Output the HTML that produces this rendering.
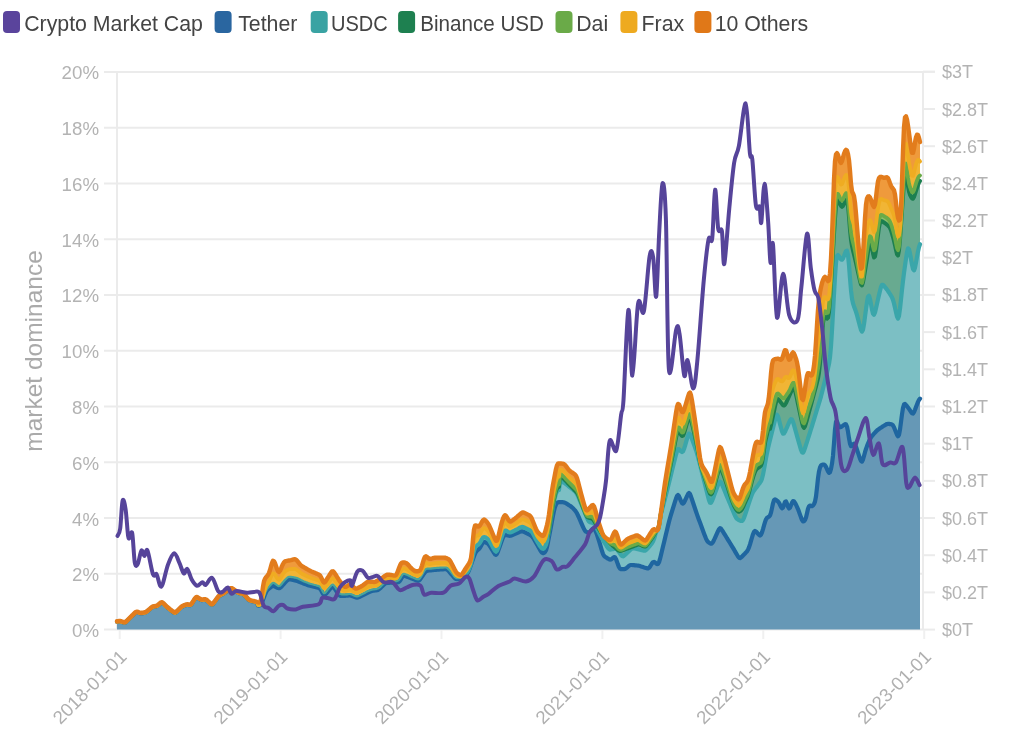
<!DOCTYPE html>
<html><head><meta charset="utf-8"><style>
html,body{margin:0;padding:0;background:#fff;width:1024px;height:740px;overflow:hidden}
svg{display:block;filter:blur(0.4px)}
.lb{font-family:"Liberation Sans",sans-serif;font-size:18px;fill:#b3b3b3}
.lg{font-family:"Liberation Sans",sans-serif;font-size:21.3px;fill:#444}
.tt{font-family:"Liberation Sans",sans-serif;font-size:24.5px;fill:#aaa}
.lbx{font-family:"Liberation Sans",sans-serif;font-size:18.6px;fill:#b0b0b0}
.lbl{font-family:"Liberation Sans",sans-serif;font-size:18.7px;fill:#b3b3b3}
</style></head><body>
<svg width="1024" height="740" viewBox="0 0 1024 740">
<rect width="1024" height="740" fill="#fff"/>
<line x1="104" y1="629.6" x2="923" y2="629.6" stroke="#ebebeb" stroke-width="2"/>
<text x="99" y="637.0" text-anchor="end" class="lbl">0%</text>
<line x1="104" y1="573.8" x2="923" y2="573.8" stroke="#ebebeb" stroke-width="2"/>
<text x="99" y="581.2" text-anchor="end" class="lbl">2%</text>
<line x1="104" y1="518.1" x2="923" y2="518.1" stroke="#ebebeb" stroke-width="2"/>
<text x="99" y="525.5" text-anchor="end" class="lbl">4%</text>
<line x1="104" y1="462.3" x2="923" y2="462.3" stroke="#ebebeb" stroke-width="2"/>
<text x="99" y="469.7" text-anchor="end" class="lbl">6%</text>
<line x1="104" y1="406.5" x2="923" y2="406.5" stroke="#ebebeb" stroke-width="2"/>
<text x="99" y="413.9" text-anchor="end" class="lbl">8%</text>
<line x1="104" y1="350.8" x2="923" y2="350.8" stroke="#ebebeb" stroke-width="2"/>
<text x="99" y="358.1" text-anchor="end" class="lbl">10%</text>
<line x1="104" y1="295.0" x2="923" y2="295.0" stroke="#ebebeb" stroke-width="2"/>
<text x="99" y="302.4" text-anchor="end" class="lbl">12%</text>
<line x1="104" y1="239.2" x2="923" y2="239.2" stroke="#ebebeb" stroke-width="2"/>
<text x="99" y="246.6" text-anchor="end" class="lbl">14%</text>
<line x1="104" y1="183.4" x2="923" y2="183.4" stroke="#ebebeb" stroke-width="2"/>
<text x="99" y="190.8" text-anchor="end" class="lbl">16%</text>
<line x1="104" y1="127.7" x2="923" y2="127.7" stroke="#ebebeb" stroke-width="2"/>
<text x="99" y="135.1" text-anchor="end" class="lbl">18%</text>
<line x1="104" y1="71.9" x2="923" y2="71.9" stroke="#ebebeb" stroke-width="2"/>
<text x="99" y="79.3" text-anchor="end" class="lbl">20%</text>
<line x1="935" y1="71.8" x2="923" y2="71.8" stroke="#ebebeb" stroke-width="2"/>
<line x1="923" y1="629.6" x2="935" y2="629.6" stroke="#ebebeb" stroke-width="2"/>
<text x="942" y="636.1" class="lb">$0T</text>
<line x1="923" y1="592.4" x2="935" y2="592.4" stroke="#ebebeb" stroke-width="2"/>
<text x="942" y="598.9" class="lb">$0.2T</text>
<line x1="923" y1="555.2" x2="935" y2="555.2" stroke="#ebebeb" stroke-width="2"/>
<text x="942" y="561.7" class="lb">$0.4T</text>
<line x1="923" y1="518.0" x2="935" y2="518.0" stroke="#ebebeb" stroke-width="2"/>
<text x="942" y="524.5" class="lb">$0.6T</text>
<line x1="923" y1="480.9" x2="935" y2="480.9" stroke="#ebebeb" stroke-width="2"/>
<text x="942" y="487.4" class="lb">$0.8T</text>
<line x1="923" y1="443.7" x2="935" y2="443.7" stroke="#ebebeb" stroke-width="2"/>
<text x="942" y="450.2" class="lb">$1T</text>
<line x1="923" y1="406.5" x2="935" y2="406.5" stroke="#ebebeb" stroke-width="2"/>
<text x="942" y="413.0" class="lb">$1.2T</text>
<line x1="923" y1="369.3" x2="935" y2="369.3" stroke="#ebebeb" stroke-width="2"/>
<text x="942" y="375.8" class="lb">$1.4T</text>
<line x1="923" y1="332.1" x2="935" y2="332.1" stroke="#ebebeb" stroke-width="2"/>
<text x="942" y="338.6" class="lb">$1.6T</text>
<line x1="923" y1="294.9" x2="935" y2="294.9" stroke="#ebebeb" stroke-width="2"/>
<text x="942" y="301.4" class="lb">$1.8T</text>
<line x1="923" y1="257.7" x2="935" y2="257.7" stroke="#ebebeb" stroke-width="2"/>
<text x="942" y="264.2" class="lb">$2T</text>
<line x1="923" y1="220.5" x2="935" y2="220.5" stroke="#ebebeb" stroke-width="2"/>
<text x="942" y="227.0" class="lb">$2.2T</text>
<line x1="923" y1="183.4" x2="935" y2="183.4" stroke="#ebebeb" stroke-width="2"/>
<text x="942" y="189.9" class="lb">$2.4T</text>
<line x1="923" y1="146.2" x2="935" y2="146.2" stroke="#ebebeb" stroke-width="2"/>
<text x="942" y="152.7" class="lb">$2.6T</text>
<line x1="923" y1="109.0" x2="935" y2="109.0" stroke="#ebebeb" stroke-width="2"/>
<text x="942" y="115.5" class="lb">$2.8T</text>
<line x1="923" y1="71.8" x2="935" y2="71.8" stroke="#ebebeb" stroke-width="2"/>
<text x="942" y="78.3" class="lb">$3T</text>
<line x1="117" y1="71" x2="117" y2="630" stroke="#ebebeb" stroke-width="2"/>
<line x1="923" y1="71" x2="923" y2="630" stroke="#ebebeb" stroke-width="2"/>
<line x1="119.7" y1="630" x2="119.7" y2="639" stroke="#f0f0f0" stroke-width="2"/>
<text transform="translate(127.7 658) rotate(-45)" text-anchor="end" class="lbx">2018-01-01</text>
<line x1="280.6" y1="630" x2="280.6" y2="639" stroke="#f0f0f0" stroke-width="2"/>
<text transform="translate(288.6 658) rotate(-45)" text-anchor="end" class="lbx">2019-01-01</text>
<line x1="441.5" y1="630" x2="441.5" y2="639" stroke="#f0f0f0" stroke-width="2"/>
<text transform="translate(449.5 658) rotate(-45)" text-anchor="end" class="lbx">2020-01-01</text>
<line x1="602.4" y1="630" x2="602.4" y2="639" stroke="#f0f0f0" stroke-width="2"/>
<text transform="translate(610.4 658) rotate(-45)" text-anchor="end" class="lbx">2021-01-01</text>
<line x1="763.3" y1="630" x2="763.3" y2="639" stroke="#f0f0f0" stroke-width="2"/>
<text transform="translate(771.3 658) rotate(-45)" text-anchor="end" class="lbx">2022-01-01</text>
<line x1="924.2" y1="630" x2="924.2" y2="639" stroke="#f0f0f0" stroke-width="2"/>
<text transform="translate(932.2 658) rotate(-45)" text-anchor="end" class="lbx">2023-01-01</text>
<path d="M117 621.8 L118 621.7 L119 621.6 L120 621.6 L121 621.8 L122 622.1 L123 622.4 L124 622.7 L125 622.7 L126 622.1 L127 621.1 L128 620.1 L129 619.1 L130 618.1 L131 617.1 L132 616.1 L133 615.2 L134 614.2 L135 613.2 L136 612.5 L137 612.3 L138 612.5 L139 612.9 L140 613.2 L141 613.4 L142 613.3 L143 613.2 L144 613 L145 612.8 L146 612.4 L147 611.7 L148 610.9 L149 610 L150 609.2 L151 608.3 L152 607.5 L153 606.9 L154 606.7 L155 606.6 L156 606.4 L157 606.1 L158 605.4 L159 604.6 L160 603.7 L161 603 L162 602.8 L163 603.4 L164 604.3 L165 605.3 L166 606.3 L167 607.3 L168 608.2 L169 608.9 L170 609.7 L171 610.5 L172 611.3 L173 612 L174 612.7 L175 613 L176 612.5 L177 611.6 L178 610.6 L179 609.6 L180 608.6 L181 607.6 L182 606.8 L183 606.3 L184 605.8 L185 605.5 L186 605.1 L187 604.9 L188 604.9 L189 605.1 L190 605.2 L191 604.8 L192 603.6 L193 602 L194 600.4 L195 598.8 L196 597.8 L197 597.6 L198 598.1 L199 598.8 L200 599.4 L201 599.9 L202 600.1 L203 600 L204 599.9 L205 599.8 L206 600.1 L207 600.7 L208 601.7 L209 602.6 L210 603.6 L211 604.5 L212 604.7 L213 604.1 L214 602.8 L215 601.5 L216 600.1 L217 598.7 L218 597.4 L219 596.3 L220 595.5 L221 595 L222 594.5 L223 594 L224 593.4 L225 592.7 L226 592 L227 591.3 L228 590.6 L229 589.8 L230 589.1 L231 588.7 L232 588.8 L233 589.4 L234 590.1 L235 590.8 L236 591.6 L237 592.3 L238 592.9 L239 593.3 L240 593.6 L241 593.8 L242 594 L243 594.3 L244 594.9 L245 595.9 L246 597 L247 598.2 L248 599.3 L249 600.1 L250 600.6 L251 600.9 L252 601.2 L253 601.4 L254 601.6 L255 601.9 L256 602.2 L257 602.6 L258 605.5 L259 605.6 L260 605.3 L261 604.1 L262 602.1 L263 599.8 L264 597.2 L265 594.6 L266 592.2 L267 590.4 L268 589.3 L269 588.5 L270 587.8 L271 587 L272 586.3 L273 586 L274 586.1 L275 586.5 L276 587 L277 587.5 L278 588 L279 588.2 L280 587.9 L281 587.1 L282 586 L283 584.9 L284 583.8 L285 582.7 L286 581.6 L287 580.6 L288 579.8 L289 579.4 L290 579.4 L291 579.5 L292 579.8 L293 580 L294 580.2 L295 580.4 L296 580.6 L297 580.9 L298 581.3 L299 581.7 L300 582.1 L301 582.5 L302 582.9 L303 583.3 L304 583.7 L305 584 L306 584.4 L307 584.8 L308 585.2 L309 585.5 L310 585.8 L311 586 L312 586.3 L313 586.5 L314 586.8 L315 587 L316 587.2 L317 587.5 L318 587.7 L319 588 L320 588.7 L321 590 L322 591.9 L323 593.8 L324 595 L325 594.8 L326 593.8 L327 592.6 L328 591.4 L329 590.2 L330 589 L331 587.8 L332 587 L333 586.9 L334 587.7 L335 589.1 L336 590.6 L337 592.1 L338 593.5 L339 594.8 L340 595.7 L341 596 L342 596 L343 596 L344 595.9 L345 595.8 L346 595.7 L347 595.7 L348 595.6 L349 595.5 L350 595.5 L351 595.7 L352 596 L353 596.4 L354 596.8 L355 597.1 L356 597.5 L357 597.7 L358 597.5 L359 597.1 L360 596.7 L361 596.2 L362 595.7 L363 595.2 L364 594.7 L365 594.2 L366 593.7 L367 593.2 L368 592.7 L369 592.2 L370 591.7 L371 591.3 L372 591 L373 590.8 L374 590.6 L375 590.5 L376 590.3 L377 590.2 L378 589.9 L379 589.3 L380 588.4 L381 587.4 L382 586.5 L383 585.5 L384 584.5 L385 583.7 L386 583.2 L387 582.9 L388 582.9 L389 582.8 L390 582.7 L391 582.7 L392 582.6 L393 582.6 L394 582.5 L395 582.5 L396 582.4 L397 582.3 L398 582.2 L399 581.8 L400 580.8 L401 579.1 L402 577.3 L403 576.1 L404 575.7 L405 576 L406 576.3 L407 576.7 L408 577.1 L409 577.4 L410 577.8 L411 578.2 L412 578.6 L413 579 L414 579.4 L415 579.8 L416 580.2 L417 580.5 L418 580.8 L419 580.5 L420 579.5 L421 578.1 L422 576.6 L423 575.2 L424 573.7 L425 572.3 L426 571.3 L427 570.8 L428 570.6 L429 570.5 L430 570.4 L431 570.3 L432 570.2 L433 570.1 L434 570 L435 569.9 L436 569.8 L437 569.7 L438 569.7 L439 569.6 L440 569.5 L441 569.4 L442 569.4 L443 569.3 L444 569.2 L445 569.2 L446 569.2 L447 569.5 L448 570.3 L449 571.4 L450 572.6 L451 573.8 L452 575 L453 576.2 L454 577.3 L455 578.4 L456 579 L457 579.1 L458 579 L459 578.7 L460 578.4 L461 577.9 L462 577.3 L463 576.6 L464 575.9 L465 575.3 L466 574.6 L467 573.8 L468 572.5 L469 570.3 L470 567.6 L471 564.8 L472 561.9 L473 559.1 L474 556.3 L475 553.7 L476 551.8 L477 550.6 L478 549.8 L479 548.9 L480 547.6 L481 545.9 L482 544.1 L483 542.6 L484 541.9 L485 542.1 L486 542.5 L487 543 L488 543.7 L489 544.8 L490 546.3 L491 547.9 L492 549.6 L493 551.2 L494 552.9 L495 554.4 L496 554.9 L497 553.8 L498 551.4 L499 548.6 L500 545.8 L501 542.9 L502 540.1 L503 537.5 L504 535.7 L505 535.1 L506 535.1 L507 535.3 L508 535.5 L509 535.7 L510 535.8 L511 535.6 L512 535.2 L513 534.8 L514 534.4 L515 533.9 L516 533.5 L517 533.1 L518 532.6 L519 532.2 L520 531.7 L521 531.4 L522 531.3 L523 531.5 L524 531.9 L525 532.4 L526 532.9 L527 533.4 L528 533.9 L529 534.4 L530 534.9 L531 535.5 L532 536.3 L533 537.6 L534 539.2 L535 540.9 L536 542.7 L537 544.5 L538 546.2 L539 548 L540 549.8 L541 551.4 L542 552.7 L543 553.2 L544 552.8 L545 552 L546 550.3 L547 546.9 L548 542.2 L549 536.9 L550 531.6 L551 526.3 L552 520.9 L553 515.7 L554 510.8 L555 507 L556 504.5 L557 502.9 L558 502.3 L559 502.2 L560 502.2 L561 502.2 L562 502.2 L563 502.2 L564 502.4 L565 502.7 L566 503.3 L567 503.9 L568 504.5 L569 505.2 L570 505.8 L571 506.5 L572 507.3 L573 508.2 L574 509.3 L575 510.4 L576 511.7 L577 513.4 L578 515.5 L579 517.7 L580 520 L581 522.3 L582 524.6 L583 526.8 L584 529 L585 530.7 L586 531.7 L587 532.2 L588 532.5 L589 532.4 L590 531.7 L591 530.7 L592 529.6 L593 528.6 L594 528.4 L595 529.7 L596 532.1 L597 534.8 L598 537.7 L599 540.8 L600 544.1 L601 547.6 L602 551 L603 553.9 L604 555.7 L605 556.7 L606 557.4 L607 558 L608 558.7 L609 559.2 L610 559.6 L611 559.5 L612 558.8 L613 557.9 L614 557.1 L615 557.3 L616 559 L617 561.8 L618 564.6 L619 567.1 L620 568.6 L621 569.1 L622 569.2 L623 569.2 L624 569.2 L625 569 L626 568.4 L627 567.6 L628 566.7 L629 565.8 L630 565.2 L631 565 L632 565 L633 565.1 L634 565.2 L635 565.3 L636 565.4 L637 565.5 L638 565.6 L639 565.8 L640 566.1 L641 566.4 L642 566.7 L643 567 L644 567.4 L645 567.7 L646 568 L647 568.3 L648 568.4 L649 567.8 L650 566.6 L651 565 L652 563.4 L653 562.2 L654 561.9 L655 562.4 L656 563.3 L657 564.1 L658 564 L659 562.3 L660 558.9 L661 554.9 L662 550.7 L663 546.6 L664 542.4 L665 538.2 L666 534.1 L667 529.9 L668 525.8 L669 521.8 L670 518 L671 514.6 L672 511.3 L673 508.1 L674 504.9 L675 501.7 L676 498.6 L677 496 L678 495 L679 496.2 L680 498.6 L681 501.1 L682 503.1 L683 503.7 L684 502.6 L685 500.5 L686 498.3 L687 496.1 L688 494.1 L689 493.1 L690 494.1 L691 496.6 L692 499.5 L693 502.5 L694 505.5 L695 508.5 L696 511.5 L697 514.4 L698 517.2 L699 519.9 L700 522.6 L701 525.3 L702 528 L703 530.7 L704 533.4 L705 536 L706 538.6 L707 540.7 L708 541.9 L709 542.7 L710 543.3 L711 543.7 L712 543.4 L713 542 L714 540 L715 537.8 L716 535.6 L717 533.4 L718 531.2 L719 529.2 L720 528.2 L721 528.7 L722 530.1 L723 531.7 L724 533.3 L725 534.9 L726 536.5 L727 538.2 L728 539.8 L729 541.4 L730 543 L731 544.7 L732 546.3 L733 547.9 L734 549.6 L735 551.4 L736 553.1 L737 554.8 L738 556.5 L739 557.7 L740 558.1 L741 557.5 L742 556.6 L743 555.5 L744 554.5 L745 553.5 L746 552.4 L747 551.3 L748 549.7 L749 547.4 L750 544.3 L751 540.9 L752 537.5 L753 534.2 L754 531.8 L755 531 L756 531.6 L757 532.6 L758 533.8 L759 534.8 L760 535.5 L761 534.8 L762 532.4 L763 529.1 L764 525.5 L765 522.1 L766 519.3 L767 517.8 L768 517.2 L769 516.7 L770 515.5 L771 512.6 L772 508.1 L773 503.3 L774 500.2 L775 499.4 L776 499.9 L777 500.7 L778 501.5 L779 502.8 L780 504.8 L781 507 L782 508.3 L783 507.5 L784 504.7 L785 502 L786 501.5 L787 503.6 L788 506.8 L789 508.5 L790 507.6 L791 505.2 L792 502.7 L793 501.2 L794 501.3 L795 502.8 L796 504.7 L797 506.8 L798 509.1 L799 511.8 L800 514.6 L801 517.4 L802 519.9 L803 521.5 L804 521.3 L805 520 L806 517.4 L807 513.2 L808 508.7 L809 506.2 L810 505.6 L811 505.9 L812 506.1 L813 505.5 L814 504.1 L815 501.6 L816 496.5 L817 487.7 L818 478.2 L819 471.4 L820 467.5 L821 465.5 L822 464.8 L823 464.6 L824 464.6 L825 465.2 L826 466.9 L827 469.2 L828 471.4 L829 472.9 L830 472.2 L831 468.9 L832 463.7 L833 455.7 L834 443.2 L835 429.5 L836 421.8 L837 421.4 L838 424 L839 426.4 L840 427.3 L841 427 L842 426.3 L843 425.6 L844 424.8 L845 424.2 L846 424.3 L847 426.5 L848 431.7 L849 438.2 L850 443.7 L851 446.2 L852 445.9 L853 444.4 L854 443.6 L855 444.5 L856 446.8 L857 449.7 L858 452.7 L859 455.6 L860 458.6 L861 461 L862 461.6 L863 459.5 L864 456 L865 452.2 L866 448.9 L867 446.1 L868 443.6 L869 441.2 L870 439.1 L871 437.4 L872 436 L873 434.8 L874 433.7 L875 432.6 L876 431.5 L877 430.5 L878 429.7 L879 429 L880 428.3 L881 427.6 L882 427 L883 426.3 L884 425.7 L885 425.1 L886 424.5 L887 424 L888 423.9 L889 423.9 L890 424.1 L891 424.2 L892 424.5 L893 425.4 L894 427.2 L895 429.7 L896 432.3 L897 434.8 L898 436.3 L899 434.8 L900 429.5 L901 422 L902 414.3 L903 407.9 L904 404.5 L905 404 L906 405 L907 406.2 L908 407.5 L909 408.9 L910 410.4 L911 412 L912 413.3 L913 413.6 L914 412.1 L915 409.7 L916 407 L917 404.4 L918 401.9 L919 399.8 L920 398.6 L920 629.5 L919 629.5 L918 629.5 L917 629.5 L916 629.5 L915 629.5 L914 629.5 L913 629.5 L912 629.5 L911 629.5 L910 629.5 L909 629.5 L908 629.5 L907 629.5 L906 629.5 L905 629.5 L904 629.5 L903 629.5 L902 629.5 L901 629.5 L900 629.5 L899 629.5 L898 629.5 L897 629.5 L896 629.5 L895 629.5 L894 629.5 L893 629.5 L892 629.5 L891 629.5 L890 629.5 L889 629.5 L888 629.5 L887 629.5 L886 629.5 L885 629.5 L884 629.5 L883 629.5 L882 629.5 L881 629.5 L880 629.5 L879 629.5 L878 629.5 L877 629.5 L876 629.5 L875 629.5 L874 629.5 L873 629.5 L872 629.5 L871 629.5 L870 629.5 L869 629.5 L868 629.5 L867 629.5 L866 629.5 L865 629.5 L864 629.5 L863 629.5 L862 629.5 L861 629.5 L860 629.5 L859 629.5 L858 629.5 L857 629.5 L856 629.5 L855 629.5 L854 629.5 L853 629.5 L852 629.5 L851 629.5 L850 629.5 L849 629.5 L848 629.5 L847 629.5 L846 629.5 L845 629.5 L844 629.5 L843 629.5 L842 629.5 L841 629.5 L840 629.5 L839 629.5 L838 629.5 L837 629.5 L836 629.5 L835 629.5 L834 629.5 L833 629.5 L832 629.5 L831 629.5 L830 629.5 L829 629.5 L828 629.5 L827 629.5 L826 629.5 L825 629.5 L824 629.5 L823 629.5 L822 629.5 L821 629.5 L820 629.5 L819 629.5 L818 629.5 L817 629.5 L816 629.5 L815 629.5 L814 629.5 L813 629.5 L812 629.5 L811 629.5 L810 629.5 L809 629.5 L808 629.5 L807 629.5 L806 629.5 L805 629.5 L804 629.5 L803 629.5 L802 629.5 L801 629.5 L800 629.5 L799 629.5 L798 629.5 L797 629.5 L796 629.5 L795 629.5 L794 629.5 L793 629.5 L792 629.5 L791 629.5 L790 629.5 L789 629.5 L788 629.5 L787 629.5 L786 629.5 L785 629.5 L784 629.5 L783 629.5 L782 629.5 L781 629.5 L780 629.5 L779 629.5 L778 629.5 L777 629.5 L776 629.5 L775 629.5 L774 629.5 L773 629.5 L772 629.5 L771 629.5 L770 629.5 L769 629.5 L768 629.5 L767 629.5 L766 629.5 L765 629.5 L764 629.5 L763 629.5 L762 629.5 L761 629.5 L760 629.5 L759 629.5 L758 629.5 L757 629.5 L756 629.5 L755 629.5 L754 629.5 L753 629.5 L752 629.5 L751 629.5 L750 629.5 L749 629.5 L748 629.5 L747 629.5 L746 629.5 L745 629.5 L744 629.5 L743 629.5 L742 629.5 L741 629.5 L740 629.5 L739 629.5 L738 629.5 L737 629.5 L736 629.5 L735 629.5 L734 629.5 L733 629.5 L732 629.5 L731 629.5 L730 629.5 L729 629.5 L728 629.5 L727 629.5 L726 629.5 L725 629.5 L724 629.5 L723 629.5 L722 629.5 L721 629.5 L720 629.5 L719 629.5 L718 629.5 L717 629.5 L716 629.5 L715 629.5 L714 629.5 L713 629.5 L712 629.5 L711 629.5 L710 629.5 L709 629.5 L708 629.5 L707 629.5 L706 629.5 L705 629.5 L704 629.5 L703 629.5 L702 629.5 L701 629.5 L700 629.5 L699 629.5 L698 629.5 L697 629.5 L696 629.5 L695 629.5 L694 629.5 L693 629.5 L692 629.5 L691 629.5 L690 629.5 L689 629.5 L688 629.5 L687 629.5 L686 629.5 L685 629.5 L684 629.5 L683 629.5 L682 629.5 L681 629.5 L680 629.5 L679 629.5 L678 629.5 L677 629.5 L676 629.5 L675 629.5 L674 629.5 L673 629.5 L672 629.5 L671 629.5 L670 629.5 L669 629.5 L668 629.5 L667 629.5 L666 629.5 L665 629.5 L664 629.5 L663 629.5 L662 629.5 L661 629.5 L660 629.5 L659 629.5 L658 629.5 L657 629.5 L656 629.5 L655 629.5 L654 629.5 L653 629.5 L652 629.5 L651 629.5 L650 629.5 L649 629.5 L648 629.5 L647 629.5 L646 629.5 L645 629.5 L644 629.5 L643 629.5 L642 629.5 L641 629.5 L640 629.5 L639 629.5 L638 629.5 L637 629.5 L636 629.5 L635 629.5 L634 629.5 L633 629.5 L632 629.5 L631 629.5 L630 629.5 L629 629.5 L628 629.5 L627 629.5 L626 629.5 L625 629.5 L624 629.5 L623 629.5 L622 629.5 L621 629.5 L620 629.5 L619 629.5 L618 629.5 L617 629.5 L616 629.5 L615 629.5 L614 629.5 L613 629.5 L612 629.5 L611 629.5 L610 629.5 L609 629.5 L608 629.5 L607 629.5 L606 629.5 L605 629.5 L604 629.5 L603 629.5 L602 629.5 L601 629.5 L600 629.5 L599 629.5 L598 629.5 L597 629.5 L596 629.5 L595 629.5 L594 629.5 L593 629.5 L592 629.5 L591 629.5 L590 629.5 L589 629.5 L588 629.5 L587 629.5 L586 629.5 L585 629.5 L584 629.5 L583 629.5 L582 629.5 L581 629.5 L580 629.5 L579 629.5 L578 629.5 L577 629.5 L576 629.5 L575 629.5 L574 629.5 L573 629.5 L572 629.5 L571 629.5 L570 629.5 L569 629.5 L568 629.5 L567 629.5 L566 629.5 L565 629.5 L564 629.5 L563 629.5 L562 629.5 L561 629.5 L560 629.5 L559 629.5 L558 629.5 L557 629.5 L556 629.5 L555 629.5 L554 629.5 L553 629.5 L552 629.5 L551 629.5 L550 629.5 L549 629.5 L548 629.5 L547 629.5 L546 629.5 L545 629.5 L544 629.5 L543 629.5 L542 629.5 L541 629.5 L540 629.5 L539 629.5 L538 629.5 L537 629.5 L536 629.5 L535 629.5 L534 629.5 L533 629.5 L532 629.5 L531 629.5 L530 629.5 L529 629.5 L528 629.5 L527 629.5 L526 629.5 L525 629.5 L524 629.5 L523 629.5 L522 629.5 L521 629.5 L520 629.5 L519 629.5 L518 629.5 L517 629.5 L516 629.5 L515 629.5 L514 629.5 L513 629.5 L512 629.5 L511 629.5 L510 629.5 L509 629.5 L508 629.5 L507 629.5 L506 629.5 L505 629.5 L504 629.5 L503 629.5 L502 629.5 L501 629.5 L500 629.5 L499 629.5 L498 629.5 L497 629.5 L496 629.5 L495 629.5 L494 629.5 L493 629.5 L492 629.5 L491 629.5 L490 629.5 L489 629.5 L488 629.5 L487 629.5 L486 629.5 L485 629.5 L484 629.5 L483 629.5 L482 629.5 L481 629.5 L480 629.5 L479 629.5 L478 629.5 L477 629.5 L476 629.5 L475 629.5 L474 629.5 L473 629.5 L472 629.5 L471 629.5 L470 629.5 L469 629.5 L468 629.5 L467 629.5 L466 629.5 L465 629.5 L464 629.5 L463 629.5 L462 629.5 L461 629.5 L460 629.5 L459 629.5 L458 629.5 L457 629.5 L456 629.5 L455 629.5 L454 629.5 L453 629.5 L452 629.5 L451 629.5 L450 629.5 L449 629.5 L448 629.5 L447 629.5 L446 629.5 L445 629.5 L444 629.5 L443 629.5 L442 629.5 L441 629.5 L440 629.5 L439 629.5 L438 629.5 L437 629.5 L436 629.5 L435 629.5 L434 629.5 L433 629.5 L432 629.5 L431 629.5 L430 629.5 L429 629.5 L428 629.5 L427 629.5 L426 629.5 L425 629.5 L424 629.5 L423 629.5 L422 629.5 L421 629.5 L420 629.5 L419 629.5 L418 629.5 L417 629.5 L416 629.5 L415 629.5 L414 629.5 L413 629.5 L412 629.5 L411 629.5 L410 629.5 L409 629.5 L408 629.5 L407 629.5 L406 629.5 L405 629.5 L404 629.5 L403 629.5 L402 629.5 L401 629.5 L400 629.5 L399 629.5 L398 629.5 L397 629.5 L396 629.5 L395 629.5 L394 629.5 L393 629.5 L392 629.5 L391 629.5 L390 629.5 L389 629.5 L388 629.5 L387 629.5 L386 629.5 L385 629.5 L384 629.5 L383 629.5 L382 629.5 L381 629.5 L380 629.5 L379 629.5 L378 629.5 L377 629.5 L376 629.5 L375 629.5 L374 629.5 L373 629.5 L372 629.5 L371 629.5 L370 629.5 L369 629.5 L368 629.5 L367 629.5 L366 629.5 L365 629.5 L364 629.5 L363 629.5 L362 629.5 L361 629.5 L360 629.5 L359 629.5 L358 629.5 L357 629.5 L356 629.5 L355 629.5 L354 629.5 L353 629.5 L352 629.5 L351 629.5 L350 629.5 L349 629.5 L348 629.5 L347 629.5 L346 629.5 L345 629.5 L344 629.5 L343 629.5 L342 629.5 L341 629.5 L340 629.5 L339 629.5 L338 629.5 L337 629.5 L336 629.5 L335 629.5 L334 629.5 L333 629.5 L332 629.5 L331 629.5 L330 629.5 L329 629.5 L328 629.5 L327 629.5 L326 629.5 L325 629.5 L324 629.5 L323 629.5 L322 629.5 L321 629.5 L320 629.5 L319 629.5 L318 629.5 L317 629.5 L316 629.5 L315 629.5 L314 629.5 L313 629.5 L312 629.5 L311 629.5 L310 629.5 L309 629.5 L308 629.5 L307 629.5 L306 629.5 L305 629.5 L304 629.5 L303 629.5 L302 629.5 L301 629.5 L300 629.5 L299 629.5 L298 629.5 L297 629.5 L296 629.5 L295 629.5 L294 629.5 L293 629.5 L292 629.5 L291 629.5 L290 629.5 L289 629.5 L288 629.5 L287 629.5 L286 629.5 L285 629.5 L284 629.5 L283 629.5 L282 629.5 L281 629.5 L280 629.5 L279 629.5 L278 629.5 L277 629.5 L276 629.5 L275 629.5 L274 629.5 L273 629.5 L272 629.5 L271 629.5 L270 629.5 L269 629.5 L268 629.5 L267 629.5 L266 629.5 L265 629.5 L264 629.5 L263 629.5 L262 629.5 L261 629.5 L260 629.5 L259 629.5 L258 629.5 L257 629.5 L256 629.5 L255 629.5 L254 629.5 L253 629.5 L252 629.5 L251 629.5 L250 629.5 L249 629.5 L248 629.5 L247 629.5 L246 629.5 L245 629.5 L244 629.5 L243 629.5 L242 629.5 L241 629.5 L240 629.5 L239 629.5 L238 629.5 L237 629.5 L236 629.5 L235 629.5 L234 629.5 L233 629.5 L232 629.5 L231 629.5 L230 629.5 L229 629.5 L228 629.5 L227 629.5 L226 629.5 L225 629.5 L224 629.5 L223 629.5 L222 629.5 L221 629.5 L220 629.5 L219 629.5 L218 629.5 L217 629.5 L216 629.5 L215 629.5 L214 629.5 L213 629.5 L212 629.5 L211 629.5 L210 629.5 L209 629.5 L208 629.5 L207 629.5 L206 629.5 L205 629.5 L204 629.5 L203 629.5 L202 629.5 L201 629.5 L200 629.5 L199 629.5 L198 629.5 L197 629.5 L196 629.5 L195 629.5 L194 629.5 L193 629.5 L192 629.5 L191 629.5 L190 629.5 L189 629.5 L188 629.5 L187 629.5 L186 629.5 L185 629.5 L184 629.5 L183 629.5 L182 629.5 L181 629.5 L180 629.5 L179 629.5 L178 629.5 L177 629.5 L176 629.5 L175 629.5 L174 629.5 L173 629.5 L172 629.5 L171 629.5 L170 629.5 L169 629.5 L168 629.5 L167 629.5 L166 629.5 L165 629.5 L164 629.5 L163 629.5 L162 629.5 L161 629.5 L160 629.5 L159 629.5 L158 629.5 L157 629.5 L156 629.5 L155 629.5 L154 629.5 L153 629.5 L152 629.5 L151 629.5 L150 629.5 L149 629.5 L148 629.5 L147 629.5 L146 629.5 L145 629.5 L144 629.5 L143 629.5 L142 629.5 L141 629.5 L140 629.5 L139 629.5 L138 629.5 L137 629.5 L136 629.5 L135 629.5 L134 629.5 L133 629.5 L132 629.5 L131 629.5 L130 629.5 L129 629.5 L128 629.5 L127 629.5 L126 629.5 L125 629.5 L124 629.5 L123 629.5 L122 629.5 L121 629.5 L120 629.5 L119 629.5 L118 629.5 L117 629.5Z" fill="#6698b6"/>
<path d="M117 621.8 L118 621.7 L119 621.6 L120 621.6 L121 621.8 L122 622.1 L123 622.4 L124 622.7 L125 622.7 L126 622.1 L127 621.1 L128 620.1 L129 619.1 L130 618.1 L131 617.1 L132 616.1 L133 615.2 L134 614.2 L135 613.2 L136 612.5 L137 612.3 L138 612.5 L139 612.9 L140 613.2 L141 613.4 L142 613.3 L143 613.2 L144 613 L145 612.8 L146 612.4 L147 611.7 L148 610.9 L149 610 L150 609.2 L151 608.3 L152 607.5 L153 606.9 L154 606.7 L155 606.6 L156 606.4 L157 606.1 L158 605.4 L159 604.6 L160 603.7 L161 603 L162 602.8 L163 603.4 L164 604.3 L165 605.3 L166 606.3 L167 607.3 L168 608.2 L169 608.9 L170 609.7 L171 610.5 L172 611.3 L173 612 L174 612.7 L175 613 L176 612.5 L177 611.6 L178 610.6 L179 609.6 L180 608.6 L181 607.6 L182 606.8 L183 606.3 L184 605.8 L185 605.5 L186 605.1 L187 604.9 L188 604.9 L189 605.1 L190 605.2 L191 604.8 L192 603.6 L193 602 L194 600.4 L195 598.8 L196 597.8 L197 597.6 L198 598.1 L199 598.8 L200 599.4 L201 599.9 L202 600.1 L203 600 L204 599.9 L205 599.8 L206 600.1 L207 600.7 L208 601.7 L209 602.6 L210 603.6 L211 604.5 L212 604.7 L213 604.1 L214 602.8 L215 601.5 L216 600.1 L217 598.7 L218 597.4 L219 596.3 L220 595.5 L221 595 L222 594.5 L223 594 L224 593.4 L225 592.7 L226 592 L227 591.3 L228 590.6 L229 589.8 L230 589.1 L231 588.7 L232 588.8 L233 589.4 L234 590.1 L235 590.8 L236 591.6 L237 592.3 L238 592.9 L239 593.3 L240 593.6 L241 593.8 L242 594 L243 594.3 L244 594.9 L245 595.9 L246 597 L247 598.2 L248 599.3 L249 600.1 L250 600.6 L251 600.9 L252 601.2 L253 601.4 L254 601.6 L255 601.9 L256 602.2 L257 602.5 L258 605.4 L259 605.5 L260 605.1 L261 603.8 L262 601.7 L263 599 L264 596.1 L265 593.3 L266 590.9 L267 589.1 L268 587.8 L269 586.8 L270 585.6 L271 584.5 L272 583.5 L273 582.9 L274 583 L275 583.7 L276 584.4 L277 585.2 L278 585.9 L279 586.1 L280 585.7 L281 584.7 L282 583.5 L283 582.3 L284 581.1 L285 580 L286 579 L287 578 L288 577.2 L289 576.9 L290 576.8 L291 576.9 L292 577.1 L293 577.2 L294 577.3 L295 577.5 L296 577.8 L297 578.1 L298 578.6 L299 579.1 L300 579.6 L301 580.1 L302 580.5 L303 580.9 L304 581.4 L305 581.8 L306 582.2 L307 582.6 L308 583 L309 583.4 L310 583.7 L311 584 L312 584.2 L313 584.5 L314 584.8 L315 585 L316 585.3 L317 585.6 L318 585.8 L319 586.2 L320 586.8 L321 588.2 L322 590.1 L323 592 L324 593.2 L325 593 L326 591.9 L327 590.7 L328 589.4 L329 588.1 L330 586.9 L331 585.7 L332 584.8 L333 584.7 L334 585.5 L335 586.9 L336 588.4 L337 589.9 L338 591.4 L339 592.7 L340 593.7 L341 594.1 L342 594.3 L343 594.4 L344 594.5 L345 594.5 L346 594.4 L347 594.3 L348 594.1 L349 594 L350 594 L351 594.2 L352 594.6 L353 595 L354 595.5 L355 595.9 L356 596.2 L357 596.3 L358 596.2 L359 595.8 L360 595.3 L361 594.8 L362 594.3 L363 593.8 L364 593.2 L365 592.7 L366 592.1 L367 591.6 L368 591.1 L369 590.7 L370 590.3 L371 589.9 L372 589.7 L373 589.5 L374 589.4 L375 589.2 L376 589.1 L377 588.8 L378 588.5 L379 587.9 L380 587.1 L381 586.1 L382 585.2 L383 584.3 L384 583.4 L385 582.6 L386 582 L387 581.8 L388 581.7 L389 581.6 L390 581.6 L391 581.6 L392 581.5 L393 581.5 L394 581.5 L395 581.5 L396 581.3 L397 581 L398 580.5 L399 579.8 L400 578.6 L401 576.9 L402 575.2 L403 574.1 L404 573.8 L405 574 L406 574.4 L407 574.8 L408 575.2 L409 575.7 L410 576.2 L411 576.7 L412 577.2 L413 577.6 L414 578.1 L415 578.5 L416 578.9 L417 579.2 L418 579.4 L419 579.1 L420 578.2 L421 576.7 L422 575 L423 573.2 L424 571.5 L425 570 L426 569 L427 568.7 L428 568.7 L429 568.7 L430 568.7 L431 568.6 L432 568.4 L433 568.3 L434 568.2 L435 568.1 L436 568 L437 567.9 L438 567.9 L439 567.8 L440 567.7 L441 567.7 L442 567.6 L443 567.6 L444 567.5 L445 567.5 L446 567.5 L447 567.8 L448 568.6 L449 569.6 L450 570.8 L451 572.1 L452 573.4 L453 574.7 L454 576 L455 577.2 L456 577.9 L457 578.2 L458 578.2 L459 578.1 L460 577.9 L461 577.5 L462 576.8 L463 576 L464 575.2 L465 574.3 L466 573.5 L467 572.5 L468 571.2 L469 569.1 L470 566.5 L471 563.5 L472 559.7 L473 555.2 L474 551 L475 548 L476 546.4 L477 545.5 L478 544.9 L479 544 L480 542.7 L481 541 L482 539.1 L483 537.6 L484 537 L485 537.2 L486 537.7 L487 538.4 L488 539.2 L489 540.4 L490 542 L491 543.8 L492 545.6 L493 547.5 L494 549.3 L495 550.9 L496 551.7 L497 550.8 L498 548.3 L499 545.3 L500 542.1 L501 539 L502 536 L503 533.3 L504 531.3 L505 530.6 L506 530.7 L507 531.2 L508 531.8 L509 532.3 L510 532.5 L511 532.3 L512 531.9 L513 531.4 L514 530.9 L515 530.4 L516 529.8 L517 529.3 L518 528.8 L519 528.2 L520 527.7 L521 527.2 L522 526.9 L523 527 L524 527.4 L525 527.9 L526 528.4 L527 528.9 L528 529.4 L529 529.9 L530 530.4 L531 531.1 L532 532.2 L533 533.7 L534 535.6 L535 537.5 L536 539.4 L537 541.2 L538 542.9 L539 544.5 L540 546 L541 547.4 L542 548.5 L543 548.8 L544 548.3 L545 546.9 L546 544.6 L547 541.1 L548 536.3 L549 530.7 L550 524.6 L551 518.3 L552 512.2 L553 506.6 L554 501.5 L555 497.1 L556 493.7 L557 491.3 L558 490.3 L559 490 L560 481.3 L561 481.6 L562 481.9 L563 482.3 L564 482.7 L565 483.3 L566 484.1 L567 484.9 L568 485.7 L569 486.5 L570 487.3 L571 488.1 L572 488.9 L573 489.7 L574 490.5 L575 491.3 L576 492.4 L577 494.1 L578 496.2 L579 498.5 L580 501 L581 503.4 L582 505.8 L583 508.2 L584 510.6 L585 513.1 L586 515.5 L587 517.8 L588 520 L589 521.5 L590 522.2 L591 522.5 L592 522.7 L593 523 L594 523.6 L595 524.9 L596 526.8 L597 528.7 L598 530.8 L599 532.8 L600 534.8 L601 536.7 L602 538.5 L603 540.2 L604 541.8 L605 543.4 L606 545 L607 546.6 L608 548.1 L609 549.1 L610 549.6 L611 549.5 L612 549.3 L613 549.1 L614 548.9 L615 548.8 L616 548.9 L617 549.5 L618 550.7 L619 552.1 L620 553.6 L621 555 L622 556 L623 556.3 L624 555.8 L625 554.9 L626 554 L627 553 L628 552.1 L629 551.1 L630 550.2 L631 549.3 L632 548.6 L633 548.3 L634 548.3 L635 548.5 L636 548.8 L637 549 L638 549.3 L639 549.5 L640 549.8 L641 550 L642 550.3 L643 550.5 L644 550.7 L645 550.6 L646 550.1 L647 549.1 L648 548 L649 546.8 L650 545.6 L651 544.4 L652 543.1 L653 541.5 L654 539 L655 535.8 L656 532.1 L657 530.4 L658 529.4 L659 525.6 L660 519.4 L661 513.6 L662 509.9 L663 506.2 L664 502.5 L665 498.7 L666 494.8 L667 490.7 L668 486.7 L669 482.7 L670 478.7 L671 474.7 L672 470.6 L673 466.6 L674 462.6 L675 458.6 L676 454.6 L677 451.2 L678 449.2 L679 449.2 L680 450.2 L681 451.4 L682 452.1 L683 451.4 L684 449 L685 445.8 L686 442.3 L687 438.8 L688 435.6 L689 433.7 L690 434.1 L691 436.2 L692 439 L693 441.7 L694 444.6 L695 447.4 L696 450.2 L697 453.3 L698 456.8 L699 460.6 L700 464.6 L701 468.6 L702 472.6 L703 476.6 L704 480.5 L705 484.5 L706 488.5 L707 492.5 L708 496.5 L709 500.2 L710 502.7 L711 502.8 L712 501 L713 498.5 L714 495.8 L715 493.1 L716 490.4 L717 487.7 L718 485.1 L719 482.7 L720 481.6 L721 482.4 L722 484.5 L723 486.9 L724 489.3 L725 491.7 L726 494.1 L727 496.6 L728 499 L729 501.4 L730 503.8 L731 506.2 L732 508.6 L733 511 L734 513.4 L735 515.7 L736 517.6 L737 518.9 L738 519.6 L739 520.1 L740 520.6 L741 521 L742 521 L743 520 L744 517.8 L745 515 L746 512 L747 509 L748 505.9 L749 502.9 L750 499.9 L751 497 L752 494.3 L753 492.2 L754 490.6 L755 489.3 L756 487.9 L757 486.6 L758 485.3 L759 483.9 L760 482.6 L761 481.1 L762 478.6 L763 474.6 L764 469.4 L765 463.8 L766 458.2 L767 453 L768 448.2 L769 444 L770 440 L771 436 L772 432 L773 427.9 L774 423.9 L775 420 L776 416.4 L777 414.8 L778 416.4 L779 419.9 L780 423.9 L781 427.8 L782 431.5 L783 433.7 L784 433.5 L785 431.8 L786 429.5 L787 427.3 L788 425 L789 422.7 L790 420.5 L791 419.1 L792 419.5 L793 421.9 L794 425.2 L795 428.7 L796 432.3 L797 435.8 L798 439.3 L799 442.9 L800 446.4 L801 449.8 L802 452.3 L803 452.7 L804 450.9 L805 448 L806 444.9 L807 441.8 L808 438.6 L809 435.5 L810 432.3 L811 429.2 L812 426 L813 422.7 L814 419.5 L815 416.2 L816 412.9 L817 409.7 L818 406.4 L819 403.2 L820 399.8 L821 396.3 L822 392.4 L823 388.5 L824 384.5 L825 380.5 L826 376.4 L827 372.4 L828 368.4 L829 363.9 L830 357.3 L831 346.1 L832 330.3 L833 312.4 L834 294.1 L835 276.6 L836 262.8 L837 256 L838 255.1 L839 256.3 L840 257.9 L841 259.4 L842 259.7 L843 258.4 L844 256 L845 253.4 L846 251.1 L847 250.6 L848 255 L849 265.3 L850 278.4 L851 290.4 L852 298.8 L853 303.4 L854 306.4 L855 309 L856 311.9 L857 315.2 L858 318.9 L859 322.7 L860 326.4 L861 329.9 L862 331.6 L863 329.7 L864 324.1 L865 316.8 L866 309.2 L867 302 L868 296.7 L869 295.7 L870 299 L871 304.2 L872 309.6 L873 313.7 L874 314.8 L875 312.4 L876 308.3 L877 303.9 L878 299.4 L879 295 L880 290.7 L881 287 L882 284.9 L883 284.9 L884 285.8 L885 287.1 L886 288.3 L887 289.6 L888 291 L889 292.5 L890 294.1 L891 295.7 L892 297.4 L893 299.9 L894 303.5 L895 307.8 L896 312.4 L897 316.6 L898 318.6 L899 316 L900 308.8 L901 299.5 L902 289.9 L903 281 L904 273.1 L905 265.8 L906 258.7 L907 252.2 L908 248.3 L909 249.2 L910 253.5 L911 259 L912 264.5 L913 269 L914 270.4 L915 267.7 L916 262.6 L917 257 L918 251.6 L919 247 L920 244.2 L920 398.6 L919 399.8 L918 401.9 L917 404.4 L916 407 L915 409.7 L914 412.1 L913 413.6 L912 413.3 L911 412 L910 410.4 L909 408.9 L908 407.5 L907 406.2 L906 405 L905 404 L904 404.5 L903 407.9 L902 414.3 L901 422 L900 429.5 L899 434.8 L898 436.3 L897 434.8 L896 432.3 L895 429.7 L894 427.2 L893 425.4 L892 424.5 L891 424.2 L890 424.1 L889 423.9 L888 423.9 L887 424 L886 424.5 L885 425.1 L884 425.7 L883 426.3 L882 427 L881 427.6 L880 428.3 L879 429 L878 429.7 L877 430.5 L876 431.5 L875 432.6 L874 433.7 L873 434.8 L872 436 L871 437.4 L870 439.1 L869 441.2 L868 443.6 L867 446.1 L866 448.9 L865 452.2 L864 456 L863 459.5 L862 461.6 L861 461 L860 458.6 L859 455.6 L858 452.7 L857 449.7 L856 446.8 L855 444.5 L854 443.6 L853 444.4 L852 445.9 L851 446.2 L850 443.7 L849 438.2 L848 431.7 L847 426.5 L846 424.3 L845 424.2 L844 424.8 L843 425.6 L842 426.3 L841 427 L840 427.3 L839 426.4 L838 424 L837 421.4 L836 421.8 L835 429.5 L834 443.2 L833 455.7 L832 463.7 L831 468.9 L830 472.2 L829 472.9 L828 471.4 L827 469.2 L826 466.9 L825 465.2 L824 464.6 L823 464.6 L822 464.8 L821 465.5 L820 467.5 L819 471.4 L818 478.2 L817 487.7 L816 496.5 L815 501.6 L814 504.1 L813 505.5 L812 506.1 L811 505.9 L810 505.6 L809 506.2 L808 508.7 L807 513.2 L806 517.4 L805 520 L804 521.3 L803 521.5 L802 519.9 L801 517.4 L800 514.6 L799 511.8 L798 509.1 L797 506.8 L796 504.7 L795 502.8 L794 501.3 L793 501.2 L792 502.7 L791 505.2 L790 507.6 L789 508.5 L788 506.8 L787 503.6 L786 501.5 L785 502 L784 504.7 L783 507.5 L782 508.3 L781 507 L780 504.8 L779 502.8 L778 501.5 L777 500.7 L776 499.9 L775 499.4 L774 500.2 L773 503.3 L772 508.1 L771 512.6 L770 515.5 L769 516.7 L768 517.2 L767 517.8 L766 519.3 L765 522.1 L764 525.5 L763 529.1 L762 532.4 L761 534.8 L760 535.5 L759 534.8 L758 533.8 L757 532.6 L756 531.6 L755 531 L754 531.8 L753 534.2 L752 537.5 L751 540.9 L750 544.3 L749 547.4 L748 549.7 L747 551.3 L746 552.4 L745 553.5 L744 554.5 L743 555.5 L742 556.6 L741 557.5 L740 558.1 L739 557.7 L738 556.5 L737 554.8 L736 553.1 L735 551.4 L734 549.6 L733 547.9 L732 546.3 L731 544.7 L730 543 L729 541.4 L728 539.8 L727 538.2 L726 536.5 L725 534.9 L724 533.3 L723 531.7 L722 530.1 L721 528.7 L720 528.2 L719 529.2 L718 531.2 L717 533.4 L716 535.6 L715 537.8 L714 540 L713 542 L712 543.4 L711 543.7 L710 543.3 L709 542.7 L708 541.9 L707 540.7 L706 538.6 L705 536 L704 533.4 L703 530.7 L702 528 L701 525.3 L700 522.6 L699 519.9 L698 517.2 L697 514.4 L696 511.5 L695 508.5 L694 505.5 L693 502.5 L692 499.5 L691 496.6 L690 494.1 L689 493.1 L688 494.1 L687 496.1 L686 498.3 L685 500.5 L684 502.6 L683 503.7 L682 503.1 L681 501.1 L680 498.6 L679 496.2 L678 495 L677 496 L676 498.6 L675 501.7 L674 504.9 L673 508.1 L672 511.3 L671 514.6 L670 518 L669 521.8 L668 525.8 L667 529.9 L666 534.1 L665 538.2 L664 542.4 L663 546.6 L662 550.7 L661 554.9 L660 558.9 L659 562.3 L658 564 L657 564.1 L656 563.3 L655 562.4 L654 561.9 L653 562.2 L652 563.4 L651 565 L650 566.6 L649 567.8 L648 568.4 L647 568.3 L646 568 L645 567.7 L644 567.4 L643 567 L642 566.7 L641 566.4 L640 566.1 L639 565.8 L638 565.6 L637 565.5 L636 565.4 L635 565.3 L634 565.2 L633 565.1 L632 565 L631 565 L630 565.2 L629 565.8 L628 566.7 L627 567.6 L626 568.4 L625 569 L624 569.2 L623 569.2 L622 569.2 L621 569.1 L620 568.6 L619 567.1 L618 564.6 L617 561.8 L616 559 L615 557.3 L614 557.1 L613 557.9 L612 558.8 L611 559.5 L610 559.6 L609 559.2 L608 558.7 L607 558 L606 557.4 L605 556.7 L604 555.7 L603 553.9 L602 551 L601 547.6 L600 544.1 L599 540.8 L598 537.7 L597 534.8 L596 532.1 L595 529.7 L594 528.4 L593 528.6 L592 529.6 L591 530.7 L590 531.7 L589 532.4 L588 532.5 L587 532.2 L586 531.7 L585 530.7 L584 529 L583 526.8 L582 524.6 L581 522.3 L580 520 L579 517.7 L578 515.5 L577 513.4 L576 511.7 L575 510.4 L574 509.3 L573 508.2 L572 507.3 L571 506.5 L570 505.8 L569 505.2 L568 504.5 L567 503.9 L566 503.3 L565 502.7 L564 502.4 L563 502.2 L562 502.2 L561 502.2 L560 502.2 L559 502.2 L558 502.3 L557 502.9 L556 504.5 L555 507 L554 510.8 L553 515.7 L552 520.9 L551 526.3 L550 531.6 L549 536.9 L548 542.2 L547 546.9 L546 550.3 L545 552 L544 552.8 L543 553.2 L542 552.7 L541 551.4 L540 549.8 L539 548 L538 546.2 L537 544.5 L536 542.7 L535 540.9 L534 539.2 L533 537.6 L532 536.3 L531 535.5 L530 534.9 L529 534.4 L528 533.9 L527 533.4 L526 532.9 L525 532.4 L524 531.9 L523 531.5 L522 531.3 L521 531.4 L520 531.7 L519 532.2 L518 532.6 L517 533.1 L516 533.5 L515 533.9 L514 534.4 L513 534.8 L512 535.2 L511 535.6 L510 535.8 L509 535.7 L508 535.5 L507 535.3 L506 535.1 L505 535.1 L504 535.7 L503 537.5 L502 540.1 L501 542.9 L500 545.8 L499 548.6 L498 551.4 L497 553.8 L496 554.9 L495 554.4 L494 552.9 L493 551.2 L492 549.6 L491 547.9 L490 546.3 L489 544.8 L488 543.7 L487 543 L486 542.5 L485 542.1 L484 541.9 L483 542.6 L482 544.1 L481 545.9 L480 547.6 L479 548.9 L478 549.8 L477 550.6 L476 551.8 L475 553.7 L474 556.3 L473 559.1 L472 561.9 L471 564.8 L470 567.6 L469 570.3 L468 572.5 L467 573.8 L466 574.6 L465 575.3 L464 575.9 L463 576.6 L462 577.3 L461 577.9 L460 578.4 L459 578.7 L458 579 L457 579.1 L456 579 L455 578.4 L454 577.3 L453 576.2 L452 575 L451 573.8 L450 572.6 L449 571.4 L448 570.3 L447 569.5 L446 569.2 L445 569.2 L444 569.2 L443 569.3 L442 569.4 L441 569.4 L440 569.5 L439 569.6 L438 569.7 L437 569.7 L436 569.8 L435 569.9 L434 570 L433 570.1 L432 570.2 L431 570.3 L430 570.4 L429 570.5 L428 570.6 L427 570.8 L426 571.3 L425 572.3 L424 573.7 L423 575.2 L422 576.6 L421 578.1 L420 579.5 L419 580.5 L418 580.8 L417 580.5 L416 580.2 L415 579.8 L414 579.4 L413 579 L412 578.6 L411 578.2 L410 577.8 L409 577.4 L408 577.1 L407 576.7 L406 576.3 L405 576 L404 575.7 L403 576.1 L402 577.3 L401 579.1 L400 580.8 L399 581.8 L398 582.2 L397 582.3 L396 582.4 L395 582.5 L394 582.5 L393 582.6 L392 582.6 L391 582.7 L390 582.7 L389 582.8 L388 582.9 L387 582.9 L386 583.2 L385 583.7 L384 584.5 L383 585.5 L382 586.5 L381 587.4 L380 588.4 L379 589.3 L378 589.9 L377 590.2 L376 590.3 L375 590.5 L374 590.6 L373 590.8 L372 591 L371 591.3 L370 591.7 L369 592.2 L368 592.7 L367 593.2 L366 593.7 L365 594.2 L364 594.7 L363 595.2 L362 595.7 L361 596.2 L360 596.7 L359 597.1 L358 597.5 L357 597.7 L356 597.5 L355 597.1 L354 596.8 L353 596.4 L352 596 L351 595.7 L350 595.5 L349 595.5 L348 595.6 L347 595.7 L346 595.7 L345 595.8 L344 595.9 L343 596 L342 596 L341 596 L340 595.7 L339 594.8 L338 593.5 L337 592.1 L336 590.6 L335 589.1 L334 587.7 L333 586.9 L332 587 L331 587.8 L330 589 L329 590.2 L328 591.4 L327 592.6 L326 593.8 L325 594.8 L324 595 L323 593.8 L322 591.9 L321 590 L320 588.7 L319 588 L318 587.7 L317 587.5 L316 587.2 L315 587 L314 586.8 L313 586.5 L312 586.3 L311 586 L310 585.8 L309 585.5 L308 585.2 L307 584.8 L306 584.4 L305 584 L304 583.7 L303 583.3 L302 582.9 L301 582.5 L300 582.1 L299 581.7 L298 581.3 L297 580.9 L296 580.6 L295 580.4 L294 580.2 L293 580 L292 579.8 L291 579.5 L290 579.4 L289 579.4 L288 579.8 L287 580.6 L286 581.6 L285 582.7 L284 583.8 L283 584.9 L282 586 L281 587.1 L280 587.9 L279 588.2 L278 588 L277 587.5 L276 587 L275 586.5 L274 586.1 L273 586 L272 586.3 L271 587 L270 587.8 L269 588.5 L268 589.3 L267 590.4 L266 592.2 L265 594.6 L264 597.2 L263 599.8 L262 602.1 L261 604.1 L260 605.3 L259 605.6 L258 605.5 L257 602.6 L256 602.2 L255 601.9 L254 601.6 L253 601.4 L252 601.2 L251 600.9 L250 600.6 L249 600.1 L248 599.3 L247 598.2 L246 597 L245 595.9 L244 594.9 L243 594.3 L242 594 L241 593.8 L240 593.6 L239 593.3 L238 592.9 L237 592.3 L236 591.6 L235 590.8 L234 590.1 L233 589.4 L232 588.8 L231 588.7 L230 589.1 L229 589.8 L228 590.6 L227 591.3 L226 592 L225 592.7 L224 593.4 L223 594 L222 594.5 L221 595 L220 595.5 L219 596.3 L218 597.4 L217 598.7 L216 600.1 L215 601.5 L214 602.8 L213 604.1 L212 604.7 L211 604.5 L210 603.6 L209 602.6 L208 601.7 L207 600.7 L206 600.1 L205 599.8 L204 599.9 L203 600 L202 600.1 L201 599.9 L200 599.4 L199 598.8 L198 598.1 L197 597.6 L196 597.8 L195 598.8 L194 600.4 L193 602 L192 603.6 L191 604.8 L190 605.2 L189 605.1 L188 604.9 L187 604.9 L186 605.1 L185 605.5 L184 605.8 L183 606.3 L182 606.8 L181 607.6 L180 608.6 L179 609.6 L178 610.6 L177 611.6 L176 612.5 L175 613 L174 612.7 L173 612 L172 611.3 L171 610.5 L170 609.7 L169 608.9 L168 608.2 L167 607.3 L166 606.3 L165 605.3 L164 604.3 L163 603.4 L162 602.8 L161 603 L160 603.7 L159 604.6 L158 605.4 L157 606.1 L156 606.4 L155 606.6 L154 606.7 L153 606.9 L152 607.5 L151 608.3 L150 609.2 L149 610 L148 610.9 L147 611.7 L146 612.4 L145 612.8 L144 613 L143 613.2 L142 613.3 L141 613.4 L140 613.2 L139 612.9 L138 612.5 L137 612.3 L136 612.5 L135 613.2 L134 614.2 L133 615.2 L132 616.1 L131 617.1 L130 618.1 L129 619.1 L128 620.1 L127 621.1 L126 622.1 L125 622.7 L124 622.7 L123 622.4 L122 622.1 L121 621.8 L120 621.6 L119 621.6 L118 621.7 L117 621.8Z" fill="#7cbfc4"/>
<path d="M117 621.8 L118 621.7 L119 621.6 L120 621.6 L121 621.8 L122 622.1 L123 622.4 L124 622.7 L125 622.7 L126 622.1 L127 621.1 L128 620.1 L129 619.1 L130 618.1 L131 617.1 L132 616.1 L133 615.2 L134 614.2 L135 613.2 L136 612.5 L137 612.3 L138 612.5 L139 612.9 L140 613.2 L141 613.4 L142 613.3 L143 613.2 L144 613 L145 612.8 L146 612.4 L147 611.7 L148 610.9 L149 610 L150 609.2 L151 608.3 L152 607.5 L153 606.9 L154 606.7 L155 606.6 L156 606.4 L157 606.1 L158 605.4 L159 604.6 L160 603.7 L161 603 L162 602.8 L163 603.4 L164 604.3 L165 605.3 L166 606.3 L167 607.3 L168 608.2 L169 608.9 L170 609.7 L171 610.5 L172 611.3 L173 612 L174 612.7 L175 613 L176 612.5 L177 611.6 L178 610.6 L179 609.6 L180 608.6 L181 607.6 L182 606.8 L183 606.3 L184 605.8 L185 605.5 L186 605.1 L187 604.9 L188 604.9 L189 605.1 L190 605.2 L191 604.8 L192 603.6 L193 602 L194 600.4 L195 598.8 L196 597.8 L197 597.6 L198 598.1 L199 598.8 L200 599.4 L201 599.9 L202 600.1 L203 600 L204 599.9 L205 599.8 L206 600.1 L207 600.7 L208 601.7 L209 602.6 L210 603.6 L211 604.5 L212 604.7 L213 604.1 L214 602.8 L215 601.5 L216 600.1 L217 598.7 L218 597.4 L219 596.3 L220 595.5 L221 595 L222 594.5 L223 594 L224 593.4 L225 592.7 L226 592 L227 591.3 L228 590.6 L229 589.8 L230 589.1 L231 588.7 L232 588.8 L233 589.4 L234 590.1 L235 590.8 L236 591.6 L237 592.3 L238 592.9 L239 593.3 L240 593.6 L241 593.8 L242 594 L243 594.3 L244 594.9 L245 595.9 L246 597 L247 598.2 L248 599.3 L249 600.1 L250 600.6 L251 600.9 L252 601.2 L253 601.4 L254 601.6 L255 601.9 L256 602.2 L257 602.5 L258 605.4 L259 605.5 L260 605.1 L261 603.8 L262 601.6 L263 598.8 L264 595.9 L265 593.1 L266 590.7 L267 588.8 L268 587.6 L269 586.5 L270 585.3 L271 584.1 L272 583 L273 582.4 L274 582.5 L275 583.2 L276 584 L277 584.8 L278 585.5 L279 585.8 L280 585.4 L281 584.4 L282 583.1 L283 581.8 L284 580.6 L285 579.5 L286 578.6 L287 577.6 L288 576.9 L289 576.5 L290 576.4 L291 576.5 L292 576.7 L293 576.8 L294 576.9 L295 577.1 L296 577.3 L297 577.7 L298 578.2 L299 578.7 L300 579.3 L301 579.7 L302 580.2 L303 580.6 L304 581 L305 581.5 L306 581.9 L307 582.3 L308 582.7 L309 583.1 L310 583.4 L311 583.7 L312 583.9 L313 584.2 L314 584.5 L315 584.7 L316 585 L317 585.3 L318 585.6 L319 585.9 L320 586.6 L321 587.9 L322 589.8 L323 591.8 L324 592.9 L325 592.7 L326 591.6 L327 590.4 L328 589.1 L329 587.8 L330 586.6 L331 585.4 L332 584.5 L333 584.3 L334 585.2 L335 586.6 L336 588.1 L337 589.6 L338 591.1 L339 592.4 L340 593.4 L341 593.9 L342 594.1 L343 594.2 L344 594.3 L345 594.3 L346 594.3 L347 594.1 L348 593.9 L349 593.8 L350 593.8 L351 594 L352 594.4 L353 594.8 L354 595.3 L355 595.7 L356 596 L357 596.1 L358 596 L359 595.6 L360 595.1 L361 594.6 L362 594.1 L363 593.6 L364 593 L365 592.5 L366 591.9 L367 591.4 L368 590.9 L369 590.4 L370 590 L371 589.7 L372 589.5 L373 589.3 L374 589.2 L375 589.1 L376 588.9 L377 588.6 L378 588.3 L379 587.7 L380 586.9 L381 586 L382 585 L383 584.1 L384 583.2 L385 582.4 L386 581.9 L387 581.6 L388 581.5 L389 581.5 L390 581.4 L391 581.4 L392 581.4 L393 581.4 L394 581.4 L395 581.3 L396 581.2 L397 580.8 L398 580.3 L399 579.5 L400 578.3 L401 576.6 L402 574.9 L403 573.8 L404 573.5 L405 573.7 L406 574.1 L407 574.5 L408 575 L409 575.5 L410 576 L411 576.5 L412 577 L413 577.4 L414 577.9 L415 578.3 L416 578.7 L417 579 L418 579.2 L419 578.9 L420 578 L421 576.5 L422 574.8 L423 573 L424 571.2 L425 569.7 L426 568.7 L427 568.5 L428 568.5 L429 568.5 L430 568.4 L431 568.3 L432 568.2 L433 568.1 L434 567.9 L435 567.8 L436 567.8 L437 567.7 L438 567.6 L439 567.6 L440 567.5 L441 567.4 L442 567.4 L443 567.3 L444 567.3 L445 567.2 L446 567.3 L447 567.6 L448 568.4 L449 569.4 L450 570.6 L451 571.8 L452 573.2 L453 574.5 L454 575.8 L455 577 L456 577.8 L457 578.1 L458 578.1 L459 578 L460 577.8 L461 577.4 L462 576.7 L463 575.9 L464 575 L465 574.2 L466 573.3 L467 572.3 L468 570.9 L469 568.8 L470 566.3 L471 563.3 L472 559.3 L473 554.4 L474 549.9 L475 546.8 L476 545.2 L477 544.4 L478 543.8 L479 542.9 L480 541.6 L481 539.8 L482 538 L483 536.5 L484 535.9 L485 536 L486 536.6 L487 537.3 L488 538.2 L489 539.5 L490 541.1 L491 542.9 L492 544.8 L493 546.6 L494 548.5 L495 550.2 L496 551 L497 550.1 L498 547.7 L499 544.5 L500 541.3 L501 538.1 L502 535 L503 532.3 L504 530.3 L505 529.6 L506 529.8 L507 530.3 L508 531 L509 531.5 L510 531.8 L511 531.6 L512 531.2 L513 530.6 L514 530.1 L515 529.6 L516 529 L517 528.5 L518 527.9 L519 527.4 L520 526.8 L521 526.3 L522 526 L523 526.1 L524 526.4 L525 526.9 L526 527.4 L527 527.9 L528 528.4 L529 528.9 L530 529.4 L531 530.2 L532 531.3 L533 532.9 L534 534.8 L535 536.8 L536 538.7 L537 540.6 L538 542.2 L539 543.8 L540 545.2 L541 546.6 L542 547.6 L543 547.9 L544 547.3 L545 545.8 L546 543.4 L547 539.7 L548 534.9 L549 529.3 L550 523 L551 516.5 L552 510.2 L553 504.5 L554 499.3 L555 494.8 L556 491.1 L557 488.5 L558 487.3 L559 486.9 L560 475.4 L561 476.1 L562 477.1 L563 478.1 L564 479.1 L565 480.2 L566 481.2 L567 482.2 L568 483.3 L569 484.3 L570 485.3 L571 486.4 L572 487.4 L573 488.4 L574 489.5 L575 490.5 L576 491.6 L577 492.8 L578 494.4 L579 496.7 L580 499.2 L581 501.9 L582 504.5 L583 507.2 L584 509.8 L585 512.4 L586 514.8 L587 516.5 L588 517.4 L589 517.8 L590 518 L591 518.3 L592 518.7 L593 519.6 L594 520.9 L595 522.5 L596 524.2 L597 525.9 L598 527.5 L599 529.2 L600 530.8 L601 532.4 L602 533.8 L603 535.1 L604 536.4 L605 537.4 L606 538.6 L607 539.7 L608 540.9 L609 542 L610 543.1 L611 544.2 L612 545.1 L613 545.9 L614 546.8 L615 547.6 L616 548.5 L617 549.3 L618 550.1 L619 550.7 L620 551 L621 550.8 L622 550.5 L623 550.1 L624 549.8 L625 549.4 L626 549 L627 548.7 L628 548.3 L629 547.9 L630 547.6 L631 547.2 L632 546.8 L633 546.5 L634 546.1 L635 545.7 L636 545.4 L637 545 L638 544.6 L639 544.2 L640 544.7 L641 545.2 L642 545.6 L643 546.1 L644 546.5 L645 546.6 L646 546.1 L647 545 L648 543.7 L649 542.3 L650 541 L651 539.6 L652 538.2 L653 536.8 L654 535.1 L655 533.2 L656 531.3 L657 530.4 L658 529.4 L659 525.6 L660 519.4 L661 513 L662 507.8 L663 502.6 L664 497.4 L665 492.4 L666 487.5 L667 482.6 L668 477.8 L669 473 L670 468.2 L671 463.3 L672 458.3 L673 453.2 L674 448.1 L675 442.9 L676 437.9 L677 433.5 L678 431.1 L679 431.3 L680 432.9 L681 434.7 L682 436 L683 435.7 L684 433.5 L685 430.2 L686 426.7 L687 423.3 L688 420 L689 417.7 L690 417.5 L691 419.9 L692 423.7 L693 427.9 L694 432.2 L695 436.5 L696 441.1 L697 446 L698 451.2 L699 456.6 L700 461.8 L701 466.2 L702 469.7 L703 472.8 L704 475.8 L705 478.8 L706 481.8 L707 484.9 L708 488.2 L709 491.3 L710 493.7 L711 494.4 L712 493.3 L713 490.5 L714 487.1 L715 483.5 L716 479.9 L717 476.3 L718 472.7 L719 469.5 L720 467.8 L721 468.6 L722 471 L723 473.8 L724 476.6 L725 479.4 L726 482.4 L727 485.4 L728 488.5 L729 491.5 L730 494.5 L731 497.6 L732 500.6 L733 503.3 L734 505.6 L735 507.6 L736 509.3 L737 510.6 L738 511.5 L739 511.8 L740 511.3 L741 510.4 L742 509.2 L743 507.4 L744 505 L745 502.7 L746 500.5 L747 498.2 L748 495.7 L749 492.5 L750 488.8 L751 484.9 L752 481.1 L753 477.6 L754 474.5 L755 471.8 L756 469.8 L757 468.7 L758 468 L759 467.4 L760 466.7 L761 465.7 L762 462.9 L763 457.1 L764 449.7 L765 443.2 L766 438.4 L767 434.4 L768 430.2 L769 424.8 L770 428.9 L771 425.1 L772 420.6 L773 415.9 L774 411.3 L775 406.6 L776 402.3 L777 399.5 L778 399 L779 400 L780 401.3 L781 402.6 L782 403.9 L783 405.1 L784 405.6 L785 404.9 L786 403.1 L787 400.9 L788 398.6 L789 396.4 L790 394.1 L791 391.9 L792 389.6 L793 387.8 L794 387.6 L795 390.3 L796 394.6 L797 399.2 L798 404 L799 408.7 L800 413.4 L801 418.1 L802 422.7 L803 426.5 L804 428 L805 426.5 L806 423.2 L807 419.6 L808 415.9 L809 412.3 L810 408.6 L811 404.9 L812 401.2 L813 397.5 L814 393.8 L815 390.1 L816 386.4 L817 382.6 L818 378.6 L819 372.9 L820 363.5 L821 349.9 L822 334.9 L823 323.1 L824 317.6 L825 316.9 L826 317.7 L827 318.6 L828 317.8 L829 312.2 L830 300 L831 284.2 L832 267.6 L833 251 L834 234.4 L835 218.5 L836 206.1 L837 200.4 L838 200.1 L839 201.9 L840 204 L841 205.9 L842 206.8 L843 205.9 L844 204 L845 201.9 L846 200.1 L847 200.3 L848 205.7 L849 217.1 L850 230.1 L851 240 L852 246.1 L853 250.5 L854 254.6 L855 258.7 L856 263.1 L857 267.5 L858 272 L859 276.5 L860 280.9 L861 284.6 L862 285.5 L863 282.4 L864 276.9 L865 270.9 L866 264.8 L867 258.6 L868 252.3 L869 246.3 L870 242.5 L871 243.1 L872 247.7 L873 253.5 L874 257.5 L875 256.6 L876 251 L877 243.1 L878 234.9 L879 227.5 L880 222.6 L881 221 L882 221.2 L883 221.8 L884 222.5 L885 223.2 L886 223.9 L887 224.7 L888 225.5 L889 226.5 L890 227.9 L891 230.4 L892 233.6 L893 237.1 L894 241 L895 245.4 L896 250 L897 254.2 L898 255.5 L899 250.6 L900 239.5 L901 225.5 L902 211 L903 196.5 L904 182.7 L905 172.9 L906 171.3 L907 177.8 L908 186.1 L909 191.7 L910 194.8 L911 196.9 L912 198.5 L913 198.7 L914 197 L915 194 L916 190.9 L917 187.8 L918 185 L919 182.6 L920 180.9 L920 244.2 L919 247 L918 251.6 L917 257 L916 262.6 L915 267.7 L914 270.4 L913 269 L912 264.5 L911 259 L910 253.5 L909 249.2 L908 248.3 L907 252.2 L906 258.7 L905 265.8 L904 273.1 L903 281 L902 289.9 L901 299.5 L900 308.8 L899 316 L898 318.6 L897 316.6 L896 312.4 L895 307.8 L894 303.5 L893 299.9 L892 297.4 L891 295.7 L890 294.1 L889 292.5 L888 291 L887 289.6 L886 288.3 L885 287.1 L884 285.8 L883 284.9 L882 284.9 L881 287 L880 290.7 L879 295 L878 299.4 L877 303.9 L876 308.3 L875 312.4 L874 314.8 L873 313.7 L872 309.6 L871 304.2 L870 299 L869 295.7 L868 296.7 L867 302 L866 309.2 L865 316.8 L864 324.1 L863 329.7 L862 331.6 L861 329.9 L860 326.4 L859 322.7 L858 318.9 L857 315.2 L856 311.9 L855 309 L854 306.4 L853 303.4 L852 298.8 L851 290.4 L850 278.4 L849 265.3 L848 255 L847 250.6 L846 251.1 L845 253.4 L844 256 L843 258.4 L842 259.7 L841 259.4 L840 257.9 L839 256.3 L838 255.1 L837 256 L836 262.8 L835 276.6 L834 294.1 L833 312.4 L832 330.3 L831 346.1 L830 357.3 L829 363.9 L828 368.4 L827 372.4 L826 376.4 L825 380.5 L824 384.5 L823 388.5 L822 392.4 L821 396.3 L820 399.8 L819 403.2 L818 406.4 L817 409.7 L816 412.9 L815 416.2 L814 419.5 L813 422.7 L812 426 L811 429.2 L810 432.3 L809 435.5 L808 438.6 L807 441.8 L806 444.9 L805 448 L804 450.9 L803 452.7 L802 452.3 L801 449.8 L800 446.4 L799 442.9 L798 439.3 L797 435.8 L796 432.3 L795 428.7 L794 425.2 L793 421.9 L792 419.5 L791 419.1 L790 420.5 L789 422.7 L788 425 L787 427.3 L786 429.5 L785 431.8 L784 433.5 L783 433.7 L782 431.5 L781 427.8 L780 423.9 L779 419.9 L778 416.4 L777 414.8 L776 416.4 L775 420 L774 423.9 L773 427.9 L772 432 L771 436 L770 440 L769 444 L768 448.2 L767 453 L766 458.2 L765 463.8 L764 469.4 L763 474.6 L762 478.6 L761 481.1 L760 482.6 L759 483.9 L758 485.3 L757 486.6 L756 487.9 L755 489.3 L754 490.6 L753 492.2 L752 494.3 L751 497 L750 499.9 L749 502.9 L748 505.9 L747 509 L746 512 L745 515 L744 517.8 L743 520 L742 521 L741 521 L740 520.6 L739 520.1 L738 519.6 L737 518.9 L736 517.6 L735 515.7 L734 513.4 L733 511 L732 508.6 L731 506.2 L730 503.8 L729 501.4 L728 499 L727 496.6 L726 494.1 L725 491.7 L724 489.3 L723 486.9 L722 484.5 L721 482.4 L720 481.6 L719 482.7 L718 485.1 L717 487.7 L716 490.4 L715 493.1 L714 495.8 L713 498.5 L712 501 L711 502.8 L710 502.7 L709 500.2 L708 496.5 L707 492.5 L706 488.5 L705 484.5 L704 480.5 L703 476.6 L702 472.6 L701 468.6 L700 464.6 L699 460.6 L698 456.8 L697 453.3 L696 450.2 L695 447.4 L694 444.6 L693 441.7 L692 439 L691 436.2 L690 434.1 L689 433.7 L688 435.6 L687 438.8 L686 442.3 L685 445.8 L684 449 L683 451.4 L682 452.1 L681 451.4 L680 450.2 L679 449.2 L678 449.2 L677 451.2 L676 454.6 L675 458.6 L674 462.6 L673 466.6 L672 470.6 L671 474.7 L670 478.7 L669 482.7 L668 486.7 L667 490.7 L666 494.8 L665 498.7 L664 502.5 L663 506.2 L662 509.9 L661 513.6 L660 519.4 L659 525.6 L658 529.4 L657 530.4 L656 532.1 L655 535.8 L654 539 L653 541.5 L652 543.1 L651 544.4 L650 545.6 L649 546.8 L648 548 L647 549.1 L646 550.1 L645 550.6 L644 550.7 L643 550.5 L642 550.3 L641 550 L640 549.8 L639 549.5 L638 549.3 L637 549 L636 548.8 L635 548.5 L634 548.3 L633 548.3 L632 548.6 L631 549.3 L630 550.2 L629 551.1 L628 552.1 L627 553 L626 554 L625 554.9 L624 555.8 L623 556.3 L622 556 L621 555 L620 553.6 L619 552.1 L618 550.7 L617 549.5 L616 548.9 L615 548.8 L614 548.9 L613 549.1 L612 549.3 L611 549.5 L610 549.6 L609 549.1 L608 548.1 L607 546.6 L606 545 L605 543.4 L604 541.8 L603 540.2 L602 538.5 L601 536.7 L600 534.8 L599 532.8 L598 530.8 L597 528.7 L596 526.8 L595 524.9 L594 523.6 L593 523 L592 522.7 L591 522.5 L590 522.2 L589 521.5 L588 520 L587 517.8 L586 515.5 L585 513.1 L584 510.6 L583 508.2 L582 505.8 L581 503.4 L580 501 L579 498.5 L578 496.2 L577 494.1 L576 492.4 L575 491.3 L574 490.5 L573 489.7 L572 488.9 L571 488.1 L570 487.3 L569 486.5 L568 485.7 L567 484.9 L566 484.1 L565 483.3 L564 482.7 L563 482.3 L562 481.9 L561 481.6 L560 481.3 L559 490 L558 490.3 L557 491.3 L556 493.7 L555 497.1 L554 501.5 L553 506.6 L552 512.2 L551 518.3 L550 524.6 L549 530.7 L548 536.3 L547 541.1 L546 544.6 L545 546.9 L544 548.3 L543 548.8 L542 548.5 L541 547.4 L540 546 L539 544.5 L538 542.9 L537 541.2 L536 539.4 L535 537.5 L534 535.6 L533 533.7 L532 532.2 L531 531.1 L530 530.4 L529 529.9 L528 529.4 L527 528.9 L526 528.4 L525 527.9 L524 527.4 L523 527 L522 526.9 L521 527.2 L520 527.7 L519 528.2 L518 528.8 L517 529.3 L516 529.8 L515 530.4 L514 530.9 L513 531.4 L512 531.9 L511 532.3 L510 532.5 L509 532.3 L508 531.8 L507 531.2 L506 530.7 L505 530.6 L504 531.3 L503 533.3 L502 536 L501 539 L500 542.1 L499 545.3 L498 548.3 L497 550.8 L496 551.7 L495 550.9 L494 549.3 L493 547.5 L492 545.6 L491 543.8 L490 542 L489 540.4 L488 539.2 L487 538.4 L486 537.7 L485 537.2 L484 537 L483 537.6 L482 539.1 L481 541 L480 542.7 L479 544 L478 544.9 L477 545.5 L476 546.4 L475 548 L474 551 L473 555.2 L472 559.7 L471 563.5 L470 566.5 L469 569.1 L468 571.2 L467 572.5 L466 573.5 L465 574.3 L464 575.2 L463 576 L462 576.8 L461 577.5 L460 577.9 L459 578.1 L458 578.2 L457 578.2 L456 577.9 L455 577.2 L454 576 L453 574.7 L452 573.4 L451 572.1 L450 570.8 L449 569.6 L448 568.6 L447 567.8 L446 567.5 L445 567.5 L444 567.5 L443 567.6 L442 567.6 L441 567.7 L440 567.7 L439 567.8 L438 567.9 L437 567.9 L436 568 L435 568.1 L434 568.2 L433 568.3 L432 568.4 L431 568.6 L430 568.7 L429 568.7 L428 568.7 L427 568.7 L426 569 L425 570 L424 571.5 L423 573.2 L422 575 L421 576.7 L420 578.2 L419 579.1 L418 579.4 L417 579.2 L416 578.9 L415 578.5 L414 578.1 L413 577.6 L412 577.2 L411 576.7 L410 576.2 L409 575.7 L408 575.2 L407 574.8 L406 574.4 L405 574 L404 573.8 L403 574.1 L402 575.2 L401 576.9 L400 578.6 L399 579.8 L398 580.5 L397 581 L396 581.3 L395 581.5 L394 581.5 L393 581.5 L392 581.5 L391 581.6 L390 581.6 L389 581.6 L388 581.7 L387 581.8 L386 582 L385 582.6 L384 583.4 L383 584.3 L382 585.2 L381 586.1 L380 587.1 L379 587.9 L378 588.5 L377 588.8 L376 589.1 L375 589.2 L374 589.4 L373 589.5 L372 589.7 L371 589.9 L370 590.3 L369 590.7 L368 591.1 L367 591.6 L366 592.1 L365 592.7 L364 593.2 L363 593.8 L362 594.3 L361 594.8 L360 595.3 L359 595.8 L358 596.2 L357 596.3 L356 596.2 L355 595.9 L354 595.5 L353 595 L352 594.6 L351 594.2 L350 594 L349 594 L348 594.1 L347 594.3 L346 594.4 L345 594.5 L344 594.5 L343 594.4 L342 594.3 L341 594.1 L340 593.7 L339 592.7 L338 591.4 L337 589.9 L336 588.4 L335 586.9 L334 585.5 L333 584.7 L332 584.8 L331 585.7 L330 586.9 L329 588.1 L328 589.4 L327 590.7 L326 591.9 L325 593 L324 593.2 L323 592 L322 590.1 L321 588.2 L320 586.8 L319 586.2 L318 585.8 L317 585.6 L316 585.3 L315 585 L314 584.8 L313 584.5 L312 584.2 L311 584 L310 583.7 L309 583.4 L308 583 L307 582.6 L306 582.2 L305 581.8 L304 581.4 L303 580.9 L302 580.5 L301 580.1 L300 579.6 L299 579.1 L298 578.6 L297 578.1 L296 577.8 L295 577.5 L294 577.3 L293 577.2 L292 577.1 L291 576.9 L290 576.8 L289 576.9 L288 577.2 L287 578 L286 579 L285 580 L284 581.1 L283 582.3 L282 583.5 L281 584.7 L280 585.7 L279 586.1 L278 585.9 L277 585.2 L276 584.4 L275 583.7 L274 583 L273 582.9 L272 583.5 L271 584.5 L270 585.6 L269 586.8 L268 587.8 L267 589.1 L266 590.9 L265 593.3 L264 596.1 L263 599 L262 601.7 L261 603.8 L260 605.1 L259 605.5 L258 605.4 L257 602.5 L256 602.2 L255 601.9 L254 601.6 L253 601.4 L252 601.2 L251 600.9 L250 600.6 L249 600.1 L248 599.3 L247 598.2 L246 597 L245 595.9 L244 594.9 L243 594.3 L242 594 L241 593.8 L240 593.6 L239 593.3 L238 592.9 L237 592.3 L236 591.6 L235 590.8 L234 590.1 L233 589.4 L232 588.8 L231 588.7 L230 589.1 L229 589.8 L228 590.6 L227 591.3 L226 592 L225 592.7 L224 593.4 L223 594 L222 594.5 L221 595 L220 595.5 L219 596.3 L218 597.4 L217 598.7 L216 600.1 L215 601.5 L214 602.8 L213 604.1 L212 604.7 L211 604.5 L210 603.6 L209 602.6 L208 601.7 L207 600.7 L206 600.1 L205 599.8 L204 599.9 L203 600 L202 600.1 L201 599.9 L200 599.4 L199 598.8 L198 598.1 L197 597.6 L196 597.8 L195 598.8 L194 600.4 L193 602 L192 603.6 L191 604.8 L190 605.2 L189 605.1 L188 604.9 L187 604.9 L186 605.1 L185 605.5 L184 605.8 L183 606.3 L182 606.8 L181 607.6 L180 608.6 L179 609.6 L178 610.6 L177 611.6 L176 612.5 L175 613 L174 612.7 L173 612 L172 611.3 L171 610.5 L170 609.7 L169 608.9 L168 608.2 L167 607.3 L166 606.3 L165 605.3 L164 604.3 L163 603.4 L162 602.8 L161 603 L160 603.7 L159 604.6 L158 605.4 L157 606.1 L156 606.4 L155 606.6 L154 606.7 L153 606.9 L152 607.5 L151 608.3 L150 609.2 L149 610 L148 610.9 L147 611.7 L146 612.4 L145 612.8 L144 613 L143 613.2 L142 613.3 L141 613.4 L140 613.2 L139 612.9 L138 612.5 L137 612.3 L136 612.5 L135 613.2 L134 614.2 L133 615.2 L132 616.1 L131 617.1 L130 618.1 L129 619.1 L128 620.1 L127 621.1 L126 622.1 L125 622.7 L124 622.7 L123 622.4 L122 622.1 L121 621.8 L120 621.6 L119 621.6 L118 621.7 L117 621.8Z" fill="#68aa90"/>
<path d="M117 621.8 L118 621.7 L119 621.6 L120 621.6 L121 621.8 L122 622.1 L123 622.4 L124 622.7 L125 622.7 L126 622.1 L127 621.1 L128 620.1 L129 619.1 L130 618.1 L131 617.1 L132 616.1 L133 615.2 L134 614.2 L135 613.2 L136 612.5 L137 612.3 L138 612.5 L139 612.9 L140 613.2 L141 613.4 L142 613.3 L143 613.2 L144 613 L145 612.8 L146 612.4 L147 611.7 L148 610.9 L149 610 L150 609.2 L151 608.3 L152 607.5 L153 606.9 L154 606.7 L155 606.6 L156 606.4 L157 606.1 L158 605.4 L159 604.6 L160 603.7 L161 603 L162 602.8 L163 603.4 L164 604.3 L165 605.3 L166 606.3 L167 607.3 L168 608.2 L169 608.9 L170 609.7 L171 610.5 L172 611.3 L173 612 L174 612.7 L175 613 L176 612.5 L177 611.6 L178 610.6 L179 609.6 L180 608.6 L181 607.6 L182 606.8 L183 606.3 L184 605.8 L185 605.5 L186 605.1 L187 604.9 L188 604.9 L189 605.1 L190 605.2 L191 604.8 L192 603.6 L193 602 L194 600.4 L195 598.8 L196 597.8 L197 597.6 L198 598.1 L199 598.8 L200 599.4 L201 599.9 L202 600.1 L203 600 L204 599.9 L205 599.8 L206 600.1 L207 600.7 L208 601.7 L209 602.6 L210 603.6 L211 604.5 L212 604.7 L213 604.1 L214 602.8 L215 601.5 L216 600.1 L217 598.7 L218 597.4 L219 596.3 L220 595.5 L221 595 L222 594.5 L223 594 L224 593.4 L225 592.7 L226 592 L227 591.3 L228 590.6 L229 589.8 L230 589.1 L231 588.7 L232 588.8 L233 589.4 L234 590.1 L235 590.8 L236 591.6 L237 592.3 L238 592.9 L239 593.3 L240 593.6 L241 593.8 L242 594 L243 594.3 L244 594.9 L245 595.9 L246 597 L247 598.2 L248 599.3 L249 600.1 L250 600.6 L251 600.9 L252 601.2 L253 601.4 L254 601.6 L255 601.9 L256 602.2 L257 602.5 L258 605.4 L259 605.5 L260 605.1 L261 603.8 L262 601.5 L263 598.8 L264 595.8 L265 593 L266 590.6 L267 588.7 L268 587.5 L269 586.3 L270 585.1 L271 583.9 L272 582.8 L273 582.1 L274 582.3 L275 583 L276 583.8 L277 584.7 L278 585.4 L279 585.7 L280 585.2 L281 584.2 L282 582.9 L283 581.6 L284 580.4 L285 579.3 L286 578.3 L287 577.4 L288 576.7 L289 576.3 L290 576.3 L291 576.4 L292 576.5 L293 576.6 L294 576.7 L295 576.9 L296 577.1 L297 577.5 L298 578 L299 578.6 L300 579.1 L301 579.6 L302 580 L303 580.4 L304 580.9 L305 581.3 L306 581.7 L307 582.1 L308 582.6 L309 582.9 L310 583.2 L311 583.5 L312 583.8 L313 584.1 L314 584.3 L315 584.6 L316 584.9 L317 585.1 L318 585.4 L319 585.8 L320 586.4 L321 587.8 L322 589.7 L323 591.7 L324 592.8 L325 592.6 L326 591.5 L327 590.3 L328 589 L329 587.7 L330 586.4 L331 585.2 L332 584.3 L333 584.2 L334 585.1 L335 586.4 L336 587.9 L337 589.4 L338 590.9 L339 592.3 L340 593.2 L341 593.7 L342 593.9 L343 594.1 L344 594.2 L345 594.3 L346 594.2 L347 594 L348 593.8 L349 593.7 L350 593.7 L351 593.9 L352 594.3 L353 594.7 L354 595.2 L355 595.6 L356 595.9 L357 596.1 L358 595.9 L359 595.5 L360 595 L361 594.5 L362 594 L363 593.5 L364 592.9 L365 592.4 L366 591.8 L367 591.3 L368 590.8 L369 590.3 L370 589.9 L371 589.6 L372 589.4 L373 589.2 L374 589.1 L375 589 L376 588.8 L377 588.6 L378 588.2 L379 587.6 L380 586.8 L381 585.9 L382 585 L383 584 L384 583.1 L385 582.3 L386 581.8 L387 581.5 L388 581.4 L389 581.4 L390 581.4 L391 581.3 L392 581.3 L393 581.3 L394 581.3 L395 581.3 L396 581.1 L397 580.7 L398 580.2 L399 579.4 L400 578.1 L401 576.4 L402 574.7 L403 573.6 L404 573.4 L405 573.6 L406 574 L407 574.4 L408 574.9 L409 575.4 L410 575.9 L411 576.4 L412 576.9 L413 577.3 L414 577.8 L415 578.2 L416 578.6 L417 578.9 L418 579.1 L419 578.8 L420 577.9 L421 576.4 L422 574.7 L423 572.8 L424 571 L425 569.5 L426 568.6 L427 568.3 L428 568.3 L429 568.4 L430 568.3 L431 568.2 L432 568.1 L433 567.9 L434 567.8 L435 567.7 L436 567.6 L437 567.6 L438 567.5 L439 567.4 L440 567.4 L441 567.3 L442 567.3 L443 567.2 L444 567.1 L445 567.1 L446 567.2 L447 567.5 L448 568.2 L449 569.3 L450 570.5 L451 571.7 L452 573.1 L453 574.4 L454 575.7 L455 576.9 L456 577.7 L457 578 L458 578 L459 578 L460 577.8 L461 577.4 L462 576.7 L463 575.9 L464 575 L465 574.1 L466 573.2 L467 572.2 L468 570.8 L469 568.7 L470 566.2 L471 563.1 L472 559.1 L473 554 L474 549.2 L475 546.1 L476 544.5 L477 543.7 L478 543.1 L479 542.3 L480 540.9 L481 539.2 L482 537.3 L483 535.9 L484 535.2 L485 535.4 L486 536 L487 536.7 L488 537.6 L489 538.9 L490 540.5 L491 542.4 L492 544.3 L493 546.1 L494 548 L495 549.7 L496 550.6 L497 549.7 L498 547.3 L499 544.1 L500 540.8 L501 537.5 L502 534.5 L503 531.8 L504 529.8 L505 529 L506 529.2 L507 529.8 L508 530.5 L509 531.1 L510 531.3 L511 531.2 L512 530.7 L513 530.2 L514 529.7 L515 529.1 L516 528.6 L517 528 L518 527.4 L519 526.8 L520 526.3 L521 525.7 L522 525.4 L523 525.5 L524 525.9 L525 526.3 L526 526.8 L527 527.3 L528 527.8 L529 528.3 L530 528.9 L531 529.6 L532 530.8 L533 532.5 L534 534.4 L535 536.3 L536 538.3 L537 540.2 L538 541.8 L539 543.3 L540 544.8 L541 546 L542 547 L543 547.2 L544 546.6 L545 545 L546 542.5 L547 538.8 L548 533.9 L549 528.2 L550 521.7 L551 515 L552 508.6 L553 502.8 L554 497.5 L555 492.8 L556 488.9 L557 486.1 L558 484.8 L559 484.3 L560 473.7 L561 474.3 L562 475.2 L563 476.1 L564 477 L565 478 L566 479.1 L567 480.2 L568 481.3 L569 482.3 L570 483.3 L571 484.3 L572 485.3 L573 486.3 L574 487.3 L575 488.3 L576 489.4 L577 490.7 L578 492.6 L579 495.1 L580 497.9 L581 500.7 L582 503.4 L583 506.2 L584 509 L585 511.7 L586 514.1 L587 515.7 L588 516.3 L589 516.5 L590 516.5 L591 516.6 L592 516.9 L593 517.5 L594 518.9 L595 520.7 L596 522.6 L597 524.5 L598 526.5 L599 528.4 L600 530.2 L601 532 L602 533.6 L603 535.1 L604 536.4 L605 537.4 L606 538.5 L607 539.6 L608 540.7 L609 541.8 L610 542.7 L611 543.5 L612 544 L613 544.4 L614 544.8 L615 545.3 L616 546.2 L617 547.3 L618 548.4 L619 549.4 L620 549.9 L621 549.9 L622 549.6 L623 549.2 L624 548.7 L625 548.3 L626 547.8 L627 547.4 L628 546.9 L629 546.6 L630 546.2 L631 545.8 L632 545.5 L633 545.1 L634 544.7 L635 544.4 L636 544 L637 543.7 L638 543.4 L639 543.1 L640 543.7 L641 544.2 L642 544.7 L643 545.2 L644 545.6 L645 545.7 L646 545.2 L647 544.1 L648 542.8 L649 541.4 L650 540 L651 538.6 L652 537.2 L653 535.8 L654 534.3 L655 532.7 L656 531.1 L657 530.4 L658 529.4 L659 525.6 L660 519.4 L661 512.9 L662 507.4 L663 501.9 L664 496.4 L665 491 L666 485.9 L667 480.9 L668 475.9 L669 471 L670 466 L671 460.9 L672 455.7 L673 450.4 L674 445 L675 439.6 L676 434.4 L677 429.8 L678 427.3 L679 427.5 L680 429.3 L681 431.2 L682 432.6 L683 432.4 L684 430.2 L685 426.9 L686 423.5 L687 420 L688 416.7 L689 414.3 L690 414 L691 416.4 L692 420.5 L693 425 L694 429.6 L695 434.3 L696 439.2 L697 444.4 L698 450 L699 455.8 L700 461.2 L701 465.7 L702 469.1 L703 472 L704 474.8 L705 477.6 L706 480.4 L707 483.4 L708 486.4 L709 489.4 L710 491.8 L711 492.7 L712 491.6 L713 488.9 L714 485.3 L715 481.5 L716 477.7 L717 473.9 L718 470.1 L719 466.7 L720 464.9 L721 465.7 L722 468.2 L723 471 L724 473.9 L725 476.8 L726 479.9 L727 483.1 L728 486.2 L729 489.4 L730 492.6 L731 495.8 L732 498.9 L733 501.7 L734 504 L735 505.9 L736 507.6 L737 508.9 L738 509.8 L739 510 L740 509.4 L741 508.2 L742 506.7 L743 504.7 L744 502.3 L745 500.1 L746 498 L747 496 L748 493.5 L749 490.3 L750 486.4 L751 482.3 L752 478.3 L753 474.5 L754 471.1 L755 468.1 L756 466 L757 464.9 L758 464.3 L759 463.9 L760 463.4 L761 462.5 L762 459.6 L763 453.4 L764 445.5 L765 438.9 L766 434.2 L767 430.5 L768 426.4 L769 420.8 L770 422.8 L771 417.9 L772 412.7 L773 408.2 L774 404 L775 400 L776 396.3 L777 393.8 L778 393.4 L779 394.3 L780 395.4 L781 396.6 L782 397.6 L783 398.2 L784 398.2 L785 397.2 L786 395.7 L787 394.2 L788 392.9 L789 391.3 L790 389.2 L791 386.9 L792 384.6 L793 382.8 L794 382.9 L795 385.4 L796 389.5 L797 394.1 L798 398.9 L799 404 L800 409.2 L801 414.5 L802 419.3 L803 422.8 L804 423.5 L805 421.2 L806 417.4 L807 413.5 L808 409.9 L809 406.8 L810 403.8 L811 400.8 L812 397.6 L813 393.9 L814 389.9 L815 385.3 L816 380.1 L817 374.6 L818 369 L819 362.6 L820 353.5 L821 341.1 L822 327.7 L823 317.1 L824 312.1 L825 311.3 L826 312.1 L827 313.1 L828 312.7 L829 307.7 L830 296.3 L831 280.6 L832 263.3 L833 245 L834 226.7 L835 210.5 L836 198.9 L837 193.8 L838 193.8 L839 195.8 L840 198.1 L841 199.9 L842 200.4 L843 199.2 L844 197 L845 194.8 L846 193.1 L847 193.3 L848 198.5 L849 209.1 L850 221.8 L851 232.2 L852 238.5 L853 242.5 L854 246.4 L855 250.9 L856 256.1 L857 261.8 L858 267.4 L859 272.9 L860 278.1 L861 282.3 L862 283 L863 278.6 L864 271.3 L865 263.6 L866 256.4 L867 250.2 L868 244.5 L869 239.3 L870 236.2 L871 237.1 L872 241.4 L873 246.8 L874 250.4 L875 249.3 L876 243.5 L877 235.4 L878 227.4 L879 220.6 L880 216.2 L881 214.8 L882 215 L883 215.6 L884 216.2 L885 216.8 L886 217.4 L887 218.1 L888 218.9 L889 220 L890 221.7 L891 224.2 L892 227.2 L893 230.3 L894 233.9 L895 238.2 L896 243.4 L897 248.2 L898 250.2 L899 246.4 L900 236.7 L901 223.1 L902 207 L903 190 L904 175 L905 165.1 L906 163.6 L907 169.7 L908 177.7 L909 183.5 L910 187.2 L911 190 L912 192.1 L913 192.3 L914 190.2 L915 186.8 L916 183.4 L917 180.4 L918 178 L919 176.3 L920 175.4 L920 180.9 L919 182.6 L918 185 L917 187.8 L916 190.9 L915 194 L914 197 L913 198.7 L912 198.5 L911 196.9 L910 194.8 L909 191.7 L908 186.1 L907 177.8 L906 171.3 L905 172.9 L904 182.7 L903 196.5 L902 211 L901 225.5 L900 239.5 L899 250.6 L898 255.5 L897 254.2 L896 250 L895 245.4 L894 241 L893 237.1 L892 233.6 L891 230.4 L890 227.9 L889 226.5 L888 225.5 L887 224.7 L886 223.9 L885 223.2 L884 222.5 L883 221.8 L882 221.2 L881 221 L880 222.6 L879 227.5 L878 234.9 L877 243.1 L876 251 L875 256.6 L874 257.5 L873 253.5 L872 247.7 L871 243.1 L870 242.5 L869 246.3 L868 252.3 L867 258.6 L866 264.8 L865 270.9 L864 276.9 L863 282.4 L862 285.5 L861 284.6 L860 280.9 L859 276.5 L858 272 L857 267.5 L856 263.1 L855 258.7 L854 254.6 L853 250.5 L852 246.1 L851 240 L850 230.1 L849 217.1 L848 205.7 L847 200.3 L846 200.1 L845 201.9 L844 204 L843 205.9 L842 206.8 L841 205.9 L840 204 L839 201.9 L838 200.1 L837 200.4 L836 206.1 L835 218.5 L834 234.4 L833 251 L832 267.6 L831 284.2 L830 300 L829 312.2 L828 317.8 L827 318.6 L826 317.7 L825 316.9 L824 317.6 L823 323.1 L822 334.9 L821 349.9 L820 363.5 L819 372.9 L818 378.6 L817 382.6 L816 386.4 L815 390.1 L814 393.8 L813 397.5 L812 401.2 L811 404.9 L810 408.6 L809 412.3 L808 415.9 L807 419.6 L806 423.2 L805 426.5 L804 428 L803 426.5 L802 422.7 L801 418.1 L800 413.4 L799 408.7 L798 404 L797 399.2 L796 394.6 L795 390.3 L794 387.6 L793 387.8 L792 389.6 L791 391.9 L790 394.1 L789 396.4 L788 398.6 L787 400.9 L786 403.1 L785 404.9 L784 405.6 L783 405.1 L782 403.9 L781 402.6 L780 401.3 L779 400 L778 399 L777 399.5 L776 402.3 L775 406.6 L774 411.3 L773 415.9 L772 420.6 L771 425.1 L770 428.9 L769 424.8 L768 430.2 L767 434.4 L766 438.4 L765 443.2 L764 449.7 L763 457.1 L762 462.9 L761 465.7 L760 466.7 L759 467.4 L758 468 L757 468.7 L756 469.8 L755 471.8 L754 474.5 L753 477.6 L752 481.1 L751 484.9 L750 488.8 L749 492.5 L748 495.7 L747 498.2 L746 500.5 L745 502.7 L744 505 L743 507.4 L742 509.2 L741 510.4 L740 511.3 L739 511.8 L738 511.5 L737 510.6 L736 509.3 L735 507.6 L734 505.6 L733 503.3 L732 500.6 L731 497.6 L730 494.5 L729 491.5 L728 488.5 L727 485.4 L726 482.4 L725 479.4 L724 476.6 L723 473.8 L722 471 L721 468.6 L720 467.8 L719 469.5 L718 472.7 L717 476.3 L716 479.9 L715 483.5 L714 487.1 L713 490.5 L712 493.3 L711 494.4 L710 493.7 L709 491.3 L708 488.2 L707 484.9 L706 481.8 L705 478.8 L704 475.8 L703 472.8 L702 469.7 L701 466.2 L700 461.8 L699 456.6 L698 451.2 L697 446 L696 441.1 L695 436.5 L694 432.2 L693 427.9 L692 423.7 L691 419.9 L690 417.5 L689 417.7 L688 420 L687 423.3 L686 426.7 L685 430.2 L684 433.5 L683 435.7 L682 436 L681 434.7 L680 432.9 L679 431.3 L678 431.1 L677 433.5 L676 437.9 L675 442.9 L674 448.1 L673 453.2 L672 458.3 L671 463.3 L670 468.2 L669 473 L668 477.8 L667 482.6 L666 487.5 L665 492.4 L664 497.4 L663 502.6 L662 507.8 L661 513 L660 519.4 L659 525.6 L658 529.4 L657 530.4 L656 531.3 L655 533.2 L654 535.1 L653 536.8 L652 538.2 L651 539.6 L650 541 L649 542.3 L648 543.7 L647 545 L646 546.1 L645 546.6 L644 546.5 L643 546.1 L642 545.6 L641 545.2 L640 544.7 L639 544.2 L638 544.6 L637 545 L636 545.4 L635 545.7 L634 546.1 L633 546.5 L632 546.8 L631 547.2 L630 547.6 L629 547.9 L628 548.3 L627 548.7 L626 549 L625 549.4 L624 549.8 L623 550.1 L622 550.5 L621 550.8 L620 551 L619 550.7 L618 550.1 L617 549.3 L616 548.5 L615 547.6 L614 546.8 L613 545.9 L612 545.1 L611 544.2 L610 543.1 L609 542 L608 540.9 L607 539.7 L606 538.6 L605 537.4 L604 536.4 L603 535.1 L602 533.8 L601 532.4 L600 530.8 L599 529.2 L598 527.5 L597 525.9 L596 524.2 L595 522.5 L594 520.9 L593 519.6 L592 518.7 L591 518.3 L590 518 L589 517.8 L588 517.4 L587 516.5 L586 514.8 L585 512.4 L584 509.8 L583 507.2 L582 504.5 L581 501.9 L580 499.2 L579 496.7 L578 494.4 L577 492.8 L576 491.6 L575 490.5 L574 489.5 L573 488.4 L572 487.4 L571 486.4 L570 485.3 L569 484.3 L568 483.3 L567 482.2 L566 481.2 L565 480.2 L564 479.1 L563 478.1 L562 477.1 L561 476.1 L560 475.4 L559 486.9 L558 487.3 L557 488.5 L556 491.1 L555 494.8 L554 499.3 L553 504.5 L552 510.2 L551 516.5 L550 523 L549 529.3 L548 534.9 L547 539.7 L546 543.4 L545 545.8 L544 547.3 L543 547.9 L542 547.6 L541 546.6 L540 545.2 L539 543.8 L538 542.2 L537 540.6 L536 538.7 L535 536.8 L534 534.8 L533 532.9 L532 531.3 L531 530.2 L530 529.4 L529 528.9 L528 528.4 L527 527.9 L526 527.4 L525 526.9 L524 526.4 L523 526.1 L522 526 L521 526.3 L520 526.8 L519 527.4 L518 527.9 L517 528.5 L516 529 L515 529.6 L514 530.1 L513 530.6 L512 531.2 L511 531.6 L510 531.8 L509 531.5 L508 531 L507 530.3 L506 529.8 L505 529.6 L504 530.3 L503 532.3 L502 535 L501 538.1 L500 541.3 L499 544.5 L498 547.7 L497 550.1 L496 551 L495 550.2 L494 548.5 L493 546.6 L492 544.8 L491 542.9 L490 541.1 L489 539.5 L488 538.2 L487 537.3 L486 536.6 L485 536 L484 535.9 L483 536.5 L482 538 L481 539.8 L480 541.6 L479 542.9 L478 543.8 L477 544.4 L476 545.2 L475 546.8 L474 549.9 L473 554.4 L472 559.3 L471 563.3 L470 566.3 L469 568.8 L468 570.9 L467 572.3 L466 573.3 L465 574.2 L464 575 L463 575.9 L462 576.7 L461 577.4 L460 577.8 L459 578 L458 578.1 L457 578.1 L456 577.8 L455 577 L454 575.8 L453 574.5 L452 573.2 L451 571.8 L450 570.6 L449 569.4 L448 568.4 L447 567.6 L446 567.3 L445 567.2 L444 567.3 L443 567.3 L442 567.4 L441 567.4 L440 567.5 L439 567.6 L438 567.6 L437 567.7 L436 567.8 L435 567.8 L434 567.9 L433 568.1 L432 568.2 L431 568.3 L430 568.4 L429 568.5 L428 568.5 L427 568.5 L426 568.7 L425 569.7 L424 571.2 L423 573 L422 574.8 L421 576.5 L420 578 L419 578.9 L418 579.2 L417 579 L416 578.7 L415 578.3 L414 577.9 L413 577.4 L412 577 L411 576.5 L410 576 L409 575.5 L408 575 L407 574.5 L406 574.1 L405 573.7 L404 573.5 L403 573.8 L402 574.9 L401 576.6 L400 578.3 L399 579.5 L398 580.3 L397 580.8 L396 581.2 L395 581.3 L394 581.4 L393 581.4 L392 581.4 L391 581.4 L390 581.4 L389 581.5 L388 581.5 L387 581.6 L386 581.9 L385 582.4 L384 583.2 L383 584.1 L382 585 L381 586 L380 586.9 L379 587.7 L378 588.3 L377 588.6 L376 588.9 L375 589.1 L374 589.2 L373 589.3 L372 589.5 L371 589.7 L370 590 L369 590.4 L368 590.9 L367 591.4 L366 591.9 L365 592.5 L364 593 L363 593.6 L362 594.1 L361 594.6 L360 595.1 L359 595.6 L358 596 L357 596.1 L356 596 L355 595.7 L354 595.3 L353 594.8 L352 594.4 L351 594 L350 593.8 L349 593.8 L348 593.9 L347 594.1 L346 594.3 L345 594.3 L344 594.3 L343 594.2 L342 594.1 L341 593.9 L340 593.4 L339 592.4 L338 591.1 L337 589.6 L336 588.1 L335 586.6 L334 585.2 L333 584.3 L332 584.5 L331 585.4 L330 586.6 L329 587.8 L328 589.1 L327 590.4 L326 591.6 L325 592.7 L324 592.9 L323 591.8 L322 589.8 L321 587.9 L320 586.6 L319 585.9 L318 585.6 L317 585.3 L316 585 L315 584.7 L314 584.5 L313 584.2 L312 583.9 L311 583.7 L310 583.4 L309 583.1 L308 582.7 L307 582.3 L306 581.9 L305 581.5 L304 581 L303 580.6 L302 580.2 L301 579.7 L300 579.3 L299 578.7 L298 578.2 L297 577.7 L296 577.3 L295 577.1 L294 576.9 L293 576.8 L292 576.7 L291 576.5 L290 576.4 L289 576.5 L288 576.9 L287 577.6 L286 578.6 L285 579.5 L284 580.6 L283 581.8 L282 583.1 L281 584.4 L280 585.4 L279 585.8 L278 585.5 L277 584.8 L276 584 L275 583.2 L274 582.5 L273 582.4 L272 583 L271 584.1 L270 585.3 L269 586.5 L268 587.6 L267 588.8 L266 590.7 L265 593.1 L264 595.9 L263 598.8 L262 601.6 L261 603.8 L260 605.1 L259 605.5 L258 605.4 L257 602.5 L256 602.2 L255 601.9 L254 601.6 L253 601.4 L252 601.2 L251 600.9 L250 600.6 L249 600.1 L248 599.3 L247 598.2 L246 597 L245 595.9 L244 594.9 L243 594.3 L242 594 L241 593.8 L240 593.6 L239 593.3 L238 592.9 L237 592.3 L236 591.6 L235 590.8 L234 590.1 L233 589.4 L232 588.8 L231 588.7 L230 589.1 L229 589.8 L228 590.6 L227 591.3 L226 592 L225 592.7 L224 593.4 L223 594 L222 594.5 L221 595 L220 595.5 L219 596.3 L218 597.4 L217 598.7 L216 600.1 L215 601.5 L214 602.8 L213 604.1 L212 604.7 L211 604.5 L210 603.6 L209 602.6 L208 601.7 L207 600.7 L206 600.1 L205 599.8 L204 599.9 L203 600 L202 600.1 L201 599.9 L200 599.4 L199 598.8 L198 598.1 L197 597.6 L196 597.8 L195 598.8 L194 600.4 L193 602 L192 603.6 L191 604.8 L190 605.2 L189 605.1 L188 604.9 L187 604.9 L186 605.1 L185 605.5 L184 605.8 L183 606.3 L182 606.8 L181 607.6 L180 608.6 L179 609.6 L178 610.6 L177 611.6 L176 612.5 L175 613 L174 612.7 L173 612 L172 611.3 L171 610.5 L170 609.7 L169 608.9 L168 608.2 L167 607.3 L166 606.3 L165 605.3 L164 604.3 L163 603.4 L162 602.8 L161 603 L160 603.7 L159 604.6 L158 605.4 L157 606.1 L156 606.4 L155 606.6 L154 606.7 L153 606.9 L152 607.5 L151 608.3 L150 609.2 L149 610 L148 610.9 L147 611.7 L146 612.4 L145 612.8 L144 613 L143 613.2 L142 613.3 L141 613.4 L140 613.2 L139 612.9 L138 612.5 L137 612.3 L136 612.5 L135 613.2 L134 614.2 L133 615.2 L132 616.1 L131 617.1 L130 618.1 L129 619.1 L128 620.1 L127 621.1 L126 622.1 L125 622.7 L124 622.7 L123 622.4 L122 622.1 L121 621.8 L120 621.6 L119 621.6 L118 621.7 L117 621.8Z" fill="#8cc070"/>
<path d="M117 621.8 L118 621.7 L119 621.6 L120 621.6 L121 621.8 L122 622.1 L123 622.4 L124 622.7 L125 622.7 L126 622.1 L127 621.1 L128 620.1 L129 619.1 L130 618.1 L131 617.1 L132 616.1 L133 615.2 L134 614.2 L135 613.2 L136 612.5 L137 612.3 L138 612.5 L139 612.9 L140 613.2 L141 613.4 L142 613.3 L143 613.2 L144 613 L145 612.8 L146 612.4 L147 611.7 L148 610.9 L149 610 L150 609.2 L151 608.3 L152 607.5 L153 606.9 L154 606.7 L155 606.6 L156 606.4 L157 606.1 L158 605.4 L159 604.6 L160 603.7 L161 603 L162 602.8 L163 603.4 L164 604.3 L165 605.3 L166 606.3 L167 607.3 L168 608.2 L169 608.9 L170 609.7 L171 610.5 L172 611.3 L173 612 L174 612.7 L175 613 L176 612.5 L177 611.6 L178 610.6 L179 609.6 L180 608.6 L181 607.6 L182 606.8 L183 606.3 L184 605.8 L185 605.5 L186 605.1 L187 604.9 L188 604.9 L189 605.1 L190 605.2 L191 604.8 L192 603.6 L193 602 L194 600.4 L195 598.8 L196 597.8 L197 597.6 L198 598.1 L199 598.8 L200 599.4 L201 599.9 L202 600.1 L203 600 L204 599.9 L205 599.8 L206 600.1 L207 600.7 L208 601.7 L209 602.6 L210 603.6 L211 604.5 L212 604.7 L213 604.1 L214 602.8 L215 601.5 L216 600.1 L217 598.7 L218 597.4 L219 596.3 L220 595.5 L221 595 L222 594.5 L223 594 L224 593.4 L225 592.7 L226 592 L227 591.3 L228 590.6 L229 589.8 L230 589.1 L231 588.7 L232 588.8 L233 589.4 L234 590.1 L235 590.8 L236 591.6 L237 592.3 L238 592.9 L239 593.3 L240 593.6 L241 593.8 L242 594 L243 594.3 L244 594.9 L245 595.9 L246 597 L247 598.2 L248 599.3 L249 600.1 L250 600.6 L251 600.9 L252 601.2 L253 601.4 L254 601.6 L255 601.9 L256 602.2 L257 602.5 L258 605.2 L259 605.2 L260 604.7 L261 603.1 L262 600.2 L263 596.3 L264 592.5 L265 589.3 L266 586.7 L267 584.7 L268 583.1 L269 581.3 L270 578.9 L271 576.7 L272 574.5 L273 573.3 L274 573.5 L275 574.7 L276 576.4 L277 578 L278 579.3 L279 579.8 L280 579 L281 577.5 L282 575.7 L283 574 L284 572.6 L285 571.6 L286 570.8 L287 570.2 L288 569.7 L289 569.3 L290 569.2 L291 569.1 L292 569 L293 569 L294 568.9 L295 568.9 L296 569.2 L297 569.9 L298 570.7 L299 571.6 L300 572.4 L301 573.1 L302 573.7 L303 574.2 L304 574.7 L305 575.2 L306 575.7 L307 576.2 L308 576.7 L309 577.1 L310 577.5 L311 577.9 L312 578.3 L313 578.6 L314 578.9 L315 579.3 L316 579.6 L317 579.9 L318 580.3 L319 580.7 L320 581.5 L321 582.9 L322 584.9 L323 587 L324 588.1 L325 587.8 L326 586.5 L327 585.1 L328 583.7 L329 582.3 L330 580.9 L331 579.5 L332 578.5 L333 578.3 L334 579.2 L335 580.6 L336 582.1 L337 583.7 L338 585.2 L339 586.7 L340 587.8 L341 588.7 L342 589.4 L343 590 L344 590.6 L345 590.9 L346 590.8 L347 590.4 L348 590 L349 589.7 L350 589.6 L351 589.8 L352 590.4 L353 591 L354 591.7 L355 592.3 L356 592.6 L357 592.6 L358 592.3 L359 591.8 L360 591.4 L361 590.8 L362 590.3 L363 589.7 L364 589.1 L365 588.4 L366 587.8 L367 587.1 L368 586.6 L369 586.3 L370 586.1 L371 586 L372 585.9 L373 585.9 L374 585.9 L375 585.8 L376 585.5 L377 585.1 L378 584.6 L379 584 L380 583.3 L381 582.5 L382 581.8 L383 581 L384 580.2 L385 579.4 L386 578.8 L387 578.4 L388 578.3 L389 578.3 L390 578.4 L391 578.5 L392 578.6 L393 578.6 L394 578.7 L395 578.7 L396 578.3 L397 577.3 L398 575.9 L399 574.3 L400 572.4 L401 570.6 L402 569.2 L403 568.5 L404 568.4 L405 568.6 L406 569 L407 569.5 L408 570.2 L409 571 L410 571.8 L411 572.6 L412 573.2 L413 573.9 L414 574.5 L415 575 L416 575.3 L417 575.5 L418 575.5 L419 575.3 L420 574.4 L421 572.9 L422 570.6 L423 568 L424 565.5 L425 563.7 L426 563 L427 563.2 L428 563.6 L429 563.9 L430 564 L431 563.9 L432 563.7 L433 563.5 L434 563.3 L435 563.2 L436 563.1 L437 563.1 L438 563 L439 563 L440 563 L441 562.9 L442 562.9 L443 562.9 L444 562.8 L445 562.9 L446 563 L447 563.4 L448 564 L449 564.9 L450 566.1 L451 567.5 L452 569.1 L453 570.7 L454 572.4 L455 573.9 L456 575.1 L457 575.8 L458 576.2 L459 576.4 L460 576.6 L461 576.4 L462 575.6 L463 574.5 L464 573.2 L465 572 L466 570.8 L467 569.5 L468 568.1 L469 566.3 L470 564.1 L471 560.8 L472 555.2 L473 547.3 L474 540.3 L475 536.8 L476 535.8 L477 535.6 L478 535.5 L479 535 L480 533.7 L481 532 L482 530.2 L483 528.7 L484 528 L485 528.3 L486 529.1 L487 530 L488 531.1 L489 532.6 L490 534.5 L491 536.5 L492 538.6 L493 540.7 L494 542.8 L495 544.8 L496 546 L497 545.5 L498 542.9 L499 539.3 L500 535.5 L501 531.9 L502 528.5 L503 525.7 L504 523.5 L505 522.5 L506 522.9 L507 524 L508 525.2 L509 526.2 L510 526.7 L511 526.5 L512 526 L513 525.4 L514 524.7 L515 524.1 L516 523.4 L517 522.7 L518 522 L519 521.3 L520 520.6 L521 519.9 L522 519.4 L523 519.3 L524 519.5 L525 520 L526 520.5 L527 521 L528 521.5 L529 522 L530 522.6 L531 523.6 L532 525.2 L533 527.2 L534 529.3 L535 531.6 L536 533.7 L537 535.7 L538 537.3 L539 538.5 L540 539.6 L541 540.7 L542 541.6 L543 541.9 L544 541.2 L545 539.2 L546 536.3 L547 532.6 L548 528 L549 522.2 L550 515.3 L551 507.9 L552 501.2 L553 495.4 L554 490.2 L555 485.4 L556 481.1 L557 478.1 L558 476.9 L559 476.6 L560 469.4 L561 469.8 L562 470.3 L563 470.9 L564 471.6 L565 472.5 L566 473.7 L567 474.9 L568 476.1 L569 477.2 L570 478.2 L571 479.1 L572 479.9 L573 480.8 L574 481.6 L575 482.5 L576 483.7 L577 485.5 L578 488 L579 491.1 L580 494.3 L581 497.5 L582 500.7 L583 503.8 L584 506.9 L585 509.9 L586 512.3 L587 513.5 L588 513.6 L589 513.2 L590 512.8 L591 512.3 L592 512 L593 512.3 L594 513.6 L595 515.8 L596 518.5 L597 521.1 L598 523.8 L599 526.3 L600 528.6 L601 530.9 L602 533.1 L603 534.9 L604 536.4 L605 537.4 L606 538.3 L607 539.2 L608 540.1 L609 541 L610 541.6 L611 541.7 L612 541.3 L613 540.5 L614 539.8 L615 539.5 L616 540.3 L617 542 L618 544.1 L619 546 L620 547.3 L621 547.7 L622 547.3 L623 546.7 L624 546 L625 545.3 L626 544.7 L627 544 L628 543.5 L629 543.1 L630 542.7 L631 542.3 L632 541.9 L633 541.6 L634 541.2 L635 540.8 L636 540.5 L637 540.2 L638 540.2 L639 540.3 L640 540.9 L641 541.6 L642 542.2 L643 542.8 L644 543.3 L645 543.5 L646 543 L647 541.9 L648 540.5 L649 539 L650 537.5 L651 536 L652 534.6 L653 533.2 L654 532.2 L655 531.3 L656 530.7 L657 530.4 L658 529.4 L659 525.6 L660 519.4 L661 512.6 L662 506.3 L663 499.9 L664 493.7 L665 487.6 L666 482 L667 476.5 L668 471.1 L669 465.7 L670 460.3 L671 454.8 L672 449.1 L673 443.2 L674 437.2 L675 431.2 L676 425.3 L677 420.2 L678 417.5 L679 417.8 L680 419.9 L681 422.2 L682 423.9 L683 423.9 L684 421.8 L685 418.6 L686 415.1 L687 411.6 L688 408.3 L689 405.6 L690 405.1 L691 407.6 L692 412.2 L693 417.5 L694 422.9 L695 428.4 L696 434.2 L697 440.5 L698 447 L699 453.6 L700 459.7 L701 464.4 L702 467.5 L703 470 L704 472.3 L705 474.5 L706 476.8 L707 479.3 L708 481.9 L709 484.6 L710 486.9 L711 488.1 L712 487.5 L713 484.6 L714 480.6 L715 476.3 L716 472 L717 467.7 L718 463.4 L719 459.5 L720 457.5 L721 458.3 L722 460.9 L723 463.9 L724 467 L725 470.2 L726 473.6 L727 477.1 L728 480.6 L729 484.1 L730 487.6 L731 491.1 L732 494.6 L733 497.5 L734 499.8 L735 501.5 L736 503.1 L737 504.4 L738 505.4 L739 505.6 L740 504.4 L741 502.5 L742 500.3 L743 497.9 L744 495.4 L745 493.5 L746 491.8 L747 490.1 L748 488 L749 484.7 L750 480.4 L751 475.8 L752 471.1 L753 466.6 L754 462.4 L755 458.7 L756 456.2 L757 455.2 L758 455 L759 454.9 L760 454.8 L761 454.2 L762 451.2 L763 444 L764 434.9 L765 427.7 L766 423.5 L767 420.4 L768 416.7 L769 410.5 L770 407.1 L771 399.3 L772 392.6 L773 388.2 L774 385.4 L775 382.9 L776 380.7 L777 379.1 L778 378.9 L779 379.5 L780 380.4 L781 381.2 L782 381.4 L783 380.6 L784 379.1 L785 377.5 L786 376.7 L787 377.1 L788 378 L789 378.1 L790 376.7 L791 374.2 L792 371.6 L793 370.1 L794 370.6 L795 373.1 L796 376.6 L797 380.7 L798 385.8 L799 391.9 L800 398.6 L801 405.2 L802 410.6 L803 413.2 L804 411.9 L805 407.6 L806 402.4 L807 397.7 L808 394.5 L809 392.7 L810 391.5 L811 390.2 L812 388.2 L813 384.7 L814 379.8 L815 373 L816 364 L817 353.9 L818 344.4 L819 336.1 L820 327.9 L821 318.5 L822 309 L823 301.6 L824 297.8 L825 296.9 L826 297.7 L827 299 L828 299.4 L829 296.3 L830 286.8 L831 271.4 L832 252.3 L833 229.8 L834 207 L835 189.9 L836 180.3 L837 176.8 L838 177.5 L839 180 L840 182.8 L841 184.5 L842 184 L843 181.7 L844 178.9 L845 176.6 L846 175 L847 175.5 L848 179.9 L849 188.7 L850 200.6 L851 212.1 L852 218.8 L853 222 L854 225.3 L855 230.7 L856 238.4 L857 247 L858 255.5 L859 263.6 L860 271 L861 276.6 L862 276.5 L863 268.8 L864 256.8 L865 244.6 L866 234.8 L867 228.5 L868 224.4 L869 221.3 L870 220 L871 221.5 L872 225.2 L873 229.5 L874 232.2 L875 230.5 L876 224.2 L877 215.8 L878 208.2 L879 202.8 L880 199.8 L881 198.9 L882 199.1 L883 199.7 L884 200.1 L885 200.4 L886 200.6 L887 201 L888 201.8 L889 203.4 L890 205.6 L891 208.1 L892 210.6 L893 212.9 L894 215.6 L895 219.9 L896 226.3 L897 232.9 L898 236.6 L899 235.5 L900 229.5 L901 217 L902 196.6 L903 173.5 L904 155 L905 145.2 L906 143.8 L907 148.7 L908 156 L909 162.4 L910 167.6 L911 172.4 L912 175.7 L913 175.8 L914 172.7 L915 168.2 L916 164.1 L917 161.3 L918 159.9 L919 160.2 L920 161.5 L920 175.4 L919 176.3 L918 178 L917 180.4 L916 183.4 L915 186.8 L914 190.2 L913 192.3 L912 192.1 L911 190 L910 187.2 L909 183.5 L908 177.7 L907 169.7 L906 163.6 L905 165.1 L904 175 L903 190 L902 207 L901 223.1 L900 236.7 L899 246.4 L898 250.2 L897 248.2 L896 243.4 L895 238.2 L894 233.9 L893 230.3 L892 227.2 L891 224.2 L890 221.7 L889 220 L888 218.9 L887 218.1 L886 217.4 L885 216.8 L884 216.2 L883 215.6 L882 215 L881 214.8 L880 216.2 L879 220.6 L878 227.4 L877 235.4 L876 243.5 L875 249.3 L874 250.4 L873 246.8 L872 241.4 L871 237.1 L870 236.2 L869 239.3 L868 244.5 L867 250.2 L866 256.4 L865 263.6 L864 271.3 L863 278.6 L862 283 L861 282.3 L860 278.1 L859 272.9 L858 267.4 L857 261.8 L856 256.1 L855 250.9 L854 246.4 L853 242.5 L852 238.5 L851 232.2 L850 221.8 L849 209.1 L848 198.5 L847 193.3 L846 193.1 L845 194.8 L844 197 L843 199.2 L842 200.4 L841 199.9 L840 198.1 L839 195.8 L838 193.8 L837 193.8 L836 198.9 L835 210.5 L834 226.7 L833 245 L832 263.3 L831 280.6 L830 296.3 L829 307.7 L828 312.7 L827 313.1 L826 312.1 L825 311.3 L824 312.1 L823 317.1 L822 327.7 L821 341.1 L820 353.5 L819 362.6 L818 369 L817 374.6 L816 380.1 L815 385.3 L814 389.9 L813 393.9 L812 397.6 L811 400.8 L810 403.8 L809 406.8 L808 409.9 L807 413.5 L806 417.4 L805 421.2 L804 423.5 L803 422.8 L802 419.3 L801 414.5 L800 409.2 L799 404 L798 398.9 L797 394.1 L796 389.5 L795 385.4 L794 382.9 L793 382.8 L792 384.6 L791 386.9 L790 389.2 L789 391.3 L788 392.9 L787 394.2 L786 395.7 L785 397.2 L784 398.2 L783 398.2 L782 397.6 L781 396.6 L780 395.4 L779 394.3 L778 393.4 L777 393.8 L776 396.3 L775 400 L774 404 L773 408.2 L772 412.7 L771 417.9 L770 422.8 L769 420.8 L768 426.4 L767 430.5 L766 434.2 L765 438.9 L764 445.5 L763 453.4 L762 459.6 L761 462.5 L760 463.4 L759 463.9 L758 464.3 L757 464.9 L756 466 L755 468.1 L754 471.1 L753 474.5 L752 478.3 L751 482.3 L750 486.4 L749 490.3 L748 493.5 L747 496 L746 498 L745 500.1 L744 502.3 L743 504.7 L742 506.7 L741 508.2 L740 509.4 L739 510 L738 509.8 L737 508.9 L736 507.6 L735 505.9 L734 504 L733 501.7 L732 498.9 L731 495.8 L730 492.6 L729 489.4 L728 486.2 L727 483.1 L726 479.9 L725 476.8 L724 473.9 L723 471 L722 468.2 L721 465.7 L720 464.9 L719 466.7 L718 470.1 L717 473.9 L716 477.7 L715 481.5 L714 485.3 L713 488.9 L712 491.6 L711 492.7 L710 491.8 L709 489.4 L708 486.4 L707 483.4 L706 480.4 L705 477.6 L704 474.8 L703 472 L702 469.1 L701 465.7 L700 461.2 L699 455.8 L698 450 L697 444.4 L696 439.2 L695 434.3 L694 429.6 L693 425 L692 420.5 L691 416.4 L690 414 L689 414.3 L688 416.7 L687 420 L686 423.5 L685 426.9 L684 430.2 L683 432.4 L682 432.6 L681 431.2 L680 429.3 L679 427.5 L678 427.3 L677 429.8 L676 434.4 L675 439.6 L674 445 L673 450.4 L672 455.7 L671 460.9 L670 466 L669 471 L668 475.9 L667 480.9 L666 485.9 L665 491 L664 496.4 L663 501.9 L662 507.4 L661 512.9 L660 519.4 L659 525.6 L658 529.4 L657 530.4 L656 531.1 L655 532.7 L654 534.3 L653 535.8 L652 537.2 L651 538.6 L650 540 L649 541.4 L648 542.8 L647 544.1 L646 545.2 L645 545.7 L644 545.6 L643 545.2 L642 544.7 L641 544.2 L640 543.7 L639 543.1 L638 543.4 L637 543.7 L636 544 L635 544.4 L634 544.7 L633 545.1 L632 545.5 L631 545.8 L630 546.2 L629 546.6 L628 546.9 L627 547.4 L626 547.8 L625 548.3 L624 548.7 L623 549.2 L622 549.6 L621 549.9 L620 549.9 L619 549.4 L618 548.4 L617 547.3 L616 546.2 L615 545.3 L614 544.8 L613 544.4 L612 544 L611 543.5 L610 542.7 L609 541.8 L608 540.7 L607 539.6 L606 538.5 L605 537.4 L604 536.4 L603 535.1 L602 533.6 L601 532 L600 530.2 L599 528.4 L598 526.5 L597 524.5 L596 522.6 L595 520.7 L594 518.9 L593 517.5 L592 516.9 L591 516.6 L590 516.5 L589 516.5 L588 516.3 L587 515.7 L586 514.1 L585 511.7 L584 509 L583 506.2 L582 503.4 L581 500.7 L580 497.9 L579 495.1 L578 492.6 L577 490.7 L576 489.4 L575 488.3 L574 487.3 L573 486.3 L572 485.3 L571 484.3 L570 483.3 L569 482.3 L568 481.3 L567 480.2 L566 479.1 L565 478 L564 477 L563 476.1 L562 475.2 L561 474.3 L560 473.7 L559 484.3 L558 484.8 L557 486.1 L556 488.9 L555 492.8 L554 497.5 L553 502.8 L552 508.6 L551 515 L550 521.7 L549 528.2 L548 533.9 L547 538.8 L546 542.5 L545 545 L544 546.6 L543 547.2 L542 547 L541 546 L540 544.8 L539 543.3 L538 541.8 L537 540.2 L536 538.3 L535 536.3 L534 534.4 L533 532.5 L532 530.8 L531 529.6 L530 528.9 L529 528.3 L528 527.8 L527 527.3 L526 526.8 L525 526.3 L524 525.9 L523 525.5 L522 525.4 L521 525.7 L520 526.3 L519 526.8 L518 527.4 L517 528 L516 528.6 L515 529.1 L514 529.7 L513 530.2 L512 530.7 L511 531.2 L510 531.3 L509 531.1 L508 530.5 L507 529.8 L506 529.2 L505 529 L504 529.8 L503 531.8 L502 534.5 L501 537.5 L500 540.8 L499 544.1 L498 547.3 L497 549.7 L496 550.6 L495 549.7 L494 548 L493 546.1 L492 544.3 L491 542.4 L490 540.5 L489 538.9 L488 537.6 L487 536.7 L486 536 L485 535.4 L484 535.2 L483 535.9 L482 537.3 L481 539.2 L480 540.9 L479 542.3 L478 543.1 L477 543.7 L476 544.5 L475 546.1 L474 549.2 L473 554 L472 559.1 L471 563.1 L470 566.2 L469 568.7 L468 570.8 L467 572.2 L466 573.2 L465 574.1 L464 575 L463 575.9 L462 576.7 L461 577.4 L460 577.8 L459 578 L458 578 L457 578 L456 577.7 L455 576.9 L454 575.7 L453 574.4 L452 573.1 L451 571.7 L450 570.5 L449 569.3 L448 568.2 L447 567.5 L446 567.2 L445 567.1 L444 567.1 L443 567.2 L442 567.3 L441 567.3 L440 567.4 L439 567.4 L438 567.5 L437 567.6 L436 567.6 L435 567.7 L434 567.8 L433 567.9 L432 568.1 L431 568.2 L430 568.3 L429 568.4 L428 568.3 L427 568.3 L426 568.6 L425 569.5 L424 571 L423 572.8 L422 574.7 L421 576.4 L420 577.9 L419 578.8 L418 579.1 L417 578.9 L416 578.6 L415 578.2 L414 577.8 L413 577.3 L412 576.9 L411 576.4 L410 575.9 L409 575.4 L408 574.9 L407 574.4 L406 574 L405 573.6 L404 573.4 L403 573.6 L402 574.7 L401 576.4 L400 578.1 L399 579.4 L398 580.2 L397 580.7 L396 581.1 L395 581.3 L394 581.3 L393 581.3 L392 581.3 L391 581.3 L390 581.4 L389 581.4 L388 581.4 L387 581.5 L386 581.8 L385 582.3 L384 583.1 L383 584 L382 585 L381 585.9 L380 586.8 L379 587.6 L378 588.2 L377 588.6 L376 588.8 L375 589 L374 589.1 L373 589.2 L372 589.4 L371 589.6 L370 589.9 L369 590.3 L368 590.8 L367 591.3 L366 591.8 L365 592.4 L364 592.9 L363 593.5 L362 594 L361 594.5 L360 595 L359 595.5 L358 595.9 L357 596.1 L356 595.9 L355 595.6 L354 595.2 L353 594.7 L352 594.3 L351 593.9 L350 593.7 L349 593.7 L348 593.8 L347 594 L346 594.2 L345 594.3 L344 594.2 L343 594.1 L342 593.9 L341 593.7 L340 593.2 L339 592.3 L338 590.9 L337 589.4 L336 587.9 L335 586.4 L334 585.1 L333 584.2 L332 584.3 L331 585.2 L330 586.4 L329 587.7 L328 589 L327 590.3 L326 591.5 L325 592.6 L324 592.8 L323 591.7 L322 589.7 L321 587.8 L320 586.4 L319 585.8 L318 585.4 L317 585.1 L316 584.9 L315 584.6 L314 584.3 L313 584.1 L312 583.8 L311 583.5 L310 583.2 L309 582.9 L308 582.6 L307 582.1 L306 581.7 L305 581.3 L304 580.9 L303 580.4 L302 580 L301 579.6 L300 579.1 L299 578.6 L298 578 L297 577.5 L296 577.1 L295 576.9 L294 576.7 L293 576.6 L292 576.5 L291 576.4 L290 576.3 L289 576.3 L288 576.7 L287 577.4 L286 578.3 L285 579.3 L284 580.4 L283 581.6 L282 582.9 L281 584.2 L280 585.2 L279 585.7 L278 585.4 L277 584.7 L276 583.8 L275 583 L274 582.3 L273 582.1 L272 582.8 L271 583.9 L270 585.1 L269 586.3 L268 587.5 L267 588.7 L266 590.6 L265 593 L264 595.8 L263 598.8 L262 601.5 L261 603.8 L260 605.1 L259 605.5 L258 605.4 L257 602.5 L256 602.2 L255 601.9 L254 601.6 L253 601.4 L252 601.2 L251 600.9 L250 600.6 L249 600.1 L248 599.3 L247 598.2 L246 597 L245 595.9 L244 594.9 L243 594.3 L242 594 L241 593.8 L240 593.6 L239 593.3 L238 592.9 L237 592.3 L236 591.6 L235 590.8 L234 590.1 L233 589.4 L232 588.8 L231 588.7 L230 589.1 L229 589.8 L228 590.6 L227 591.3 L226 592 L225 592.7 L224 593.4 L223 594 L222 594.5 L221 595 L220 595.5 L219 596.3 L218 597.4 L217 598.7 L216 600.1 L215 601.5 L214 602.8 L213 604.1 L212 604.7 L211 604.5 L210 603.6 L209 602.6 L208 601.7 L207 600.7 L206 600.1 L205 599.8 L204 599.9 L203 600 L202 600.1 L201 599.9 L200 599.4 L199 598.8 L198 598.1 L197 597.6 L196 597.8 L195 598.8 L194 600.4 L193 602 L192 603.6 L191 604.8 L190 605.2 L189 605.1 L188 604.9 L187 604.9 L186 605.1 L185 605.5 L184 605.8 L183 606.3 L182 606.8 L181 607.6 L180 608.6 L179 609.6 L178 610.6 L177 611.6 L176 612.5 L175 613 L174 612.7 L173 612 L172 611.3 L171 610.5 L170 609.7 L169 608.9 L168 608.2 L167 607.3 L166 606.3 L165 605.3 L164 604.3 L163 603.4 L162 602.8 L161 603 L160 603.7 L159 604.6 L158 605.4 L157 606.1 L156 606.4 L155 606.6 L154 606.7 L153 606.9 L152 607.5 L151 608.3 L150 609.2 L149 610 L148 610.9 L147 611.7 L146 612.4 L145 612.8 L144 613 L143 613.2 L142 613.3 L141 613.4 L140 613.2 L139 612.9 L138 612.5 L137 612.3 L136 612.5 L135 613.2 L134 614.2 L133 615.2 L132 616.1 L131 617.1 L130 618.1 L129 619.1 L128 620.1 L127 621.1 L126 622.1 L125 622.7 L124 622.7 L123 622.4 L122 622.1 L121 621.8 L120 621.6 L119 621.6 L118 621.7 L117 621.8Z" fill="#f1b535"/>
<path d="M117 621.2 L118 621.1 L119 621 L120 621 L121 621.2 L122 621.5 L123 621.8 L124 622.1 L125 622.1 L126 621.5 L127 620.5 L128 619.5 L129 618.5 L130 617.5 L131 616.5 L132 615.5 L133 614.6 L134 613.6 L135 612.6 L136 611.9 L137 611.7 L138 611.9 L139 612.3 L140 612.6 L141 612.8 L142 612.7 L143 612.6 L144 612.4 L145 612.2 L146 611.8 L147 611.1 L148 610.3 L149 609.4 L150 608.6 L151 607.7 L152 606.9 L153 606.3 L154 606.1 L155 606 L156 605.8 L157 605.5 L158 604.8 L159 604 L160 603.1 L161 602.4 L162 602.2 L163 602.8 L164 603.7 L165 604.7 L166 605.7 L167 606.7 L168 607.6 L169 608.3 L170 609.1 L171 609.9 L172 610.7 L173 611.4 L174 612.1 L175 612.4 L176 611.9 L177 611 L178 610 L179 609 L180 608 L181 607 L182 606.2 L183 605.7 L184 605.2 L185 604.9 L186 604.5 L187 604.3 L188 604.3 L189 604.5 L190 604.6 L191 604.2 L192 603 L193 601.4 L194 599.8 L195 598.2 L196 597.2 L197 597 L198 597.5 L199 598.2 L200 598.8 L201 599.3 L202 599.5 L203 599.4 L204 599.3 L205 599.2 L206 599.5 L207 600.1 L208 601.1 L209 602 L210 603 L211 603.9 L212 604.1 L213 603.5 L214 602.2 L215 600.9 L216 599.5 L217 598.1 L218 596.8 L219 595.7 L220 594.9 L221 594.4 L222 593.9 L223 593.4 L224 592.8 L225 592.1 L226 591.4 L227 590.7 L228 590 L229 589.2 L230 588.5 L231 588.1 L232 588.2 L233 588.8 L234 589.5 L235 590.2 L236 591 L237 591.7 L238 592.3 L239 592.7 L240 593 L241 593.2 L242 593.4 L243 593.7 L244 594.3 L245 595.3 L246 596.4 L247 597.6 L248 598.7 L249 599.5 L250 600 L251 600.3 L252 600.6 L253 600.8 L254 601 L255 601.3 L256 601.6 L257 602 L258 602.3 L259 602.6 L260 602.1 L261 599.4 L262 593.7 L263 586.7 L264 581.3 L265 578.7 L266 577.3 L267 576.2 L268 574.9 L269 573 L270 570 L271 566.4 L272 562.9 L273 560.8 L274 561.2 L275 563.3 L276 566.1 L277 568.9 L278 571.2 L279 571.9 L280 570.7 L281 568.6 L282 566.2 L283 564 L284 562.3 L285 561.4 L286 561.1 L287 560.9 L288 560.7 L289 560.5 L290 560.3 L291 560.1 L292 559.8 L293 559.5 L294 559.3 L295 559.2 L296 559.7 L297 560.6 L298 561.9 L299 563.2 L300 564.5 L301 565.4 L302 566.2 L303 566.8 L304 567.3 L305 567.9 L306 568.5 L307 569.1 L308 569.7 L309 570.3 L310 570.8 L311 571.3 L312 571.7 L313 572.1 L314 572.5 L315 572.9 L316 573.4 L317 573.8 L318 574.2 L319 574.7 L320 575.5 L321 577.1 L322 579.2 L323 581.4 L324 582.5 L325 582 L326 580.6 L327 579 L328 577.4 L329 575.8 L330 574.2 L331 572.7 L332 571.5 L333 571.3 L334 572.1 L335 573.6 L336 575.2 L337 576.8 L338 578.4 L339 580 L340 581.4 L341 582.7 L342 583.9 L343 585.1 L344 586.2 L345 586.8 L346 586.7 L347 586.2 L348 585.5 L349 584.9 L350 584.6 L351 584.9 L352 585.7 L353 586.6 L354 587.6 L355 588.3 L356 588.6 L357 588.4 L358 588 L359 587.5 L360 587 L361 586.5 L362 585.9 L363 585.3 L364 584.5 L365 583.7 L366 582.9 L367 582.1 L368 581.6 L369 581.5 L370 581.6 L371 581.7 L372 581.8 L373 581.9 L374 582 L375 581.9 L376 581.5 L377 580.9 L378 580.3 L379 579.7 L380 579.1 L381 578.5 L382 577.9 L383 577.3 L384 576.6 L385 575.9 L386 575.2 L387 574.7 L388 574.6 L389 574.7 L390 574.8 L391 575 L392 575.2 L393 575.4 L394 575.6 L395 575.6 L396 575 L397 573.2 L398 570.7 L399 568.1 L400 565.6 L401 563.6 L402 562.6 L403 562.4 L404 562.5 L405 562.7 L406 563 L407 563.6 L408 564.6 L409 565.7 L410 566.9 L411 568 L412 568.9 L413 569.7 L414 570.4 L415 571.1 L416 571.3 L417 571.3 L418 571.2 L419 570.9 L420 570.3 L421 568.5 L422 565.6 L423 562.2 L424 558.9 L425 556.7 L426 556.3 L427 557 L428 557.9 L429 558.6 L430 558.9 L431 558.8 L432 558.5 L433 558.2 L434 557.9 L435 557.7 L436 557.6 L437 557.6 L438 557.6 L439 557.6 L440 557.6 L441 557.6 L442 557.6 L443 557.6 L444 557.6 L445 557.7 L446 558 L447 558.4 L448 558.9 L449 559.6 L450 560.7 L451 562.4 L452 564.3 L453 566.3 L454 568.3 L455 570.2 L456 571.9 L457 573.1 L458 573.9 L459 574.6 L460 575.1 L461 575.1 L462 574.3 L463 572.8 L464 571.1 L465 569.5 L466 567.9 L467 566.4 L468 564.9 L469 563.4 L470 561.6 L471 558.1 L472 550.6 L473 539.3 L474 529.6 L475 525.7 L476 525.4 L477 526 L478 526.5 L479 526.3 L480 525.2 L481 523.5 L482 521.7 L483 520.2 L484 519.5 L485 520 L486 521 L487 522.2 L488 523.5 L489 525.2 L490 527.4 L491 529.7 L492 532.1 L493 534.5 L494 536.8 L495 539.1 L496 540.8 L497 540.6 L498 537.9 L499 533.8 L500 529.5 L501 525.3 L502 521.7 L503 518.7 L504 516.4 L505 515.2 L506 515.8 L507 517.4 L508 519.2 L509 520.7 L510 521.5 L511 521.3 L512 520.7 L513 520 L514 519.2 L515 518.5 L516 517.7 L517 516.9 L518 516 L519 515.1 L520 514.3 L521 513.4 L522 512.7 L523 512.4 L524 512.6 L525 513.1 L526 513.6 L527 514.1 L528 514.6 L529 515.1 L530 515.8 L531 517.1 L532 519.1 L533 521.5 L534 524 L535 526.5 L536 528.9 L537 531 L538 532.4 L539 533.4 L540 534.2 L541 534.9 L542 535.6 L543 535.9 L544 534.9 L545 532.3 L546 528.8 L547 525 L548 520.5 L549 514.4 L550 506.6 L551 498.3 L552 490.8 L553 484.7 L554 479.4 L555 474.1 L556 469 L557 465.3 L558 463.7 L559 463.4 L560 463.5 L561 463.5 L562 463.6 L563 463.7 L564 464.1 L565 464.9 L566 466.1 L567 467.5 L568 468.9 L569 470.1 L570 471 L571 471.8 L572 472.4 L573 473.1 L574 473.8 L575 474.5 L576 475.8 L577 478.2 L578 481.6 L579 485.5 L580 489.4 L581 493.2 L582 496.8 L583 500.5 L584 504 L585 507.4 L586 509.8 L587 510.5 L588 509.8 L589 508.7 L590 507.5 L591 506.4 L592 505.3 L593 505 L594 506.3 L595 509.2 L596 512.7 L597 516.4 L598 520 L599 523.3 L600 526.4 L601 529.4 L602 532.3 L603 534.8 L604 536.4 L605 537.4 L606 538.1 L607 538.7 L608 539.4 L609 540 L610 540.1 L611 539.3 L612 537.4 L613 535.1 L614 532.8 L615 531.5 L616 532.2 L617 534.7 L618 538 L619 541.3 L620 543.7 L621 544.6 L622 544.2 L623 543.3 L624 542.3 L625 541.3 L626 540.3 L627 539.4 L628 538.7 L629 538.2 L630 537.8 L631 537.4 L632 537 L633 536.6 L634 536.3 L635 535.9 L636 535.5 L637 535.4 L638 535.7 L639 536.4 L640 537.1 L641 537.9 L642 538.7 L643 539.5 L644 540.2 L645 540.5 L646 540 L647 538.8 L648 537.2 L649 535.6 L650 534 L651 532.4 L652 530.9 L653 529.7 L654 529.2 L655 529.5 L656 530 L657 530.4 L658 529.4 L659 525.6 L660 519.4 L661 512.1 L662 504.7 L663 497.2 L664 489.9 L665 482.9 L666 476.5 L667 470.4 L668 464.4 L669 458.5 L670 452.4 L671 446.3 L672 439.8 L673 433.1 L674 426.3 L675 419.5 L676 412.8 L677 407 L678 403.9 L679 404.4 L680 406.9 L681 409.7 L682 411.8 L683 412.1 L684 410.1 L685 406.9 L686 403.5 L687 400 L688 396.6 L689 393.6 L690 392.6 L691 395.3 L692 400.7 L693 407.1 L694 413.6 L695 420.3 L696 427.4 L697 435 L698 442.9 L699 450.6 L700 457.6 L701 462.6 L702 465.4 L703 467.2 L704 468.7 L705 470.2 L706 471.8 L707 473.6 L708 475.7 L709 477.9 L710 480.1 L711 481.8 L712 481.7 L713 478.7 L714 474.1 L715 469.1 L716 464.1 L717 459.1 L718 454.1 L719 449.6 L720 447.1 L721 447.9 L722 450.8 L723 454 L724 457.4 L725 460.9 L726 464.7 L727 468.7 L728 472.7 L729 476.7 L730 480.7 L731 484.7 L732 488.5 L733 491.7 L734 493.9 L735 495.5 L736 496.8 L737 498.2 L738 499.3 L739 499.3 L740 497.5 L741 494.6 L742 491.4 L743 488.3 L744 485.8 L745 484.2 L746 483.2 L747 482.1 L748 480.2 L749 476.9 L750 472.1 L751 466.7 L752 461.2 L753 455.7 L754 450.3 L755 445.6 L756 442.6 L757 441.7 L758 442 L759 442.5 L760 442.9 L761 442.7 L762 439.4 L763 430.8 L764 420.1 L765 412.3 L766 408.6 L767 406.5 L768 403.1 L769 396.1 L770 385.4 L771 373.6 L772 364.6 L773 360.5 L774 359.5 L775 359.2 L776 359 L777 358.8 L778 358.7 L779 359 L780 359.5 L781 359.8 L782 358.8 L783 356.1 L784 352.6 L785 350.1 L786 350.3 L787 353.4 L788 357.3 L789 359.8 L790 359.2 L791 356.5 L792 353.6 L793 352.4 L794 353.5 L795 355.9 L796 358.7 L797 362.3 L798 367.6 L799 375.1 L800 383.7 L801 392.2 L802 398.6 L803 399.9 L804 395.7 L805 388.7 L806 381.5 L807 375.8 L808 373.1 L809 373.1 L810 374.4 L811 375.5 L812 375.1 L813 371.9 L814 365.7 L815 356 L816 341.7 L817 325.2 L818 310.1 L819 299.3 L820 292.4 L821 287.2 L822 283 L823 280 L824 277.9 L825 276.9 L826 277.7 L827 279.5 L828 281.1 L829 280.3 L830 273.5 L831 258.7 L832 237 L833 208.6 L834 179.6 L835 161.3 L836 154.4 L837 153.2 L838 154.9 L839 158.2 L840 161.5 L841 163 L842 161.2 L843 157.5 L844 153.8 L845 151.2 L846 149.9 L847 150.6 L848 154 L849 160.3 L850 171 L851 184.1 L852 191.4 L853 193.4 L854 196 L855 202.7 L856 213.6 L857 226.5 L858 239.1 L859 250.6 L860 261.1 L861 268.6 L862 267.6 L863 255.2 L864 236.8 L865 218.3 L866 204.7 L867 198.4 L868 196.5 L869 196.3 L870 197.5 L871 199.9 L872 202.8 L873 205.5 L874 206.9 L875 204.4 L876 197.4 L877 188.6 L878 181.4 L879 178 L880 177 L881 176.8 L882 177.1 L883 177.5 L884 177.8 L885 177.7 L886 177.4 L887 177.3 L888 178.2 L889 180.4 L890 183.3 L891 185.9 L892 187.6 L893 188.7 L894 190.2 L895 194.4 L896 202.5 L897 211.6 L898 217.8 L899 220.5 L900 219.4 L901 208.5 L902 182.3 L903 150.5 L904 127.3 L905 117.5 L906 116.3 L907 119.7 L908 125.8 L909 133 L910 140.5 L911 147.8 L912 152.8 L913 152.9 L914 148.4 L915 142.3 L916 137.2 L917 134.7 L918 134.9 L919 137.9 L920 142.1 L920 161.5 L919 160.2 L918 159.9 L917 161.3 L916 164.1 L915 168.2 L914 172.7 L913 175.8 L912 175.7 L911 172.4 L910 167.6 L909 162.4 L908 156 L907 148.7 L906 143.8 L905 145.2 L904 155 L903 173.5 L902 196.6 L901 217 L900 229.5 L899 235.5 L898 236.6 L897 232.9 L896 226.3 L895 219.9 L894 215.6 L893 212.9 L892 210.6 L891 208.1 L890 205.6 L889 203.4 L888 201.8 L887 201 L886 200.6 L885 200.4 L884 200.1 L883 199.7 L882 199.1 L881 198.9 L880 199.8 L879 202.8 L878 208.2 L877 215.8 L876 224.2 L875 230.5 L874 232.2 L873 229.5 L872 225.2 L871 221.5 L870 220 L869 221.3 L868 224.4 L867 228.5 L866 234.8 L865 244.6 L864 256.8 L863 268.8 L862 276.5 L861 276.6 L860 271 L859 263.6 L858 255.5 L857 247 L856 238.4 L855 230.7 L854 225.3 L853 222 L852 218.8 L851 212.1 L850 200.6 L849 188.7 L848 179.9 L847 175.5 L846 175 L845 176.6 L844 178.9 L843 181.7 L842 184 L841 184.5 L840 182.8 L839 180 L838 177.5 L837 176.8 L836 180.3 L835 189.9 L834 207 L833 229.8 L832 252.3 L831 271.4 L830 286.8 L829 296.3 L828 299.4 L827 299 L826 297.7 L825 296.9 L824 297.8 L823 301.6 L822 309 L821 318.5 L820 327.9 L819 336.1 L818 344.4 L817 353.9 L816 364 L815 373 L814 379.8 L813 384.7 L812 388.2 L811 390.2 L810 391.5 L809 392.7 L808 394.5 L807 397.7 L806 402.4 L805 407.6 L804 411.9 L803 413.2 L802 410.6 L801 405.2 L800 398.6 L799 391.9 L798 385.8 L797 380.7 L796 376.6 L795 373.1 L794 370.6 L793 370.1 L792 371.6 L791 374.2 L790 376.7 L789 378.1 L788 378 L787 377.1 L786 376.7 L785 377.5 L784 379.1 L783 380.6 L782 381.4 L781 381.2 L780 380.4 L779 379.5 L778 378.9 L777 379.1 L776 380.7 L775 382.9 L774 385.4 L773 388.2 L772 392.6 L771 399.3 L770 407.1 L769 410.5 L768 416.7 L767 420.4 L766 423.5 L765 427.7 L764 434.9 L763 444 L762 451.2 L761 454.2 L760 454.8 L759 454.9 L758 455 L757 455.2 L756 456.2 L755 458.7 L754 462.4 L753 466.6 L752 471.1 L751 475.8 L750 480.4 L749 484.7 L748 488 L747 490.1 L746 491.8 L745 493.5 L744 495.4 L743 497.9 L742 500.3 L741 502.5 L740 504.4 L739 505.6 L738 505.4 L737 504.4 L736 503.1 L735 501.5 L734 499.8 L733 497.5 L732 494.6 L731 491.1 L730 487.6 L729 484.1 L728 480.6 L727 477.1 L726 473.6 L725 470.2 L724 467 L723 463.9 L722 460.9 L721 458.3 L720 457.5 L719 459.5 L718 463.4 L717 467.7 L716 472 L715 476.3 L714 480.6 L713 484.6 L712 487.5 L711 488.1 L710 486.9 L709 484.6 L708 481.9 L707 479.3 L706 476.8 L705 474.5 L704 472.3 L703 470 L702 467.5 L701 464.4 L700 459.7 L699 453.6 L698 447 L697 440.5 L696 434.2 L695 428.4 L694 422.9 L693 417.5 L692 412.2 L691 407.6 L690 405.1 L689 405.6 L688 408.3 L687 411.6 L686 415.1 L685 418.6 L684 421.8 L683 423.9 L682 423.9 L681 422.2 L680 419.9 L679 417.8 L678 417.5 L677 420.2 L676 425.3 L675 431.2 L674 437.2 L673 443.2 L672 449.1 L671 454.8 L670 460.3 L669 465.7 L668 471.1 L667 476.5 L666 482 L665 487.6 L664 493.7 L663 499.9 L662 506.3 L661 512.6 L660 519.4 L659 525.6 L658 529.4 L657 530.4 L656 530.7 L655 531.3 L654 532.2 L653 533.2 L652 534.6 L651 536 L650 537.5 L649 539 L648 540.5 L647 541.9 L646 543 L645 543.5 L644 543.3 L643 542.8 L642 542.2 L641 541.6 L640 540.9 L639 540.3 L638 540.2 L637 540.2 L636 540.5 L635 540.8 L634 541.2 L633 541.6 L632 541.9 L631 542.3 L630 542.7 L629 543.1 L628 543.5 L627 544 L626 544.7 L625 545.3 L624 546 L623 546.7 L622 547.3 L621 547.7 L620 547.3 L619 546 L618 544.1 L617 542 L616 540.3 L615 539.5 L614 539.8 L613 540.5 L612 541.3 L611 541.7 L610 541.6 L609 541 L608 540.1 L607 539.2 L606 538.3 L605 537.4 L604 536.4 L603 534.9 L602 533.1 L601 530.9 L600 528.6 L599 526.3 L598 523.8 L597 521.1 L596 518.5 L595 515.8 L594 513.6 L593 512.3 L592 512 L591 512.3 L590 512.8 L589 513.2 L588 513.6 L587 513.5 L586 512.3 L585 509.9 L584 506.9 L583 503.8 L582 500.7 L581 497.5 L580 494.3 L579 491.1 L578 488 L577 485.5 L576 483.7 L575 482.5 L574 481.6 L573 480.8 L572 479.9 L571 479.1 L570 478.2 L569 477.2 L568 476.1 L567 474.9 L566 473.7 L565 472.5 L564 471.6 L563 470.9 L562 470.3 L561 469.8 L560 469.4 L559 476.6 L558 476.9 L557 478.1 L556 481.1 L555 485.4 L554 490.2 L553 495.4 L552 501.2 L551 507.9 L550 515.3 L549 522.2 L548 528 L547 532.6 L546 536.3 L545 539.2 L544 541.2 L543 541.9 L542 541.6 L541 540.7 L540 539.6 L539 538.5 L538 537.3 L537 535.7 L536 533.7 L535 531.6 L534 529.3 L533 527.2 L532 525.2 L531 523.6 L530 522.6 L529 522 L528 521.5 L527 521 L526 520.5 L525 520 L524 519.5 L523 519.3 L522 519.4 L521 519.9 L520 520.6 L519 521.3 L518 522 L517 522.7 L516 523.4 L515 524.1 L514 524.7 L513 525.4 L512 526 L511 526.5 L510 526.7 L509 526.2 L508 525.2 L507 524 L506 522.9 L505 522.5 L504 523.5 L503 525.7 L502 528.5 L501 531.9 L500 535.5 L499 539.3 L498 542.9 L497 545.5 L496 546 L495 544.8 L494 542.8 L493 540.7 L492 538.6 L491 536.5 L490 534.5 L489 532.6 L488 531.1 L487 530 L486 529.1 L485 528.3 L484 528 L483 528.7 L482 530.2 L481 532 L480 533.7 L479 535 L478 535.5 L477 535.6 L476 535.8 L475 536.8 L474 540.3 L473 547.3 L472 555.2 L471 560.8 L470 564.1 L469 566.3 L468 568.1 L467 569.5 L466 570.8 L465 572 L464 573.2 L463 574.5 L462 575.6 L461 576.4 L460 576.6 L459 576.4 L458 576.2 L457 575.8 L456 575.1 L455 573.9 L454 572.4 L453 570.7 L452 569.1 L451 567.5 L450 566.1 L449 564.9 L448 564 L447 563.4 L446 563 L445 562.9 L444 562.8 L443 562.9 L442 562.9 L441 562.9 L440 563 L439 563 L438 563 L437 563.1 L436 563.1 L435 563.2 L434 563.3 L433 563.5 L432 563.7 L431 563.9 L430 564 L429 563.9 L428 563.6 L427 563.2 L426 563 L425 563.7 L424 565.5 L423 568 L422 570.6 L421 572.9 L420 574.4 L419 575.3 L418 575.5 L417 575.5 L416 575.3 L415 575 L414 574.5 L413 573.9 L412 573.2 L411 572.6 L410 571.8 L409 571 L408 570.2 L407 569.5 L406 569 L405 568.6 L404 568.4 L403 568.5 L402 569.2 L401 570.6 L400 572.4 L399 574.3 L398 575.9 L397 577.3 L396 578.3 L395 578.7 L394 578.7 L393 578.6 L392 578.6 L391 578.5 L390 578.4 L389 578.3 L388 578.3 L387 578.4 L386 578.8 L385 579.4 L384 580.2 L383 581 L382 581.8 L381 582.5 L380 583.3 L379 584 L378 584.6 L377 585.1 L376 585.5 L375 585.8 L374 585.9 L373 585.9 L372 585.9 L371 586 L370 586.1 L369 586.3 L368 586.6 L367 587.1 L366 587.8 L365 588.4 L364 589.1 L363 589.7 L362 590.3 L361 590.8 L360 591.4 L359 591.8 L358 592.3 L357 592.6 L356 592.6 L355 592.3 L354 591.7 L353 591 L352 590.4 L351 589.8 L350 589.6 L349 589.7 L348 590 L347 590.4 L346 590.8 L345 590.9 L344 590.6 L343 590 L342 589.4 L341 588.7 L340 587.8 L339 586.7 L338 585.2 L337 583.7 L336 582.1 L335 580.6 L334 579.2 L333 578.3 L332 578.5 L331 579.5 L330 580.9 L329 582.3 L328 583.7 L327 585.1 L326 586.5 L325 587.8 L324 588.1 L323 587 L322 584.9 L321 582.9 L320 581.5 L319 580.7 L318 580.3 L317 579.9 L316 579.6 L315 579.3 L314 578.9 L313 578.6 L312 578.3 L311 577.9 L310 577.5 L309 577.1 L308 576.7 L307 576.2 L306 575.7 L305 575.2 L304 574.7 L303 574.2 L302 573.7 L301 573.1 L300 572.4 L299 571.6 L298 570.7 L297 569.9 L296 569.2 L295 568.9 L294 568.9 L293 569 L292 569 L291 569.1 L290 569.2 L289 569.3 L288 569.7 L287 570.2 L286 570.8 L285 571.6 L284 572.6 L283 574 L282 575.7 L281 577.5 L280 579 L279 579.8 L278 579.3 L277 578 L276 576.4 L275 574.7 L274 573.5 L273 573.3 L272 574.5 L271 576.7 L270 578.9 L269 581.3 L268 583.1 L267 584.7 L266 586.7 L265 589.3 L264 592.5 L263 596.3 L262 600.2 L261 603.1 L260 604.7 L259 605.2 L258 605.2 L257 602.5 L256 602.2 L255 601.9 L254 601.6 L253 601.4 L252 601.2 L251 600.9 L250 600.6 L249 600.1 L248 599.3 L247 598.2 L246 597 L245 595.9 L244 594.9 L243 594.3 L242 594 L241 593.8 L240 593.6 L239 593.3 L238 592.9 L237 592.3 L236 591.6 L235 590.8 L234 590.1 L233 589.4 L232 588.8 L231 588.7 L230 589.1 L229 589.8 L228 590.6 L227 591.3 L226 592 L225 592.7 L224 593.4 L223 594 L222 594.5 L221 595 L220 595.5 L219 596.3 L218 597.4 L217 598.7 L216 600.1 L215 601.5 L214 602.8 L213 604.1 L212 604.7 L211 604.5 L210 603.6 L209 602.6 L208 601.7 L207 600.7 L206 600.1 L205 599.8 L204 599.9 L203 600 L202 600.1 L201 599.9 L200 599.4 L199 598.8 L198 598.1 L197 597.6 L196 597.8 L195 598.8 L194 600.4 L193 602 L192 603.6 L191 604.8 L190 605.2 L189 605.1 L188 604.9 L187 604.9 L186 605.1 L185 605.5 L184 605.8 L183 606.3 L182 606.8 L181 607.6 L180 608.6 L179 609.6 L178 610.6 L177 611.6 L176 612.5 L175 613 L174 612.7 L173 612 L172 611.3 L171 610.5 L170 609.7 L169 608.9 L168 608.2 L167 607.3 L166 606.3 L165 605.3 L164 604.3 L163 603.4 L162 602.8 L161 603 L160 603.7 L159 604.6 L158 605.4 L157 606.1 L156 606.4 L155 606.6 L154 606.7 L153 606.9 L152 607.5 L151 608.3 L150 609.2 L149 610 L148 610.9 L147 611.7 L146 612.4 L145 612.8 L144 613 L143 613.2 L142 613.3 L141 613.4 L140 613.2 L139 612.9 L138 612.5 L137 612.3 L136 612.5 L135 613.2 L134 614.2 L133 615.2 L132 616.1 L131 617.1 L130 618.1 L129 619.1 L128 620.1 L127 621.1 L126 622.1 L125 622.7 L124 622.7 L123 622.4 L122 622.1 L121 621.8 L120 621.6 L119 621.6 L118 621.7 L117 621.8Z" fill="#ef9a3c"/>
<clipPath id="c20"><rect x="462" y="0" width="600" height="740"/></clipPath>
<clipPath id="c21"><rect x="549" y="0" width="600" height="740"/></clipPath>
<clipPath id="c19"><rect x="0" y="0" width="462" height="740"/></clipPath>
<path d="M117 621.8 L118 621.7 L119 621.6 L120 621.6 L121 621.8 L122 622.1 L123 622.4 L124 622.7 L125 622.7 L126 622.1 L127 621.1 L128 620.1 L129 619.1 L130 618.1 L131 617.1 L132 616.1 L133 615.2 L134 614.2 L135 613.2 L136 612.5 L137 612.3 L138 612.5 L139 612.9 L140 613.2 L141 613.4 L142 613.3 L143 613.2 L144 613 L145 612.8 L146 612.4 L147 611.7 L148 610.9 L149 610 L150 609.2 L151 608.3 L152 607.5 L153 606.9 L154 606.7 L155 606.6 L156 606.4 L157 606.1 L158 605.4 L159 604.6 L160 603.7 L161 603 L162 602.8 L163 603.4 L164 604.3 L165 605.3 L166 606.3 L167 607.3 L168 608.2 L169 608.9 L170 609.7 L171 610.5 L172 611.3 L173 612 L174 612.7 L175 613 L176 612.5 L177 611.6 L178 610.6 L179 609.6 L180 608.6 L181 607.6 L182 606.8 L183 606.3 L184 605.8 L185 605.5 L186 605.1 L187 604.9 L188 604.9 L189 605.1 L190 605.2 L191 604.8 L192 603.6 L193 602 L194 600.4 L195 598.8 L196 597.8 L197 597.6 L198 598.1 L199 598.8 L200 599.4 L201 599.9 L202 600.1 L203 600 L204 599.9 L205 599.8 L206 600.1 L207 600.7 L208 601.7 L209 602.6 L210 603.6 L211 604.5 L212 604.7 L213 604.1 L214 602.8 L215 601.5 L216 600.1 L217 598.7 L218 597.4 L219 596.3 L220 595.5 L221 595 L222 594.5 L223 594 L224 593.4 L225 592.7 L226 592 L227 591.3 L228 590.6 L229 589.8 L230 589.1 L231 588.7 L232 588.8 L233 589.4 L234 590.1 L235 590.8 L236 591.6 L237 592.3 L238 592.9 L239 593.3 L240 593.6 L241 593.8 L242 594 L243 594.3 L244 594.9 L245 595.9 L246 597 L247 598.2 L248 599.3 L249 600.1 L250 600.6 L251 600.9 L252 601.2 L253 601.4 L254 601.6 L255 601.9 L256 602.2 L257 602.6 L258 605.5 L259 605.6 L260 605.3 L261 604.1 L262 602.1 L263 599.8 L264 597.2 L265 594.6 L266 592.2 L267 590.4 L268 589.3 L269 588.5 L270 587.8 L271 587 L272 586.3 L273 586 L274 586.1 L275 586.5 L276 587 L277 587.5 L278 588 L279 588.2 L280 587.9 L281 587.1 L282 586 L283 584.9 L284 583.8 L285 582.7 L286 581.6 L287 580.6 L288 579.8 L289 579.4 L290 579.4 L291 579.5 L292 579.8 L293 580 L294 580.2 L295 580.4 L296 580.6 L297 580.9 L298 581.3 L299 581.7 L300 582.1 L301 582.5 L302 582.9 L303 583.3 L304 583.7 L305 584 L306 584.4 L307 584.8 L308 585.2 L309 585.5 L310 585.8 L311 586 L312 586.3 L313 586.5 L314 586.8 L315 587 L316 587.2 L317 587.5 L318 587.7 L319 588 L320 588.7 L321 590 L322 591.9 L323 593.8 L324 595 L325 594.8 L326 593.8 L327 592.6 L328 591.4 L329 590.2 L330 589 L331 587.8 L332 587 L333 586.9 L334 587.7 L335 589.1 L336 590.6 L337 592.1 L338 593.5 L339 594.8 L340 595.7 L341 596 L342 596 L343 596 L344 595.9 L345 595.8 L346 595.7 L347 595.7 L348 595.6 L349 595.5 L350 595.5 L351 595.7 L352 596 L353 596.4 L354 596.8 L355 597.1 L356 597.5 L357 597.7 L358 597.5 L359 597.1 L360 596.7 L361 596.2 L362 595.7 L363 595.2 L364 594.7 L365 594.2 L366 593.7 L367 593.2 L368 592.7 L369 592.2 L370 591.7 L371 591.3 L372 591 L373 590.8 L374 590.6 L375 590.5 L376 590.3 L377 590.2 L378 589.9 L379 589.3 L380 588.4 L381 587.4 L382 586.5 L383 585.5 L384 584.5 L385 583.7 L386 583.2 L387 582.9 L388 582.9 L389 582.8 L390 582.7 L391 582.7 L392 582.6 L393 582.6 L394 582.5 L395 582.5 L396 582.4 L397 582.3 L398 582.2 L399 581.8 L400 580.8 L401 579.1 L402 577.3 L403 576.1 L404 575.7 L405 576 L406 576.3 L407 576.7 L408 577.1 L409 577.4 L410 577.8 L411 578.2 L412 578.6 L413 579 L414 579.4 L415 579.8 L416 580.2 L417 580.5 L418 580.8 L419 580.5 L420 579.5 L421 578.1 L422 576.6 L423 575.2 L424 573.7 L425 572.3 L426 571.3 L427 570.8 L428 570.6 L429 570.5 L430 570.4 L431 570.3 L432 570.2 L433 570.1 L434 570 L435 569.9 L436 569.8 L437 569.7 L438 569.7 L439 569.6 L440 569.5 L441 569.4 L442 569.4 L443 569.3 L444 569.2 L445 569.2 L446 569.2 L447 569.5 L448 570.3 L449 571.4 L450 572.6 L451 573.8 L452 575 L453 576.2 L454 577.3 L455 578.4 L456 579 L457 579.1 L458 579 L459 578.7 L460 578.4 L461 577.9 L462 577.3 L463 576.6 L464 575.9 L465 575.3 L466 574.6 L467 573.8 L468 572.5 L469 570.3 L470 567.6 L471 564.8 L472 561.9 L473 559.1 L474 556.3 L475 553.7 L476 551.8 L477 550.6 L478 549.8 L479 548.9 L480 547.6 L481 545.9 L482 544.1 L483 542.6 L484 541.9 L485 542.1 L486 542.5 L487 543 L488 543.7 L489 544.8 L490 546.3 L491 547.9 L492 549.6 L493 551.2 L494 552.9 L495 554.4 L496 554.9 L497 553.8 L498 551.4 L499 548.6 L500 545.8 L501 542.9 L502 540.1 L503 537.5 L504 535.7 L505 535.1 L506 535.1 L507 535.3 L508 535.5 L509 535.7 L510 535.8 L511 535.6 L512 535.2 L513 534.8 L514 534.4 L515 533.9 L516 533.5 L517 533.1 L518 532.6 L519 532.2 L520 531.7 L521 531.4 L522 531.3 L523 531.5 L524 531.9 L525 532.4 L526 532.9 L527 533.4 L528 533.9 L529 534.4 L530 534.9 L531 535.5 L532 536.3 L533 537.6 L534 539.2 L535 540.9 L536 542.7 L537 544.5 L538 546.2 L539 548 L540 549.8 L541 551.4 L542 552.7 L543 553.2 L544 552.8 L545 552 L546 550.3 L547 546.9 L548 542.2 L549 536.9 L550 531.6 L551 526.3 L552 520.9 L553 515.7 L554 510.8 L555 507 L556 504.5 L557 502.9 L558 502.3 L559 502.2 L560 502.2 L561 502.2 L562 502.2 L563 502.2 L564 502.4 L565 502.7 L566 503.3 L567 503.9 L568 504.5 L569 505.2 L570 505.8 L571 506.5 L572 507.3 L573 508.2 L574 509.3 L575 510.4 L576 511.7 L577 513.4 L578 515.5 L579 517.7 L580 520 L581 522.3 L582 524.6 L583 526.8 L584 529 L585 530.7 L586 531.7 L587 532.2 L588 532.5 L589 532.4 L590 531.7 L591 530.7 L592 529.6 L593 528.6 L594 528.4 L595 529.7 L596 532.1 L597 534.8 L598 537.7 L599 540.8 L600 544.1 L601 547.6 L602 551 L603 553.9 L604 555.7 L605 556.7 L606 557.4 L607 558 L608 558.7 L609 559.2 L610 559.6 L611 559.5 L612 558.8 L613 557.9 L614 557.1 L615 557.3 L616 559 L617 561.8 L618 564.6 L619 567.1 L620 568.6 L621 569.1 L622 569.2 L623 569.2 L624 569.2 L625 569 L626 568.4 L627 567.6 L628 566.7 L629 565.8 L630 565.2 L631 565 L632 565 L633 565.1 L634 565.2 L635 565.3 L636 565.4 L637 565.5 L638 565.6 L639 565.8 L640 566.1 L641 566.4 L642 566.7 L643 567 L644 567.4 L645 567.7 L646 568 L647 568.3 L648 568.4 L649 567.8 L650 566.6 L651 565 L652 563.4 L653 562.2 L654 561.9 L655 562.4 L656 563.3 L657 564.1 L658 564 L659 562.3 L660 558.9 L661 554.9 L662 550.7 L663 546.6 L664 542.4 L665 538.2 L666 534.1 L667 529.9 L668 525.8 L669 521.8 L670 518 L671 514.6 L672 511.3 L673 508.1 L674 504.9 L675 501.7 L676 498.6 L677 496 L678 495 L679 496.2 L680 498.6 L681 501.1 L682 503.1 L683 503.7 L684 502.6 L685 500.5 L686 498.3 L687 496.1 L688 494.1 L689 493.1 L690 494.1 L691 496.6 L692 499.5 L693 502.5 L694 505.5 L695 508.5 L696 511.5 L697 514.4 L698 517.2 L699 519.9 L700 522.6 L701 525.3 L702 528 L703 530.7 L704 533.4 L705 536 L706 538.6 L707 540.7 L708 541.9 L709 542.7 L710 543.3 L711 543.7 L712 543.4 L713 542 L714 540 L715 537.8 L716 535.6 L717 533.4 L718 531.2 L719 529.2 L720 528.2 L721 528.7 L722 530.1 L723 531.7 L724 533.3 L725 534.9 L726 536.5 L727 538.2 L728 539.8 L729 541.4 L730 543 L731 544.7 L732 546.3 L733 547.9 L734 549.6 L735 551.4 L736 553.1 L737 554.8 L738 556.5 L739 557.7 L740 558.1 L741 557.5 L742 556.6 L743 555.5 L744 554.5 L745 553.5 L746 552.4 L747 551.3 L748 549.7 L749 547.4 L750 544.3 L751 540.9 L752 537.5 L753 534.2 L754 531.8 L755 531 L756 531.6 L757 532.6 L758 533.8 L759 534.8 L760 535.5 L761 534.8 L762 532.4 L763 529.1 L764 525.5 L765 522.1 L766 519.3 L767 517.8 L768 517.2 L769 516.7 L770 515.5 L771 512.6 L772 508.1 L773 503.3 L774 500.2 L775 499.4 L776 499.9 L777 500.7 L778 501.5 L779 502.8 L780 504.8 L781 507 L782 508.3 L783 507.5 L784 504.7 L785 502 L786 501.5 L787 503.6 L788 506.8 L789 508.5 L790 507.6 L791 505.2 L792 502.7 L793 501.2 L794 501.3 L795 502.8 L796 504.7 L797 506.8 L798 509.1 L799 511.8 L800 514.6 L801 517.4 L802 519.9 L803 521.5 L804 521.3 L805 520 L806 517.4 L807 513.2 L808 508.7 L809 506.2 L810 505.6 L811 505.9 L812 506.1 L813 505.5 L814 504.1 L815 501.6 L816 496.5 L817 487.7 L818 478.2 L819 471.4 L820 467.5 L821 465.5 L822 464.8 L823 464.6 L824 464.6 L825 465.2 L826 466.9 L827 469.2 L828 471.4 L829 472.9 L830 472.2 L831 468.9 L832 463.7 L833 455.7 L834 443.2 L835 429.5 L836 421.8 L837 421.4 L838 424 L839 426.4 L840 427.3 L841 427 L842 426.3 L843 425.6 L844 424.8 L845 424.2 L846 424.3 L847 426.5 L848 431.7 L849 438.2 L850 443.7 L851 446.2 L852 445.9 L853 444.4 L854 443.6 L855 444.5 L856 446.8 L857 449.7 L858 452.7 L859 455.6 L860 458.6 L861 461 L862 461.6 L863 459.5 L864 456 L865 452.2 L866 448.9 L867 446.1 L868 443.6 L869 441.2 L870 439.1 L871 437.4 L872 436 L873 434.8 L874 433.7 L875 432.6 L876 431.5 L877 430.5 L878 429.7 L879 429 L880 428.3 L881 427.6 L882 427 L883 426.3 L884 425.7 L885 425.1 L886 424.5 L887 424 L888 423.9 L889 423.9 L890 424.1 L891 424.2 L892 424.5 L893 425.4 L894 427.2 L895 429.7 L896 432.3 L897 434.8 L898 436.3 L899 434.8 L900 429.5 L901 422 L902 414.3 L903 407.9 L904 404.5 L905 404 L906 405 L907 406.2 L908 407.5 L909 408.9 L910 410.4 L911 412 L912 413.3 L913 413.6 L914 412.1 L915 409.7 L916 407 L917 404.4 L918 401.9 L919 399.8 L920 398.6" fill="none" stroke="#1f66a0" stroke-width="4.2" stroke-linejoin="round" stroke-linecap="round"/>
<path d="M117 621.8 L118 621.7 L119 621.6 L120 621.6 L121 621.8 L122 622.1 L123 622.4 L124 622.7 L125 622.7 L126 622.1 L127 621.1 L128 620.1 L129 619.1 L130 618.1 L131 617.1 L132 616.1 L133 615.2 L134 614.2 L135 613.2 L136 612.5 L137 612.3 L138 612.5 L139 612.9 L140 613.2 L141 613.4 L142 613.3 L143 613.2 L144 613 L145 612.8 L146 612.4 L147 611.7 L148 610.9 L149 610 L150 609.2 L151 608.3 L152 607.5 L153 606.9 L154 606.7 L155 606.6 L156 606.4 L157 606.1 L158 605.4 L159 604.6 L160 603.7 L161 603 L162 602.8 L163 603.4 L164 604.3 L165 605.3 L166 606.3 L167 607.3 L168 608.2 L169 608.9 L170 609.7 L171 610.5 L172 611.3 L173 612 L174 612.7 L175 613 L176 612.5 L177 611.6 L178 610.6 L179 609.6 L180 608.6 L181 607.6 L182 606.8 L183 606.3 L184 605.8 L185 605.5 L186 605.1 L187 604.9 L188 604.9 L189 605.1 L190 605.2 L191 604.8 L192 603.6 L193 602 L194 600.4 L195 598.8 L196 597.8 L197 597.6 L198 598.1 L199 598.8 L200 599.4 L201 599.9 L202 600.1 L203 600 L204 599.9 L205 599.8 L206 600.1 L207 600.7 L208 601.7 L209 602.6 L210 603.6 L211 604.5 L212 604.7 L213 604.1 L214 602.8 L215 601.5 L216 600.1 L217 598.7 L218 597.4 L219 596.3 L220 595.5 L221 595 L222 594.5 L223 594 L224 593.4 L225 592.7 L226 592 L227 591.3 L228 590.6 L229 589.8 L230 589.1 L231 588.7 L232 588.8 L233 589.4 L234 590.1 L235 590.8 L236 591.6 L237 592.3 L238 592.9 L239 593.3 L240 593.6 L241 593.8 L242 594 L243 594.3 L244 594.9 L245 595.9 L246 597 L247 598.2 L248 599.3 L249 600.1 L250 600.6 L251 600.9 L252 601.2 L253 601.4 L254 601.6 L255 601.9 L256 602.2 L257 602.5 L258 605.4 L259 605.5 L260 605.1 L261 603.8 L262 601.7 L263 599 L264 596.1 L265 593.3 L266 590.9 L267 589.1 L268 587.8 L269 586.8 L270 585.6 L271 584.5 L272 583.5 L273 582.9 L274 583 L275 583.7 L276 584.4 L277 585.2 L278 585.9 L279 586.1 L280 585.7 L281 584.7 L282 583.5 L283 582.3 L284 581.1 L285 580 L286 579 L287 578 L288 577.2 L289 576.9 L290 576.8 L291 576.9 L292 577.1 L293 577.2 L294 577.3 L295 577.5 L296 577.8 L297 578.1 L298 578.6 L299 579.1 L300 579.6 L301 580.1 L302 580.5 L303 580.9 L304 581.4 L305 581.8 L306 582.2 L307 582.6 L308 583 L309 583.4 L310 583.7 L311 584 L312 584.2 L313 584.5 L314 584.8 L315 585 L316 585.3 L317 585.6 L318 585.8 L319 586.2 L320 586.8 L321 588.2 L322 590.1 L323 592 L324 593.2 L325 593 L326 591.9 L327 590.7 L328 589.4 L329 588.1 L330 586.9 L331 585.7 L332 584.8 L333 584.7 L334 585.5 L335 586.9 L336 588.4 L337 589.9 L338 591.4 L339 592.7 L340 593.7 L341 594.1 L342 594.3 L343 594.4 L344 594.5 L345 594.5 L346 594.4 L347 594.3 L348 594.1 L349 594 L350 594 L351 594.2 L352 594.6 L353 595 L354 595.5 L355 595.9 L356 596.2 L357 596.3 L358 596.2 L359 595.8 L360 595.3 L361 594.8 L362 594.3 L363 593.8 L364 593.2 L365 592.7 L366 592.1 L367 591.6 L368 591.1 L369 590.7 L370 590.3 L371 589.9 L372 589.7 L373 589.5 L374 589.4 L375 589.2 L376 589.1 L377 588.8 L378 588.5 L379 587.9 L380 587.1 L381 586.1 L382 585.2 L383 584.3 L384 583.4 L385 582.6 L386 582 L387 581.8 L388 581.7 L389 581.6 L390 581.6 L391 581.6 L392 581.5 L393 581.5 L394 581.5 L395 581.5 L396 581.3 L397 581 L398 580.5 L399 579.8 L400 578.6 L401 576.9 L402 575.2 L403 574.1 L404 573.8 L405 574 L406 574.4 L407 574.8 L408 575.2 L409 575.7 L410 576.2 L411 576.7 L412 577.2 L413 577.6 L414 578.1 L415 578.5 L416 578.9 L417 579.2 L418 579.4 L419 579.1 L420 578.2 L421 576.7 L422 575 L423 573.2 L424 571.5 L425 570 L426 569 L427 568.7 L428 568.7 L429 568.7 L430 568.7 L431 568.6 L432 568.4 L433 568.3 L434 568.2 L435 568.1 L436 568 L437 567.9 L438 567.9 L439 567.8 L440 567.7 L441 567.7 L442 567.6 L443 567.6 L444 567.5 L445 567.5 L446 567.5 L447 567.8 L448 568.6 L449 569.6 L450 570.8 L451 572.1 L452 573.4 L453 574.7 L454 576 L455 577.2 L456 577.9 L457 578.2 L458 578.2 L459 578.1 L460 577.9 L461 577.5 L462 576.8 L463 576 L464 575.2 L465 574.3 L466 573.5 L467 572.5 L468 571.2 L469 569.1 L470 566.5 L471 563.5 L472 559.7 L473 555.2 L474 551 L475 548 L476 546.4 L477 545.5 L478 544.9 L479 544 L480 542.7 L481 541 L482 539.1 L483 537.6 L484 537 L485 537.2 L486 537.7 L487 538.4 L488 539.2 L489 540.4 L490 542 L491 543.8 L492 545.6 L493 547.5 L494 549.3 L495 550.9 L496 551.7 L497 550.8 L498 548.3 L499 545.3 L500 542.1 L501 539 L502 536 L503 533.3 L504 531.3 L505 530.6 L506 530.7 L507 531.2 L508 531.8 L509 532.3 L510 532.5 L511 532.3 L512 531.9 L513 531.4 L514 530.9 L515 530.4 L516 529.8 L517 529.3 L518 528.8 L519 528.2 L520 527.7 L521 527.2 L522 526.9 L523 527 L524 527.4 L525 527.9 L526 528.4 L527 528.9 L528 529.4 L529 529.9 L530 530.4 L531 531.1 L532 532.2 L533 533.7 L534 535.6 L535 537.5 L536 539.4 L537 541.2 L538 542.9 L539 544.5 L540 546 L541 547.4 L542 548.5 L543 548.8 L544 548.3 L545 546.9 L546 544.6 L547 541.1 L548 536.3 L549 530.7 L550 524.6 L551 518.3 L552 512.2 L553 506.6 L554 501.5 L555 497.1 L556 493.7 L557 491.3 L558 490.3 L559 490 L560 481.3 L561 481.6 L562 481.9 L563 482.3 L564 482.7 L565 483.3 L566 484.1 L567 484.9 L568 485.7 L569 486.5 L570 487.3 L571 488.1 L572 488.9 L573 489.7 L574 490.5 L575 491.3 L576 492.4 L577 494.1 L578 496.2 L579 498.5 L580 501 L581 503.4 L582 505.8 L583 508.2 L584 510.6 L585 513.1 L586 515.5 L587 517.8 L588 520 L589 521.5 L590 522.2 L591 522.5 L592 522.7 L593 523 L594 523.6 L595 524.9 L596 526.8 L597 528.7 L598 530.8 L599 532.8 L600 534.8 L601 536.7 L602 538.5 L603 540.2 L604 541.8 L605 543.4 L606 545 L607 546.6 L608 548.1 L609 549.1 L610 549.6 L611 549.5 L612 549.3 L613 549.1 L614 548.9 L615 548.8 L616 548.9 L617 549.5 L618 550.7 L619 552.1 L620 553.6 L621 555 L622 556 L623 556.3 L624 555.8 L625 554.9 L626 554 L627 553 L628 552.1 L629 551.1 L630 550.2 L631 549.3 L632 548.6 L633 548.3 L634 548.3 L635 548.5 L636 548.8 L637 549 L638 549.3 L639 549.5 L640 549.8 L641 550 L642 550.3 L643 550.5 L644 550.7 L645 550.6 L646 550.1 L647 549.1 L648 548 L649 546.8 L650 545.6 L651 544.4 L652 543.1 L653 541.5 L654 539 L655 535.8 L656 532.1 L657 530.4 L658 529.4 L659 525.6 L660 519.4 L661 513.6 L662 509.9 L663 506.2 L664 502.5 L665 498.7 L666 494.8 L667 490.7 L668 486.7 L669 482.7 L670 478.7 L671 474.7 L672 470.6 L673 466.6 L674 462.6 L675 458.6 L676 454.6 L677 451.2 L678 449.2 L679 449.2 L680 450.2 L681 451.4 L682 452.1 L683 451.4 L684 449 L685 445.8 L686 442.3 L687 438.8 L688 435.6 L689 433.7 L690 434.1 L691 436.2 L692 439 L693 441.7 L694 444.6 L695 447.4 L696 450.2 L697 453.3 L698 456.8 L699 460.6 L700 464.6 L701 468.6 L702 472.6 L703 476.6 L704 480.5 L705 484.5 L706 488.5 L707 492.5 L708 496.5 L709 500.2 L710 502.7 L711 502.8 L712 501 L713 498.5 L714 495.8 L715 493.1 L716 490.4 L717 487.7 L718 485.1 L719 482.7 L720 481.6 L721 482.4 L722 484.5 L723 486.9 L724 489.3 L725 491.7 L726 494.1 L727 496.6 L728 499 L729 501.4 L730 503.8 L731 506.2 L732 508.6 L733 511 L734 513.4 L735 515.7 L736 517.6 L737 518.9 L738 519.6 L739 520.1 L740 520.6 L741 521 L742 521 L743 520 L744 517.8 L745 515 L746 512 L747 509 L748 505.9 L749 502.9 L750 499.9 L751 497 L752 494.3 L753 492.2 L754 490.6 L755 489.3 L756 487.9 L757 486.6 L758 485.3 L759 483.9 L760 482.6 L761 481.1 L762 478.6 L763 474.6 L764 469.4 L765 463.8 L766 458.2 L767 453 L768 448.2 L769 444 L770 440 L771 436 L772 432 L773 427.9 L774 423.9 L775 420 L776 416.4 L777 414.8 L778 416.4 L779 419.9 L780 423.9 L781 427.8 L782 431.5 L783 433.7 L784 433.5 L785 431.8 L786 429.5 L787 427.3 L788 425 L789 422.7 L790 420.5 L791 419.1 L792 419.5 L793 421.9 L794 425.2 L795 428.7 L796 432.3 L797 435.8 L798 439.3 L799 442.9 L800 446.4 L801 449.8 L802 452.3 L803 452.7 L804 450.9 L805 448 L806 444.9 L807 441.8 L808 438.6 L809 435.5 L810 432.3 L811 429.2 L812 426 L813 422.7 L814 419.5 L815 416.2 L816 412.9 L817 409.7 L818 406.4 L819 403.2 L820 399.8 L821 396.3 L822 392.4 L823 388.5 L824 384.5 L825 380.5 L826 376.4 L827 372.4 L828 368.4 L829 363.9 L830 357.3 L831 346.1 L832 330.3 L833 312.4 L834 294.1 L835 276.6 L836 262.8 L837 256 L838 255.1 L839 256.3 L840 257.9 L841 259.4 L842 259.7 L843 258.4 L844 256 L845 253.4 L846 251.1 L847 250.6 L848 255 L849 265.3 L850 278.4 L851 290.4 L852 298.8 L853 303.4 L854 306.4 L855 309 L856 311.9 L857 315.2 L858 318.9 L859 322.7 L860 326.4 L861 329.9 L862 331.6 L863 329.7 L864 324.1 L865 316.8 L866 309.2 L867 302 L868 296.7 L869 295.7 L870 299 L871 304.2 L872 309.6 L873 313.7 L874 314.8 L875 312.4 L876 308.3 L877 303.9 L878 299.4 L879 295 L880 290.7 L881 287 L882 284.9 L883 284.9 L884 285.8 L885 287.1 L886 288.3 L887 289.6 L888 291 L889 292.5 L890 294.1 L891 295.7 L892 297.4 L893 299.9 L894 303.5 L895 307.8 L896 312.4 L897 316.6 L898 318.6 L899 316 L900 308.8 L901 299.5 L902 289.9 L903 281 L904 273.1 L905 265.8 L906 258.7 L907 252.2 L908 248.3 L909 249.2 L910 253.5 L911 259 L912 264.5 L913 269 L914 270.4 L915 267.7 L916 262.6 L917 257 L918 251.6 L919 247 L920 244.2" fill="none" stroke="#3aa6aa" stroke-width="4.2" stroke-linejoin="round" stroke-linecap="round" clip-path="url(#c20)"/>
<path d="M117 621.8 L118 621.7 L119 621.6 L120 621.6 L121 621.8 L122 622.1 L123 622.4 L124 622.7 L125 622.7 L126 622.1 L127 621.1 L128 620.1 L129 619.1 L130 618.1 L131 617.1 L132 616.1 L133 615.2 L134 614.2 L135 613.2 L136 612.5 L137 612.3 L138 612.5 L139 612.9 L140 613.2 L141 613.4 L142 613.3 L143 613.2 L144 613 L145 612.8 L146 612.4 L147 611.7 L148 610.9 L149 610 L150 609.2 L151 608.3 L152 607.5 L153 606.9 L154 606.7 L155 606.6 L156 606.4 L157 606.1 L158 605.4 L159 604.6 L160 603.7 L161 603 L162 602.8 L163 603.4 L164 604.3 L165 605.3 L166 606.3 L167 607.3 L168 608.2 L169 608.9 L170 609.7 L171 610.5 L172 611.3 L173 612 L174 612.7 L175 613 L176 612.5 L177 611.6 L178 610.6 L179 609.6 L180 608.6 L181 607.6 L182 606.8 L183 606.3 L184 605.8 L185 605.5 L186 605.1 L187 604.9 L188 604.9 L189 605.1 L190 605.2 L191 604.8 L192 603.6 L193 602 L194 600.4 L195 598.8 L196 597.8 L197 597.6 L198 598.1 L199 598.8 L200 599.4 L201 599.9 L202 600.1 L203 600 L204 599.9 L205 599.8 L206 600.1 L207 600.7 L208 601.7 L209 602.6 L210 603.6 L211 604.5 L212 604.7 L213 604.1 L214 602.8 L215 601.5 L216 600.1 L217 598.7 L218 597.4 L219 596.3 L220 595.5 L221 595 L222 594.5 L223 594 L224 593.4 L225 592.7 L226 592 L227 591.3 L228 590.6 L229 589.8 L230 589.1 L231 588.7 L232 588.8 L233 589.4 L234 590.1 L235 590.8 L236 591.6 L237 592.3 L238 592.9 L239 593.3 L240 593.6 L241 593.8 L242 594 L243 594.3 L244 594.9 L245 595.9 L246 597 L247 598.2 L248 599.3 L249 600.1 L250 600.6 L251 600.9 L252 601.2 L253 601.4 L254 601.6 L255 601.9 L256 602.2 L257 602.5 L258 605.4 L259 605.5 L260 605.1 L261 603.8 L262 601.7 L263 599 L264 596.1 L265 593.3 L266 590.9 L267 589.1 L268 587.8 L269 586.8 L270 585.6 L271 584.5 L272 583.5 L273 582.9 L274 583 L275 583.7 L276 584.4 L277 585.2 L278 585.9 L279 586.1 L280 585.7 L281 584.7 L282 583.5 L283 582.3 L284 581.1 L285 580 L286 579 L287 578 L288 577.2 L289 576.9 L290 576.8 L291 576.9 L292 577.1 L293 577.2 L294 577.3 L295 577.5 L296 577.8 L297 578.1 L298 578.6 L299 579.1 L300 579.6 L301 580.1 L302 580.5 L303 580.9 L304 581.4 L305 581.8 L306 582.2 L307 582.6 L308 583 L309 583.4 L310 583.7 L311 584 L312 584.2 L313 584.5 L314 584.8 L315 585 L316 585.3 L317 585.6 L318 585.8 L319 586.2 L320 586.8 L321 588.2 L322 590.1 L323 592 L324 593.2 L325 593 L326 591.9 L327 590.7 L328 589.4 L329 588.1 L330 586.9 L331 585.7 L332 584.8 L333 584.7 L334 585.5 L335 586.9 L336 588.4 L337 589.9 L338 591.4 L339 592.7 L340 593.7 L341 594.1 L342 594.3 L343 594.4 L344 594.5 L345 594.5 L346 594.4 L347 594.3 L348 594.1 L349 594 L350 594 L351 594.2 L352 594.6 L353 595 L354 595.5 L355 595.9 L356 596.2 L357 596.3 L358 596.2 L359 595.8 L360 595.3 L361 594.8 L362 594.3 L363 593.8 L364 593.2 L365 592.7 L366 592.1 L367 591.6 L368 591.1 L369 590.7 L370 590.3 L371 589.9 L372 589.7 L373 589.5 L374 589.4 L375 589.2 L376 589.1 L377 588.8 L378 588.5 L379 587.9 L380 587.1 L381 586.1 L382 585.2 L383 584.3 L384 583.4 L385 582.6 L386 582 L387 581.8 L388 581.7 L389 581.6 L390 581.6 L391 581.6 L392 581.5 L393 581.5 L394 581.5 L395 581.5 L396 581.3 L397 581 L398 580.5 L399 579.8 L400 578.6 L401 576.9 L402 575.2 L403 574.1 L404 573.8 L405 574 L406 574.4 L407 574.8 L408 575.2 L409 575.7 L410 576.2 L411 576.7 L412 577.2 L413 577.6 L414 578.1 L415 578.5 L416 578.9 L417 579.2 L418 579.4 L419 579.1 L420 578.2 L421 576.7 L422 575 L423 573.2 L424 571.5 L425 570 L426 569 L427 568.7 L428 568.7 L429 568.7 L430 568.7 L431 568.6 L432 568.4 L433 568.3 L434 568.2 L435 568.1 L436 568 L437 567.9 L438 567.9 L439 567.8 L440 567.7 L441 567.7 L442 567.6 L443 567.6 L444 567.5 L445 567.5 L446 567.5 L447 567.8 L448 568.6 L449 569.6 L450 570.8 L451 572.1 L452 573.4 L453 574.7 L454 576 L455 577.2 L456 577.9 L457 578.2 L458 578.2 L459 578.1 L460 577.9 L461 577.5 L462 576.8 L463 576 L464 575.2 L465 574.3 L466 573.5 L467 572.5 L468 571.2 L469 569.1 L470 566.5 L471 563.5 L472 559.7 L473 555.2 L474 551 L475 548 L476 546.4 L477 545.5 L478 544.9 L479 544 L480 542.7 L481 541 L482 539.1 L483 537.6 L484 537 L485 537.2 L486 537.7 L487 538.4 L488 539.2 L489 540.4 L490 542 L491 543.8 L492 545.6 L493 547.5 L494 549.3 L495 550.9 L496 551.7 L497 550.8 L498 548.3 L499 545.3 L500 542.1 L501 539 L502 536 L503 533.3 L504 531.3 L505 530.6 L506 530.7 L507 531.2 L508 531.8 L509 532.3 L510 532.5 L511 532.3 L512 531.9 L513 531.4 L514 530.9 L515 530.4 L516 529.8 L517 529.3 L518 528.8 L519 528.2 L520 527.7 L521 527.2 L522 526.9 L523 527 L524 527.4 L525 527.9 L526 528.4 L527 528.9 L528 529.4 L529 529.9 L530 530.4 L531 531.1 L532 532.2 L533 533.7 L534 535.6 L535 537.5 L536 539.4 L537 541.2 L538 542.9 L539 544.5 L540 546 L541 547.4 L542 548.5 L543 548.8 L544 548.3 L545 546.9 L546 544.6 L547 541.1 L548 536.3 L549 530.7 L550 524.6 L551 518.3 L552 512.2 L553 506.6 L554 501.5 L555 497.1 L556 493.7 L557 491.3 L558 490.3 L559 490 L560 481.3 L561 481.6 L562 481.9 L563 482.3 L564 482.7 L565 483.3 L566 484.1 L567 484.9 L568 485.7 L569 486.5 L570 487.3 L571 488.1 L572 488.9 L573 489.7 L574 490.5 L575 491.3 L576 492.4 L577 494.1 L578 496.2 L579 498.5 L580 501 L581 503.4 L582 505.8 L583 508.2 L584 510.6 L585 513.1 L586 515.5 L587 517.8 L588 520 L589 521.5 L590 522.2 L591 522.5 L592 522.7 L593 523 L594 523.6 L595 524.9 L596 526.8 L597 528.7 L598 530.8 L599 532.8 L600 534.8 L601 536.7 L602 538.5 L603 540.2 L604 541.8 L605 543.4 L606 545 L607 546.6 L608 548.1 L609 549.1 L610 549.6 L611 549.5 L612 549.3 L613 549.1 L614 548.9 L615 548.8 L616 548.9 L617 549.5 L618 550.7 L619 552.1 L620 553.6 L621 555 L622 556 L623 556.3 L624 555.8 L625 554.9 L626 554 L627 553 L628 552.1 L629 551.1 L630 550.2 L631 549.3 L632 548.6 L633 548.3 L634 548.3 L635 548.5 L636 548.8 L637 549 L638 549.3 L639 549.5 L640 549.8 L641 550 L642 550.3 L643 550.5 L644 550.7 L645 550.6 L646 550.1 L647 549.1 L648 548 L649 546.8 L650 545.6 L651 544.4 L652 543.1 L653 541.5 L654 539 L655 535.8 L656 532.1 L657 530.4 L658 529.4 L659 525.6 L660 519.4 L661 513.6 L662 509.9 L663 506.2 L664 502.5 L665 498.7 L666 494.8 L667 490.7 L668 486.7 L669 482.7 L670 478.7 L671 474.7 L672 470.6 L673 466.6 L674 462.6 L675 458.6 L676 454.6 L677 451.2 L678 449.2 L679 449.2 L680 450.2 L681 451.4 L682 452.1 L683 451.4 L684 449 L685 445.8 L686 442.3 L687 438.8 L688 435.6 L689 433.7 L690 434.1 L691 436.2 L692 439 L693 441.7 L694 444.6 L695 447.4 L696 450.2 L697 453.3 L698 456.8 L699 460.6 L700 464.6 L701 468.6 L702 472.6 L703 476.6 L704 480.5 L705 484.5 L706 488.5 L707 492.5 L708 496.5 L709 500.2 L710 502.7 L711 502.8 L712 501 L713 498.5 L714 495.8 L715 493.1 L716 490.4 L717 487.7 L718 485.1 L719 482.7 L720 481.6 L721 482.4 L722 484.5 L723 486.9 L724 489.3 L725 491.7 L726 494.1 L727 496.6 L728 499 L729 501.4 L730 503.8 L731 506.2 L732 508.6 L733 511 L734 513.4 L735 515.7 L736 517.6 L737 518.9 L738 519.6 L739 520.1 L740 520.6 L741 521 L742 521 L743 520 L744 517.8 L745 515 L746 512 L747 509 L748 505.9 L749 502.9 L750 499.9 L751 497 L752 494.3 L753 492.2 L754 490.6 L755 489.3 L756 487.9 L757 486.6 L758 485.3 L759 483.9 L760 482.6 L761 481.1 L762 478.6 L763 474.6 L764 469.4 L765 463.8 L766 458.2 L767 453 L768 448.2 L769 444 L770 440 L771 436 L772 432 L773 427.9 L774 423.9 L775 420 L776 416.4 L777 414.8 L778 416.4 L779 419.9 L780 423.9 L781 427.8 L782 431.5 L783 433.7 L784 433.5 L785 431.8 L786 429.5 L787 427.3 L788 425 L789 422.7 L790 420.5 L791 419.1 L792 419.5 L793 421.9 L794 425.2 L795 428.7 L796 432.3 L797 435.8 L798 439.3 L799 442.9 L800 446.4 L801 449.8 L802 452.3 L803 452.7 L804 450.9 L805 448 L806 444.9 L807 441.8 L808 438.6 L809 435.5 L810 432.3 L811 429.2 L812 426 L813 422.7 L814 419.5 L815 416.2 L816 412.9 L817 409.7 L818 406.4 L819 403.2 L820 399.8 L821 396.3 L822 392.4 L823 388.5 L824 384.5 L825 380.5 L826 376.4 L827 372.4 L828 368.4 L829 363.9 L830 357.3 L831 346.1 L832 330.3 L833 312.4 L834 294.1 L835 276.6 L836 262.8 L837 256 L838 255.1 L839 256.3 L840 257.9 L841 259.4 L842 259.7 L843 258.4 L844 256 L845 253.4 L846 251.1 L847 250.6 L848 255 L849 265.3 L850 278.4 L851 290.4 L852 298.8 L853 303.4 L854 306.4 L855 309 L856 311.9 L857 315.2 L858 318.9 L859 322.7 L860 326.4 L861 329.9 L862 331.6 L863 329.7 L864 324.1 L865 316.8 L866 309.2 L867 302 L868 296.7 L869 295.7 L870 299 L871 304.2 L872 309.6 L873 313.7 L874 314.8 L875 312.4 L876 308.3 L877 303.9 L878 299.4 L879 295 L880 290.7 L881 287 L882 284.9 L883 284.9 L884 285.8 L885 287.1 L886 288.3 L887 289.6 L888 291 L889 292.5 L890 294.1 L891 295.7 L892 297.4 L893 299.9 L894 303.5 L895 307.8 L896 312.4 L897 316.6 L898 318.6 L899 316 L900 308.8 L901 299.5 L902 289.9 L903 281 L904 273.1 L905 265.8 L906 258.7 L907 252.2 L908 248.3 L909 249.2 L910 253.5 L911 259 L912 264.5 L913 269 L914 270.4 L915 267.7 L916 262.6 L917 257 L918 251.6 L919 247 L920 244.2" fill="none" stroke="#4aa59a" stroke-width="2.2" stroke-linejoin="round" stroke-linecap="round" clip-path="url(#c19)"/>
<path d="M117 621.8 L118 621.7 L119 621.6 L120 621.6 L121 621.8 L122 622.1 L123 622.4 L124 622.7 L125 622.7 L126 622.1 L127 621.1 L128 620.1 L129 619.1 L130 618.1 L131 617.1 L132 616.1 L133 615.2 L134 614.2 L135 613.2 L136 612.5 L137 612.3 L138 612.5 L139 612.9 L140 613.2 L141 613.4 L142 613.3 L143 613.2 L144 613 L145 612.8 L146 612.4 L147 611.7 L148 610.9 L149 610 L150 609.2 L151 608.3 L152 607.5 L153 606.9 L154 606.7 L155 606.6 L156 606.4 L157 606.1 L158 605.4 L159 604.6 L160 603.7 L161 603 L162 602.8 L163 603.4 L164 604.3 L165 605.3 L166 606.3 L167 607.3 L168 608.2 L169 608.9 L170 609.7 L171 610.5 L172 611.3 L173 612 L174 612.7 L175 613 L176 612.5 L177 611.6 L178 610.6 L179 609.6 L180 608.6 L181 607.6 L182 606.8 L183 606.3 L184 605.8 L185 605.5 L186 605.1 L187 604.9 L188 604.9 L189 605.1 L190 605.2 L191 604.8 L192 603.6 L193 602 L194 600.4 L195 598.8 L196 597.8 L197 597.6 L198 598.1 L199 598.8 L200 599.4 L201 599.9 L202 600.1 L203 600 L204 599.9 L205 599.8 L206 600.1 L207 600.7 L208 601.7 L209 602.6 L210 603.6 L211 604.5 L212 604.7 L213 604.1 L214 602.8 L215 601.5 L216 600.1 L217 598.7 L218 597.4 L219 596.3 L220 595.5 L221 595 L222 594.5 L223 594 L224 593.4 L225 592.7 L226 592 L227 591.3 L228 590.6 L229 589.8 L230 589.1 L231 588.7 L232 588.8 L233 589.4 L234 590.1 L235 590.8 L236 591.6 L237 592.3 L238 592.9 L239 593.3 L240 593.6 L241 593.8 L242 594 L243 594.3 L244 594.9 L245 595.9 L246 597 L247 598.2 L248 599.3 L249 600.1 L250 600.6 L251 600.9 L252 601.2 L253 601.4 L254 601.6 L255 601.9 L256 602.2 L257 602.5 L258 605.4 L259 605.5 L260 605.1 L261 603.8 L262 601.6 L263 598.8 L264 595.9 L265 593.1 L266 590.7 L267 588.8 L268 587.6 L269 586.5 L270 585.3 L271 584.1 L272 583 L273 582.4 L274 582.5 L275 583.2 L276 584 L277 584.8 L278 585.5 L279 585.8 L280 585.4 L281 584.4 L282 583.1 L283 581.8 L284 580.6 L285 579.5 L286 578.6 L287 577.6 L288 576.9 L289 576.5 L290 576.4 L291 576.5 L292 576.7 L293 576.8 L294 576.9 L295 577.1 L296 577.3 L297 577.7 L298 578.2 L299 578.7 L300 579.3 L301 579.7 L302 580.2 L303 580.6 L304 581 L305 581.5 L306 581.9 L307 582.3 L308 582.7 L309 583.1 L310 583.4 L311 583.7 L312 583.9 L313 584.2 L314 584.5 L315 584.7 L316 585 L317 585.3 L318 585.6 L319 585.9 L320 586.6 L321 587.9 L322 589.8 L323 591.8 L324 592.9 L325 592.7 L326 591.6 L327 590.4 L328 589.1 L329 587.8 L330 586.6 L331 585.4 L332 584.5 L333 584.3 L334 585.2 L335 586.6 L336 588.1 L337 589.6 L338 591.1 L339 592.4 L340 593.4 L341 593.9 L342 594.1 L343 594.2 L344 594.3 L345 594.3 L346 594.3 L347 594.1 L348 593.9 L349 593.8 L350 593.8 L351 594 L352 594.4 L353 594.8 L354 595.3 L355 595.7 L356 596 L357 596.1 L358 596 L359 595.6 L360 595.1 L361 594.6 L362 594.1 L363 593.6 L364 593 L365 592.5 L366 591.9 L367 591.4 L368 590.9 L369 590.4 L370 590 L371 589.7 L372 589.5 L373 589.3 L374 589.2 L375 589.1 L376 588.9 L377 588.6 L378 588.3 L379 587.7 L380 586.9 L381 586 L382 585 L383 584.1 L384 583.2 L385 582.4 L386 581.9 L387 581.6 L388 581.5 L389 581.5 L390 581.4 L391 581.4 L392 581.4 L393 581.4 L394 581.4 L395 581.3 L396 581.2 L397 580.8 L398 580.3 L399 579.5 L400 578.3 L401 576.6 L402 574.9 L403 573.8 L404 573.5 L405 573.7 L406 574.1 L407 574.5 L408 575 L409 575.5 L410 576 L411 576.5 L412 577 L413 577.4 L414 577.9 L415 578.3 L416 578.7 L417 579 L418 579.2 L419 578.9 L420 578 L421 576.5 L422 574.8 L423 573 L424 571.2 L425 569.7 L426 568.7 L427 568.5 L428 568.5 L429 568.5 L430 568.4 L431 568.3 L432 568.2 L433 568.1 L434 567.9 L435 567.8 L436 567.8 L437 567.7 L438 567.6 L439 567.6 L440 567.5 L441 567.4 L442 567.4 L443 567.3 L444 567.3 L445 567.2 L446 567.3 L447 567.6 L448 568.4 L449 569.4 L450 570.6 L451 571.8 L452 573.2 L453 574.5 L454 575.8 L455 577 L456 577.8 L457 578.1 L458 578.1 L459 578 L460 577.8 L461 577.4 L462 576.7 L463 575.9 L464 575 L465 574.2 L466 573.3 L467 572.3 L468 570.9 L469 568.8 L470 566.3 L471 563.3 L472 559.3 L473 554.4 L474 549.9 L475 546.8 L476 545.2 L477 544.4 L478 543.8 L479 542.9 L480 541.6 L481 539.8 L482 538 L483 536.5 L484 535.9 L485 536 L486 536.6 L487 537.3 L488 538.2 L489 539.5 L490 541.1 L491 542.9 L492 544.8 L493 546.6 L494 548.5 L495 550.2 L496 551 L497 550.1 L498 547.7 L499 544.5 L500 541.3 L501 538.1 L502 535 L503 532.3 L504 530.3 L505 529.6 L506 529.8 L507 530.3 L508 531 L509 531.5 L510 531.8 L511 531.6 L512 531.2 L513 530.6 L514 530.1 L515 529.6 L516 529 L517 528.5 L518 527.9 L519 527.4 L520 526.8 L521 526.3 L522 526 L523 526.1 L524 526.4 L525 526.9 L526 527.4 L527 527.9 L528 528.4 L529 528.9 L530 529.4 L531 530.2 L532 531.3 L533 532.9 L534 534.8 L535 536.8 L536 538.7 L537 540.6 L538 542.2 L539 543.8 L540 545.2 L541 546.6 L542 547.6 L543 547.9 L544 547.3 L545 545.8 L546 543.4 L547 539.7 L548 534.9 L549 529.3 L550 523 L551 516.5 L552 510.2 L553 504.5 L554 499.3 L555 494.8 L556 491.1 L557 488.5 L558 487.3 L559 486.9 L560 475.4 L561 476.1 L562 477.1 L563 478.1 L564 479.1 L565 480.2 L566 481.2 L567 482.2 L568 483.3 L569 484.3 L570 485.3 L571 486.4 L572 487.4 L573 488.4 L574 489.5 L575 490.5 L576 491.6 L577 492.8 L578 494.4 L579 496.7 L580 499.2 L581 501.9 L582 504.5 L583 507.2 L584 509.8 L585 512.4 L586 514.8 L587 516.5 L588 517.4 L589 517.8 L590 518 L591 518.3 L592 518.7 L593 519.6 L594 520.9 L595 522.5 L596 524.2 L597 525.9 L598 527.5 L599 529.2 L600 530.8 L601 532.4 L602 533.8 L603 535.1 L604 536.4 L605 537.4 L606 538.6 L607 539.7 L608 540.9 L609 542 L610 543.1 L611 544.2 L612 545.1 L613 545.9 L614 546.8 L615 547.6 L616 548.5 L617 549.3 L618 550.1 L619 550.7 L620 551 L621 550.8 L622 550.5 L623 550.1 L624 549.8 L625 549.4 L626 549 L627 548.7 L628 548.3 L629 547.9 L630 547.6 L631 547.2 L632 546.8 L633 546.5 L634 546.1 L635 545.7 L636 545.4 L637 545 L638 544.6 L639 544.2 L640 544.7 L641 545.2 L642 545.6 L643 546.1 L644 546.5 L645 546.6 L646 546.1 L647 545 L648 543.7 L649 542.3 L650 541 L651 539.6 L652 538.2 L653 536.8 L654 535.1 L655 533.2 L656 531.3 L657 530.4 L658 529.4 L659 525.6 L660 519.4 L661 513 L662 507.8 L663 502.6 L664 497.4 L665 492.4 L666 487.5 L667 482.6 L668 477.8 L669 473 L670 468.2 L671 463.3 L672 458.3 L673 453.2 L674 448.1 L675 442.9 L676 437.9 L677 433.5 L678 431.1 L679 431.3 L680 432.9 L681 434.7 L682 436 L683 435.7 L684 433.5 L685 430.2 L686 426.7 L687 423.3 L688 420 L689 417.7 L690 417.5 L691 419.9 L692 423.7 L693 427.9 L694 432.2 L695 436.5 L696 441.1 L697 446 L698 451.2 L699 456.6 L700 461.8 L701 466.2 L702 469.7 L703 472.8 L704 475.8 L705 478.8 L706 481.8 L707 484.9 L708 488.2 L709 491.3 L710 493.7 L711 494.4 L712 493.3 L713 490.5 L714 487.1 L715 483.5 L716 479.9 L717 476.3 L718 472.7 L719 469.5 L720 467.8 L721 468.6 L722 471 L723 473.8 L724 476.6 L725 479.4 L726 482.4 L727 485.4 L728 488.5 L729 491.5 L730 494.5 L731 497.6 L732 500.6 L733 503.3 L734 505.6 L735 507.6 L736 509.3 L737 510.6 L738 511.5 L739 511.8 L740 511.3 L741 510.4 L742 509.2 L743 507.4 L744 505 L745 502.7 L746 500.5 L747 498.2 L748 495.7 L749 492.5 L750 488.8 L751 484.9 L752 481.1 L753 477.6 L754 474.5 L755 471.8 L756 469.8 L757 468.7 L758 468 L759 467.4 L760 466.7 L761 465.7 L762 462.9 L763 457.1 L764 449.7 L765 443.2 L766 438.4 L767 434.4 L768 430.2 L769 424.8 L770 428.9 L771 425.1 L772 420.6 L773 415.9 L774 411.3 L775 406.6 L776 402.3 L777 399.5 L778 399 L779 400 L780 401.3 L781 402.6 L782 403.9 L783 405.1 L784 405.6 L785 404.9 L786 403.1 L787 400.9 L788 398.6 L789 396.4 L790 394.1 L791 391.9 L792 389.6 L793 387.8 L794 387.6 L795 390.3 L796 394.6 L797 399.2 L798 404 L799 408.7 L800 413.4 L801 418.1 L802 422.7 L803 426.5 L804 428 L805 426.5 L806 423.2 L807 419.6 L808 415.9 L809 412.3 L810 408.6 L811 404.9 L812 401.2 L813 397.5 L814 393.8 L815 390.1 L816 386.4 L817 382.6 L818 378.6 L819 372.9 L820 363.5 L821 349.9 L822 334.9 L823 323.1 L824 317.6 L825 316.9 L826 317.7 L827 318.6 L828 317.8 L829 312.2 L830 300 L831 284.2 L832 267.6 L833 251 L834 234.4 L835 218.5 L836 206.1 L837 200.4 L838 200.1 L839 201.9 L840 204 L841 205.9 L842 206.8 L843 205.9 L844 204 L845 201.9 L846 200.1 L847 200.3 L848 205.7 L849 217.1 L850 230.1 L851 240 L852 246.1 L853 250.5 L854 254.6 L855 258.7 L856 263.1 L857 267.5 L858 272 L859 276.5 L860 280.9 L861 284.6 L862 285.5 L863 282.4 L864 276.9 L865 270.9 L866 264.8 L867 258.6 L868 252.3 L869 246.3 L870 242.5 L871 243.1 L872 247.7 L873 253.5 L874 257.5 L875 256.6 L876 251 L877 243.1 L878 234.9 L879 227.5 L880 222.6 L881 221 L882 221.2 L883 221.8 L884 222.5 L885 223.2 L886 223.9 L887 224.7 L888 225.5 L889 226.5 L890 227.9 L891 230.4 L892 233.6 L893 237.1 L894 241 L895 245.4 L896 250 L897 254.2 L898 255.5 L899 250.6 L900 239.5 L901 225.5 L902 211 L903 196.5 L904 182.7 L905 172.9 L906 171.3 L907 177.8 L908 186.1 L909 191.7 L910 194.8 L911 196.9 L912 198.5 L913 198.7 L914 197 L915 194 L916 190.9 L917 187.8 L918 185 L919 182.6 L920 180.9" fill="none" stroke="#1c7f50" stroke-width="4.0" stroke-linejoin="round" stroke-linecap="round" clip-path="url(#c21)"/>
<path d="M117 621.8 L118 621.7 L119 621.6 L120 621.6 L121 621.8 L122 622.1 L123 622.4 L124 622.7 L125 622.7 L126 622.1 L127 621.1 L128 620.1 L129 619.1 L130 618.1 L131 617.1 L132 616.1 L133 615.2 L134 614.2 L135 613.2 L136 612.5 L137 612.3 L138 612.5 L139 612.9 L140 613.2 L141 613.4 L142 613.3 L143 613.2 L144 613 L145 612.8 L146 612.4 L147 611.7 L148 610.9 L149 610 L150 609.2 L151 608.3 L152 607.5 L153 606.9 L154 606.7 L155 606.6 L156 606.4 L157 606.1 L158 605.4 L159 604.6 L160 603.7 L161 603 L162 602.8 L163 603.4 L164 604.3 L165 605.3 L166 606.3 L167 607.3 L168 608.2 L169 608.9 L170 609.7 L171 610.5 L172 611.3 L173 612 L174 612.7 L175 613 L176 612.5 L177 611.6 L178 610.6 L179 609.6 L180 608.6 L181 607.6 L182 606.8 L183 606.3 L184 605.8 L185 605.5 L186 605.1 L187 604.9 L188 604.9 L189 605.1 L190 605.2 L191 604.8 L192 603.6 L193 602 L194 600.4 L195 598.8 L196 597.8 L197 597.6 L198 598.1 L199 598.8 L200 599.4 L201 599.9 L202 600.1 L203 600 L204 599.9 L205 599.8 L206 600.1 L207 600.7 L208 601.7 L209 602.6 L210 603.6 L211 604.5 L212 604.7 L213 604.1 L214 602.8 L215 601.5 L216 600.1 L217 598.7 L218 597.4 L219 596.3 L220 595.5 L221 595 L222 594.5 L223 594 L224 593.4 L225 592.7 L226 592 L227 591.3 L228 590.6 L229 589.8 L230 589.1 L231 588.7 L232 588.8 L233 589.4 L234 590.1 L235 590.8 L236 591.6 L237 592.3 L238 592.9 L239 593.3 L240 593.6 L241 593.8 L242 594 L243 594.3 L244 594.9 L245 595.9 L246 597 L247 598.2 L248 599.3 L249 600.1 L250 600.6 L251 600.9 L252 601.2 L253 601.4 L254 601.6 L255 601.9 L256 602.2 L257 602.5 L258 605.4 L259 605.5 L260 605.1 L261 603.8 L262 601.5 L263 598.8 L264 595.8 L265 593 L266 590.6 L267 588.7 L268 587.5 L269 586.3 L270 585.1 L271 583.9 L272 582.8 L273 582.1 L274 582.3 L275 583 L276 583.8 L277 584.7 L278 585.4 L279 585.7 L280 585.2 L281 584.2 L282 582.9 L283 581.6 L284 580.4 L285 579.3 L286 578.3 L287 577.4 L288 576.7 L289 576.3 L290 576.3 L291 576.4 L292 576.5 L293 576.6 L294 576.7 L295 576.9 L296 577.1 L297 577.5 L298 578 L299 578.6 L300 579.1 L301 579.6 L302 580 L303 580.4 L304 580.9 L305 581.3 L306 581.7 L307 582.1 L308 582.6 L309 582.9 L310 583.2 L311 583.5 L312 583.8 L313 584.1 L314 584.3 L315 584.6 L316 584.9 L317 585.1 L318 585.4 L319 585.8 L320 586.4 L321 587.8 L322 589.7 L323 591.7 L324 592.8 L325 592.6 L326 591.5 L327 590.3 L328 589 L329 587.7 L330 586.4 L331 585.2 L332 584.3 L333 584.2 L334 585.1 L335 586.4 L336 587.9 L337 589.4 L338 590.9 L339 592.3 L340 593.2 L341 593.7 L342 593.9 L343 594.1 L344 594.2 L345 594.3 L346 594.2 L347 594 L348 593.8 L349 593.7 L350 593.7 L351 593.9 L352 594.3 L353 594.7 L354 595.2 L355 595.6 L356 595.9 L357 596.1 L358 595.9 L359 595.5 L360 595 L361 594.5 L362 594 L363 593.5 L364 592.9 L365 592.4 L366 591.8 L367 591.3 L368 590.8 L369 590.3 L370 589.9 L371 589.6 L372 589.4 L373 589.2 L374 589.1 L375 589 L376 588.8 L377 588.6 L378 588.2 L379 587.6 L380 586.8 L381 585.9 L382 585 L383 584 L384 583.1 L385 582.3 L386 581.8 L387 581.5 L388 581.4 L389 581.4 L390 581.4 L391 581.3 L392 581.3 L393 581.3 L394 581.3 L395 581.3 L396 581.1 L397 580.7 L398 580.2 L399 579.4 L400 578.1 L401 576.4 L402 574.7 L403 573.6 L404 573.4 L405 573.6 L406 574 L407 574.4 L408 574.9 L409 575.4 L410 575.9 L411 576.4 L412 576.9 L413 577.3 L414 577.8 L415 578.2 L416 578.6 L417 578.9 L418 579.1 L419 578.8 L420 577.9 L421 576.4 L422 574.7 L423 572.8 L424 571 L425 569.5 L426 568.6 L427 568.3 L428 568.3 L429 568.4 L430 568.3 L431 568.2 L432 568.1 L433 567.9 L434 567.8 L435 567.7 L436 567.6 L437 567.6 L438 567.5 L439 567.4 L440 567.4 L441 567.3 L442 567.3 L443 567.2 L444 567.1 L445 567.1 L446 567.2 L447 567.5 L448 568.2 L449 569.3 L450 570.5 L451 571.7 L452 573.1 L453 574.4 L454 575.7 L455 576.9 L456 577.7 L457 578 L458 578 L459 578 L460 577.8 L461 577.4 L462 576.7 L463 575.9 L464 575 L465 574.1 L466 573.2 L467 572.2 L468 570.8 L469 568.7 L470 566.2 L471 563.1 L472 559.1 L473 554 L474 549.2 L475 546.1 L476 544.5 L477 543.7 L478 543.1 L479 542.3 L480 540.9 L481 539.2 L482 537.3 L483 535.9 L484 535.2 L485 535.4 L486 536 L487 536.7 L488 537.6 L489 538.9 L490 540.5 L491 542.4 L492 544.3 L493 546.1 L494 548 L495 549.7 L496 550.6 L497 549.7 L498 547.3 L499 544.1 L500 540.8 L501 537.5 L502 534.5 L503 531.8 L504 529.8 L505 529 L506 529.2 L507 529.8 L508 530.5 L509 531.1 L510 531.3 L511 531.2 L512 530.7 L513 530.2 L514 529.7 L515 529.1 L516 528.6 L517 528 L518 527.4 L519 526.8 L520 526.3 L521 525.7 L522 525.4 L523 525.5 L524 525.9 L525 526.3 L526 526.8 L527 527.3 L528 527.8 L529 528.3 L530 528.9 L531 529.6 L532 530.8 L533 532.5 L534 534.4 L535 536.3 L536 538.3 L537 540.2 L538 541.8 L539 543.3 L540 544.8 L541 546 L542 547 L543 547.2 L544 546.6 L545 545 L546 542.5 L547 538.8 L548 533.9 L549 528.2 L550 521.7 L551 515 L552 508.6 L553 502.8 L554 497.5 L555 492.8 L556 488.9 L557 486.1 L558 484.8 L559 484.3 L560 473.7 L561 474.3 L562 475.2 L563 476.1 L564 477 L565 478 L566 479.1 L567 480.2 L568 481.3 L569 482.3 L570 483.3 L571 484.3 L572 485.3 L573 486.3 L574 487.3 L575 488.3 L576 489.4 L577 490.7 L578 492.6 L579 495.1 L580 497.9 L581 500.7 L582 503.4 L583 506.2 L584 509 L585 511.7 L586 514.1 L587 515.7 L588 516.3 L589 516.5 L590 516.5 L591 516.6 L592 516.9 L593 517.5 L594 518.9 L595 520.7 L596 522.6 L597 524.5 L598 526.5 L599 528.4 L600 530.2 L601 532 L602 533.6 L603 535.1 L604 536.4 L605 537.4 L606 538.5 L607 539.6 L608 540.7 L609 541.8 L610 542.7 L611 543.5 L612 544 L613 544.4 L614 544.8 L615 545.3 L616 546.2 L617 547.3 L618 548.4 L619 549.4 L620 549.9 L621 549.9 L622 549.6 L623 549.2 L624 548.7 L625 548.3 L626 547.8 L627 547.4 L628 546.9 L629 546.6 L630 546.2 L631 545.8 L632 545.5 L633 545.1 L634 544.7 L635 544.4 L636 544 L637 543.7 L638 543.4 L639 543.1 L640 543.7 L641 544.2 L642 544.7 L643 545.2 L644 545.6 L645 545.7 L646 545.2 L647 544.1 L648 542.8 L649 541.4 L650 540 L651 538.6 L652 537.2 L653 535.8 L654 534.3 L655 532.7 L656 531.1 L657 530.4 L658 529.4 L659 525.6 L660 519.4 L661 512.9 L662 507.4 L663 501.9 L664 496.4 L665 491 L666 485.9 L667 480.9 L668 475.9 L669 471 L670 466 L671 460.9 L672 455.7 L673 450.4 L674 445 L675 439.6 L676 434.4 L677 429.8 L678 427.3 L679 427.5 L680 429.3 L681 431.2 L682 432.6 L683 432.4 L684 430.2 L685 426.9 L686 423.5 L687 420 L688 416.7 L689 414.3 L690 414 L691 416.4 L692 420.5 L693 425 L694 429.6 L695 434.3 L696 439.2 L697 444.4 L698 450 L699 455.8 L700 461.2 L701 465.7 L702 469.1 L703 472 L704 474.8 L705 477.6 L706 480.4 L707 483.4 L708 486.4 L709 489.4 L710 491.8 L711 492.7 L712 491.6 L713 488.9 L714 485.3 L715 481.5 L716 477.7 L717 473.9 L718 470.1 L719 466.7 L720 464.9 L721 465.7 L722 468.2 L723 471 L724 473.9 L725 476.8 L726 479.9 L727 483.1 L728 486.2 L729 489.4 L730 492.6 L731 495.8 L732 498.9 L733 501.7 L734 504 L735 505.9 L736 507.6 L737 508.9 L738 509.8 L739 510 L740 509.4 L741 508.2 L742 506.7 L743 504.7 L744 502.3 L745 500.1 L746 498 L747 496 L748 493.5 L749 490.3 L750 486.4 L751 482.3 L752 478.3 L753 474.5 L754 471.1 L755 468.1 L756 466 L757 464.9 L758 464.3 L759 463.9 L760 463.4 L761 462.5 L762 459.6 L763 453.4 L764 445.5 L765 438.9 L766 434.2 L767 430.5 L768 426.4 L769 420.8 L770 422.8 L771 417.9 L772 412.7 L773 408.2 L774 404 L775 400 L776 396.3 L777 393.8 L778 393.4 L779 394.3 L780 395.4 L781 396.6 L782 397.6 L783 398.2 L784 398.2 L785 397.2 L786 395.7 L787 394.2 L788 392.9 L789 391.3 L790 389.2 L791 386.9 L792 384.6 L793 382.8 L794 382.9 L795 385.4 L796 389.5 L797 394.1 L798 398.9 L799 404 L800 409.2 L801 414.5 L802 419.3 L803 422.8 L804 423.5 L805 421.2 L806 417.4 L807 413.5 L808 409.9 L809 406.8 L810 403.8 L811 400.8 L812 397.6 L813 393.9 L814 389.9 L815 385.3 L816 380.1 L817 374.6 L818 369 L819 362.6 L820 353.5 L821 341.1 L822 327.7 L823 317.1 L824 312.1 L825 311.3 L826 312.1 L827 313.1 L828 312.7 L829 307.7 L830 296.3 L831 280.6 L832 263.3 L833 245 L834 226.7 L835 210.5 L836 198.9 L837 193.8 L838 193.8 L839 195.8 L840 198.1 L841 199.9 L842 200.4 L843 199.2 L844 197 L845 194.8 L846 193.1 L847 193.3 L848 198.5 L849 209.1 L850 221.8 L851 232.2 L852 238.5 L853 242.5 L854 246.4 L855 250.9 L856 256.1 L857 261.8 L858 267.4 L859 272.9 L860 278.1 L861 282.3 L862 283 L863 278.6 L864 271.3 L865 263.6 L866 256.4 L867 250.2 L868 244.5 L869 239.3 L870 236.2 L871 237.1 L872 241.4 L873 246.8 L874 250.4 L875 249.3 L876 243.5 L877 235.4 L878 227.4 L879 220.6 L880 216.2 L881 214.8 L882 215 L883 215.6 L884 216.2 L885 216.8 L886 217.4 L887 218.1 L888 218.9 L889 220 L890 221.7 L891 224.2 L892 227.2 L893 230.3 L894 233.9 L895 238.2 L896 243.4 L897 248.2 L898 250.2 L899 246.4 L900 236.7 L901 223.1 L902 207 L903 190 L904 175 L905 165.1 L906 163.6 L907 169.7 L908 177.7 L909 183.5 L910 187.2 L911 190 L912 192.1 L913 192.3 L914 190.2 L915 186.8 L916 183.4 L917 180.4 L918 178 L919 176.3 L920 175.4" fill="none" stroke="#6aab48" stroke-width="3.8" stroke-linejoin="round" stroke-linecap="round" clip-path="url(#c21)"/>
<path d="M117 621.8 L118 621.7 L119 621.6 L120 621.6 L121 621.8 L122 622.1 L123 622.4 L124 622.7 L125 622.7 L126 622.1 L127 621.1 L128 620.1 L129 619.1 L130 618.1 L131 617.1 L132 616.1 L133 615.2 L134 614.2 L135 613.2 L136 612.5 L137 612.3 L138 612.5 L139 612.9 L140 613.2 L141 613.4 L142 613.3 L143 613.2 L144 613 L145 612.8 L146 612.4 L147 611.7 L148 610.9 L149 610 L150 609.2 L151 608.3 L152 607.5 L153 606.9 L154 606.7 L155 606.6 L156 606.4 L157 606.1 L158 605.4 L159 604.6 L160 603.7 L161 603 L162 602.8 L163 603.4 L164 604.3 L165 605.3 L166 606.3 L167 607.3 L168 608.2 L169 608.9 L170 609.7 L171 610.5 L172 611.3 L173 612 L174 612.7 L175 613 L176 612.5 L177 611.6 L178 610.6 L179 609.6 L180 608.6 L181 607.6 L182 606.8 L183 606.3 L184 605.8 L185 605.5 L186 605.1 L187 604.9 L188 604.9 L189 605.1 L190 605.2 L191 604.8 L192 603.6 L193 602 L194 600.4 L195 598.8 L196 597.8 L197 597.6 L198 598.1 L199 598.8 L200 599.4 L201 599.9 L202 600.1 L203 600 L204 599.9 L205 599.8 L206 600.1 L207 600.7 L208 601.7 L209 602.6 L210 603.6 L211 604.5 L212 604.7 L213 604.1 L214 602.8 L215 601.5 L216 600.1 L217 598.7 L218 597.4 L219 596.3 L220 595.5 L221 595 L222 594.5 L223 594 L224 593.4 L225 592.7 L226 592 L227 591.3 L228 590.6 L229 589.8 L230 589.1 L231 588.7 L232 588.8 L233 589.4 L234 590.1 L235 590.8 L236 591.6 L237 592.3 L238 592.9 L239 593.3 L240 593.6 L241 593.8 L242 594 L243 594.3 L244 594.9 L245 595.9 L246 597 L247 598.2 L248 599.3 L249 600.1 L250 600.6 L251 600.9 L252 601.2 L253 601.4 L254 601.6 L255 601.9 L256 602.2 L257 602.5 L258 605.2 L259 605.2 L260 604.7 L261 603.1 L262 600.2 L263 596.3 L264 592.5 L265 589.3 L266 586.7 L267 584.7 L268 583.1 L269 581.3 L270 578.9 L271 576.7 L272 574.5 L273 573.3 L274 573.5 L275 574.7 L276 576.4 L277 578 L278 579.3 L279 579.8 L280 579 L281 577.5 L282 575.7 L283 574 L284 572.6 L285 571.6 L286 570.8 L287 570.2 L288 569.7 L289 569.3 L290 569.2 L291 569.1 L292 569 L293 569 L294 568.9 L295 568.9 L296 569.2 L297 569.9 L298 570.7 L299 571.6 L300 572.4 L301 573.1 L302 573.7 L303 574.2 L304 574.7 L305 575.2 L306 575.7 L307 576.2 L308 576.7 L309 577.1 L310 577.5 L311 577.9 L312 578.3 L313 578.6 L314 578.9 L315 579.3 L316 579.6 L317 579.9 L318 580.3 L319 580.7 L320 581.5 L321 582.9 L322 584.9 L323 587 L324 588.1 L325 587.8 L326 586.5 L327 585.1 L328 583.7 L329 582.3 L330 580.9 L331 579.5 L332 578.5 L333 578.3 L334 579.2 L335 580.6 L336 582.1 L337 583.7 L338 585.2 L339 586.7 L340 587.8 L341 588.7 L342 589.4 L343 590 L344 590.6 L345 590.9 L346 590.8 L347 590.4 L348 590 L349 589.7 L350 589.6 L351 589.8 L352 590.4 L353 591 L354 591.7 L355 592.3 L356 592.6 L357 592.6 L358 592.3 L359 591.8 L360 591.4 L361 590.8 L362 590.3 L363 589.7 L364 589.1 L365 588.4 L366 587.8 L367 587.1 L368 586.6 L369 586.3 L370 586.1 L371 586 L372 585.9 L373 585.9 L374 585.9 L375 585.8 L376 585.5 L377 585.1 L378 584.6 L379 584 L380 583.3 L381 582.5 L382 581.8 L383 581 L384 580.2 L385 579.4 L386 578.8 L387 578.4 L388 578.3 L389 578.3 L390 578.4 L391 578.5 L392 578.6 L393 578.6 L394 578.7 L395 578.7 L396 578.3 L397 577.3 L398 575.9 L399 574.3 L400 572.4 L401 570.6 L402 569.2 L403 568.5 L404 568.4 L405 568.6 L406 569 L407 569.5 L408 570.2 L409 571 L410 571.8 L411 572.6 L412 573.2 L413 573.9 L414 574.5 L415 575 L416 575.3 L417 575.5 L418 575.5 L419 575.3 L420 574.4 L421 572.9 L422 570.6 L423 568 L424 565.5 L425 563.7 L426 563 L427 563.2 L428 563.6 L429 563.9 L430 564 L431 563.9 L432 563.7 L433 563.5 L434 563.3 L435 563.2 L436 563.1 L437 563.1 L438 563 L439 563 L440 563 L441 562.9 L442 562.9 L443 562.9 L444 562.8 L445 562.9 L446 563 L447 563.4 L448 564 L449 564.9 L450 566.1 L451 567.5 L452 569.1 L453 570.7 L454 572.4 L455 573.9 L456 575.1 L457 575.8 L458 576.2 L459 576.4 L460 576.6 L461 576.4 L462 575.6 L463 574.5 L464 573.2 L465 572 L466 570.8 L467 569.5 L468 568.1 L469 566.3 L470 564.1 L471 560.8 L472 555.2 L473 547.3 L474 540.3 L475 536.8 L476 535.8 L477 535.6 L478 535.5 L479 535 L480 533.7 L481 532 L482 530.2 L483 528.7 L484 528 L485 528.3 L486 529.1 L487 530 L488 531.1 L489 532.6 L490 534.5 L491 536.5 L492 538.6 L493 540.7 L494 542.8 L495 544.8 L496 546 L497 545.5 L498 542.9 L499 539.3 L500 535.5 L501 531.9 L502 528.5 L503 525.7 L504 523.5 L505 522.5 L506 522.9 L507 524 L508 525.2 L509 526.2 L510 526.7 L511 526.5 L512 526 L513 525.4 L514 524.7 L515 524.1 L516 523.4 L517 522.7 L518 522 L519 521.3 L520 520.6 L521 519.9 L522 519.4 L523 519.3 L524 519.5 L525 520 L526 520.5 L527 521 L528 521.5 L529 522 L530 522.6 L531 523.6 L532 525.2 L533 527.2 L534 529.3 L535 531.6 L536 533.7 L537 535.7 L538 537.3 L539 538.5 L540 539.6 L541 540.7 L542 541.6 L543 541.9 L544 541.2 L545 539.2 L546 536.3 L547 532.6 L548 528 L549 522.2 L550 515.3 L551 507.9 L552 501.2 L553 495.4 L554 490.2 L555 485.4 L556 481.1 L557 478.1 L558 476.9 L559 476.6 L560 469.4 L561 469.8 L562 470.3 L563 470.9 L564 471.6 L565 472.5 L566 473.7 L567 474.9 L568 476.1 L569 477.2 L570 478.2 L571 479.1 L572 479.9 L573 480.8 L574 481.6 L575 482.5 L576 483.7 L577 485.5 L578 488 L579 491.1 L580 494.3 L581 497.5 L582 500.7 L583 503.8 L584 506.9 L585 509.9 L586 512.3 L587 513.5 L588 513.6 L589 513.2 L590 512.8 L591 512.3 L592 512 L593 512.3 L594 513.6 L595 515.8 L596 518.5 L597 521.1 L598 523.8 L599 526.3 L600 528.6 L601 530.9 L602 533.1 L603 534.9 L604 536.4 L605 537.4 L606 538.3 L607 539.2 L608 540.1 L609 541 L610 541.6 L611 541.7 L612 541.3 L613 540.5 L614 539.8 L615 539.5 L616 540.3 L617 542 L618 544.1 L619 546 L620 547.3 L621 547.7 L622 547.3 L623 546.7 L624 546 L625 545.3 L626 544.7 L627 544 L628 543.5 L629 543.1 L630 542.7 L631 542.3 L632 541.9 L633 541.6 L634 541.2 L635 540.8 L636 540.5 L637 540.2 L638 540.2 L639 540.3 L640 540.9 L641 541.6 L642 542.2 L643 542.8 L644 543.3 L645 543.5 L646 543 L647 541.9 L648 540.5 L649 539 L650 537.5 L651 536 L652 534.6 L653 533.2 L654 532.2 L655 531.3 L656 530.7 L657 530.4 L658 529.4 L659 525.6 L660 519.4 L661 512.6 L662 506.3 L663 499.9 L664 493.7 L665 487.6 L666 482 L667 476.5 L668 471.1 L669 465.7 L670 460.3 L671 454.8 L672 449.1 L673 443.2 L674 437.2 L675 431.2 L676 425.3 L677 420.2 L678 417.5 L679 417.8 L680 419.9 L681 422.2 L682 423.9 L683 423.9 L684 421.8 L685 418.6 L686 415.1 L687 411.6 L688 408.3 L689 405.6 L690 405.1 L691 407.6 L692 412.2 L693 417.5 L694 422.9 L695 428.4 L696 434.2 L697 440.5 L698 447 L699 453.6 L700 459.7 L701 464.4 L702 467.5 L703 470 L704 472.3 L705 474.5 L706 476.8 L707 479.3 L708 481.9 L709 484.6 L710 486.9 L711 488.1 L712 487.5 L713 484.6 L714 480.6 L715 476.3 L716 472 L717 467.7 L718 463.4 L719 459.5 L720 457.5 L721 458.3 L722 460.9 L723 463.9 L724 467 L725 470.2 L726 473.6 L727 477.1 L728 480.6 L729 484.1 L730 487.6 L731 491.1 L732 494.6 L733 497.5 L734 499.8 L735 501.5 L736 503.1 L737 504.4 L738 505.4 L739 505.6 L740 504.4 L741 502.5 L742 500.3 L743 497.9 L744 495.4 L745 493.5 L746 491.8 L747 490.1 L748 488 L749 484.7 L750 480.4 L751 475.8 L752 471.1 L753 466.6 L754 462.4 L755 458.7 L756 456.2 L757 455.2 L758 455 L759 454.9 L760 454.8 L761 454.2 L762 451.2 L763 444 L764 434.9 L765 427.7 L766 423.5 L767 420.4 L768 416.7 L769 410.5 L770 407.1 L771 399.3 L772 392.6 L773 388.2 L774 385.4 L775 382.9 L776 380.7 L777 379.1 L778 378.9 L779 379.5 L780 380.4 L781 381.2 L782 381.4 L783 380.6 L784 379.1 L785 377.5 L786 376.7 L787 377.1 L788 378 L789 378.1 L790 376.7 L791 374.2 L792 371.6 L793 370.1 L794 370.6 L795 373.1 L796 376.6 L797 380.7 L798 385.8 L799 391.9 L800 398.6 L801 405.2 L802 410.6 L803 413.2 L804 411.9 L805 407.6 L806 402.4 L807 397.7 L808 394.5 L809 392.7 L810 391.5 L811 390.2 L812 388.2 L813 384.7 L814 379.8 L815 373 L816 364 L817 353.9 L818 344.4 L819 336.1 L820 327.9 L821 318.5 L822 309 L823 301.6 L824 297.8 L825 296.9 L826 297.7 L827 299 L828 299.4 L829 296.3 L830 286.8 L831 271.4 L832 252.3 L833 229.8 L834 207 L835 189.9 L836 180.3 L837 176.8 L838 177.5 L839 180 L840 182.8 L841 184.5 L842 184 L843 181.7 L844 178.9 L845 176.6 L846 175 L847 175.5 L848 179.9 L849 188.7 L850 200.6 L851 212.1 L852 218.8 L853 222 L854 225.3 L855 230.7 L856 238.4 L857 247 L858 255.5 L859 263.6 L860 271 L861 276.6 L862 276.5 L863 268.8 L864 256.8 L865 244.6 L866 234.8 L867 228.5 L868 224.4 L869 221.3 L870 220 L871 221.5 L872 225.2 L873 229.5 L874 232.2 L875 230.5 L876 224.2 L877 215.8 L878 208.2 L879 202.8 L880 199.8 L881 198.9 L882 199.1 L883 199.7 L884 200.1 L885 200.4 L886 200.6 L887 201 L888 201.8 L889 203.4 L890 205.6 L891 208.1 L892 210.6 L893 212.9 L894 215.6 L895 219.9 L896 226.3 L897 232.9 L898 236.6 L899 235.5 L900 229.5 L901 217 L902 196.6 L903 173.5 L904 155 L905 145.2 L906 143.8 L907 148.7 L908 156 L909 162.4 L910 167.6 L911 172.4 L912 175.7 L913 175.8 L914 172.7 L915 168.2 L916 164.1 L917 161.3 L918 159.9 L919 160.2 L920 161.5" fill="none" stroke="#efac22" stroke-width="3.8" stroke-linejoin="round" stroke-linecap="round"/>
<path d="M117 621.2 L118 621.1 L119 621 L120 621 L121 621.2 L122 621.5 L123 621.8 L124 622.1 L125 622.1 L126 621.5 L127 620.5 L128 619.5 L129 618.5 L130 617.5 L131 616.5 L132 615.5 L133 614.6 L134 613.6 L135 612.6 L136 611.9 L137 611.7 L138 611.9 L139 612.3 L140 612.6 L141 612.8 L142 612.7 L143 612.6 L144 612.4 L145 612.2 L146 611.8 L147 611.1 L148 610.3 L149 609.4 L150 608.6 L151 607.7 L152 606.9 L153 606.3 L154 606.1 L155 606 L156 605.8 L157 605.5 L158 604.8 L159 604 L160 603.1 L161 602.4 L162 602.2 L163 602.8 L164 603.7 L165 604.7 L166 605.7 L167 606.7 L168 607.6 L169 608.3 L170 609.1 L171 609.9 L172 610.7 L173 611.4 L174 612.1 L175 612.4 L176 611.9 L177 611 L178 610 L179 609 L180 608 L181 607 L182 606.2 L183 605.7 L184 605.2 L185 604.9 L186 604.5 L187 604.3 L188 604.3 L189 604.5 L190 604.6 L191 604.2 L192 603 L193 601.4 L194 599.8 L195 598.2 L196 597.2 L197 597 L198 597.5 L199 598.2 L200 598.8 L201 599.3 L202 599.5 L203 599.4 L204 599.3 L205 599.2 L206 599.5 L207 600.1 L208 601.1 L209 602 L210 603 L211 603.9 L212 604.1 L213 603.5 L214 602.2 L215 600.9 L216 599.5 L217 598.1 L218 596.8 L219 595.7 L220 594.9 L221 594.4 L222 593.9 L223 593.4 L224 592.8 L225 592.1 L226 591.4 L227 590.7 L228 590 L229 589.2 L230 588.5 L231 588.1 L232 588.2 L233 588.8 L234 589.5 L235 590.2 L236 591 L237 591.7 L238 592.3 L239 592.7 L240 593 L241 593.2 L242 593.4 L243 593.7 L244 594.3 L245 595.3 L246 596.4 L247 597.6 L248 598.7 L249 599.5 L250 600 L251 600.3 L252 600.6 L253 600.8 L254 601 L255 601.3 L256 601.6 L257 602 L258 602.3 L259 602.6 L260 602.1 L261 599.4 L262 593.7 L263 586.7 L264 581.3 L265 578.7 L266 577.3 L267 576.2 L268 574.9 L269 573 L270 570 L271 566.4 L272 562.9 L273 560.8 L274 561.2 L275 563.3 L276 566.1 L277 568.9 L278 571.2 L279 571.9 L280 570.7 L281 568.6 L282 566.2 L283 564 L284 562.3 L285 561.4 L286 561.1 L287 560.9 L288 560.7 L289 560.5 L290 560.3 L291 560.1 L292 559.8 L293 559.5 L294 559.3 L295 559.2 L296 559.7 L297 560.6 L298 561.9 L299 563.2 L300 564.5 L301 565.4 L302 566.2 L303 566.8 L304 567.3 L305 567.9 L306 568.5 L307 569.1 L308 569.7 L309 570.3 L310 570.8 L311 571.3 L312 571.7 L313 572.1 L314 572.5 L315 572.9 L316 573.4 L317 573.8 L318 574.2 L319 574.7 L320 575.5 L321 577.1 L322 579.2 L323 581.4 L324 582.5 L325 582 L326 580.6 L327 579 L328 577.4 L329 575.8 L330 574.2 L331 572.7 L332 571.5 L333 571.3 L334 572.1 L335 573.6 L336 575.2 L337 576.8 L338 578.4 L339 580 L340 581.4 L341 582.7 L342 583.9 L343 585.1 L344 586.2 L345 586.8 L346 586.7 L347 586.2 L348 585.5 L349 584.9 L350 584.6 L351 584.9 L352 585.7 L353 586.6 L354 587.6 L355 588.3 L356 588.6 L357 588.4 L358 588 L359 587.5 L360 587 L361 586.5 L362 585.9 L363 585.3 L364 584.5 L365 583.7 L366 582.9 L367 582.1 L368 581.6 L369 581.5 L370 581.6 L371 581.7 L372 581.8 L373 581.9 L374 582 L375 581.9 L376 581.5 L377 580.9 L378 580.3 L379 579.7 L380 579.1 L381 578.5 L382 577.9 L383 577.3 L384 576.6 L385 575.9 L386 575.2 L387 574.7 L388 574.6 L389 574.7 L390 574.8 L391 575 L392 575.2 L393 575.4 L394 575.6 L395 575.6 L396 575 L397 573.2 L398 570.7 L399 568.1 L400 565.6 L401 563.6 L402 562.6 L403 562.4 L404 562.5 L405 562.7 L406 563 L407 563.6 L408 564.6 L409 565.7 L410 566.9 L411 568 L412 568.9 L413 569.7 L414 570.4 L415 571.1 L416 571.3 L417 571.3 L418 571.2 L419 570.9 L420 570.3 L421 568.5 L422 565.6 L423 562.2 L424 558.9 L425 556.7 L426 556.3 L427 557 L428 557.9 L429 558.6 L430 558.9 L431 558.8 L432 558.5 L433 558.2 L434 557.9 L435 557.7 L436 557.6 L437 557.6 L438 557.6 L439 557.6 L440 557.6 L441 557.6 L442 557.6 L443 557.6 L444 557.6 L445 557.7 L446 558 L447 558.4 L448 558.9 L449 559.6 L450 560.7 L451 562.4 L452 564.3 L453 566.3 L454 568.3 L455 570.2 L456 571.9 L457 573.1 L458 573.9 L459 574.6 L460 575.1 L461 575.1 L462 574.3 L463 572.8 L464 571.1 L465 569.5 L466 567.9 L467 566.4 L468 564.9 L469 563.4 L470 561.6 L471 558.1 L472 550.6 L473 539.3 L474 529.6 L475 525.7 L476 525.4 L477 526 L478 526.5 L479 526.3 L480 525.2 L481 523.5 L482 521.7 L483 520.2 L484 519.5 L485 520 L486 521 L487 522.2 L488 523.5 L489 525.2 L490 527.4 L491 529.7 L492 532.1 L493 534.5 L494 536.8 L495 539.1 L496 540.8 L497 540.6 L498 537.9 L499 533.8 L500 529.5 L501 525.3 L502 521.7 L503 518.7 L504 516.4 L505 515.2 L506 515.8 L507 517.4 L508 519.2 L509 520.7 L510 521.5 L511 521.3 L512 520.7 L513 520 L514 519.2 L515 518.5 L516 517.7 L517 516.9 L518 516 L519 515.1 L520 514.3 L521 513.4 L522 512.7 L523 512.4 L524 512.6 L525 513.1 L526 513.6 L527 514.1 L528 514.6 L529 515.1 L530 515.8 L531 517.1 L532 519.1 L533 521.5 L534 524 L535 526.5 L536 528.9 L537 531 L538 532.4 L539 533.4 L540 534.2 L541 534.9 L542 535.6 L543 535.9 L544 534.9 L545 532.3 L546 528.8 L547 525 L548 520.5 L549 514.4 L550 506.6 L551 498.3 L552 490.8 L553 484.7 L554 479.4 L555 474.1 L556 469 L557 465.3 L558 463.7 L559 463.4 L560 463.5 L561 463.5 L562 463.6 L563 463.7 L564 464.1 L565 464.9 L566 466.1 L567 467.5 L568 468.9 L569 470.1 L570 471 L571 471.8 L572 472.4 L573 473.1 L574 473.8 L575 474.5 L576 475.8 L577 478.2 L578 481.6 L579 485.5 L580 489.4 L581 493.2 L582 496.8 L583 500.5 L584 504 L585 507.4 L586 509.8 L587 510.5 L588 509.8 L589 508.7 L590 507.5 L591 506.4 L592 505.3 L593 505 L594 506.3 L595 509.2 L596 512.7 L597 516.4 L598 520 L599 523.3 L600 526.4 L601 529.4 L602 532.3 L603 534.8 L604 536.4 L605 537.4 L606 538.1 L607 538.7 L608 539.4 L609 540 L610 540.1 L611 539.3 L612 537.4 L613 535.1 L614 532.8 L615 531.5 L616 532.2 L617 534.7 L618 538 L619 541.3 L620 543.7 L621 544.6 L622 544.2 L623 543.3 L624 542.3 L625 541.3 L626 540.3 L627 539.4 L628 538.7 L629 538.2 L630 537.8 L631 537.4 L632 537 L633 536.6 L634 536.3 L635 535.9 L636 535.5 L637 535.4 L638 535.7 L639 536.4 L640 537.1 L641 537.9 L642 538.7 L643 539.5 L644 540.2 L645 540.5 L646 540 L647 538.8 L648 537.2 L649 535.6 L650 534 L651 532.4 L652 530.9 L653 529.7 L654 529.2 L655 529.5 L656 530 L657 530.4 L658 529.4 L659 525.6 L660 519.4 L661 512.1 L662 504.7 L663 497.2 L664 489.9 L665 482.9 L666 476.5 L667 470.4 L668 464.4 L669 458.5 L670 452.4 L671 446.3 L672 439.8 L673 433.1 L674 426.3 L675 419.5 L676 412.8 L677 407 L678 403.9 L679 404.4 L680 406.9 L681 409.7 L682 411.8 L683 412.1 L684 410.1 L685 406.9 L686 403.5 L687 400 L688 396.6 L689 393.6 L690 392.6 L691 395.3 L692 400.7 L693 407.1 L694 413.6 L695 420.3 L696 427.4 L697 435 L698 442.9 L699 450.6 L700 457.6 L701 462.6 L702 465.4 L703 467.2 L704 468.7 L705 470.2 L706 471.8 L707 473.6 L708 475.7 L709 477.9 L710 480.1 L711 481.8 L712 481.7 L713 478.7 L714 474.1 L715 469.1 L716 464.1 L717 459.1 L718 454.1 L719 449.6 L720 447.1 L721 447.9 L722 450.8 L723 454 L724 457.4 L725 460.9 L726 464.7 L727 468.7 L728 472.7 L729 476.7 L730 480.7 L731 484.7 L732 488.5 L733 491.7 L734 493.9 L735 495.5 L736 496.8 L737 498.2 L738 499.3 L739 499.3 L740 497.5 L741 494.6 L742 491.4 L743 488.3 L744 485.8 L745 484.2 L746 483.2 L747 482.1 L748 480.2 L749 476.9 L750 472.1 L751 466.7 L752 461.2 L753 455.7 L754 450.3 L755 445.6 L756 442.6 L757 441.7 L758 442 L759 442.5 L760 442.9 L761 442.7 L762 439.4 L763 430.8 L764 420.1 L765 412.3 L766 408.6 L767 406.5 L768 403.1 L769 396.1 L770 385.4 L771 373.6 L772 364.6 L773 360.5 L774 359.5 L775 359.2 L776 359 L777 358.8 L778 358.7 L779 359 L780 359.5 L781 359.8 L782 358.8 L783 356.1 L784 352.6 L785 350.1 L786 350.3 L787 353.4 L788 357.3 L789 359.8 L790 359.2 L791 356.5 L792 353.6 L793 352.4 L794 353.5 L795 355.9 L796 358.7 L797 362.3 L798 367.6 L799 375.1 L800 383.7 L801 392.2 L802 398.6 L803 399.9 L804 395.7 L805 388.7 L806 381.5 L807 375.8 L808 373.1 L809 373.1 L810 374.4 L811 375.5 L812 375.1 L813 371.9 L814 365.7 L815 356 L816 341.7 L817 325.2 L818 310.1 L819 299.3 L820 292.4 L821 287.2 L822 283 L823 280 L824 277.9 L825 276.9 L826 277.7 L827 279.5 L828 281.1 L829 280.3 L830 273.5 L831 258.7 L832 237 L833 208.6 L834 179.6 L835 161.3 L836 154.4 L837 153.2 L838 154.9 L839 158.2 L840 161.5 L841 163 L842 161.2 L843 157.5 L844 153.8 L845 151.2 L846 149.9 L847 150.6 L848 154 L849 160.3 L850 171 L851 184.1 L852 191.4 L853 193.4 L854 196 L855 202.7 L856 213.6 L857 226.5 L858 239.1 L859 250.6 L860 261.1 L861 268.6 L862 267.6 L863 255.2 L864 236.8 L865 218.3 L866 204.7 L867 198.4 L868 196.5 L869 196.3 L870 197.5 L871 199.9 L872 202.8 L873 205.5 L874 206.9 L875 204.4 L876 197.4 L877 188.6 L878 181.4 L879 178 L880 177 L881 176.8 L882 177.1 L883 177.5 L884 177.8 L885 177.7 L886 177.4 L887 177.3 L888 178.2 L889 180.4 L890 183.3 L891 185.9 L892 187.6 L893 188.7 L894 190.2 L895 194.4 L896 202.5 L897 211.6 L898 217.8 L899 220.5 L900 219.4 L901 208.5 L902 182.3 L903 150.5 L904 127.3 L905 117.5 L906 116.3 L907 119.7 L908 125.8 L909 133 L910 140.5 L911 147.8 L912 152.8 L913 152.9 L914 148.4 L915 142.3 L916 137.2 L917 134.7 L918 134.9 L919 137.9 L920 142.1" fill="none" stroke="#e27c1c" stroke-width="4.4" stroke-linejoin="round" stroke-linecap="round"/>
<path d="M117.5 535.9 C118 534.7 119.4 534.5 120.2 528.6 C121 522.7 121.7 503.9 122.6 500.7 C123.5 497.5 124.7 503.3 125.6 509.2 C126.5 515.1 127.4 531.2 128.1 535.9 C128.8 540.6 129.2 537.6 129.9 537.2 C130.6 536.8 131.5 529.2 132.3 533.5 C133.1 537.8 133.9 557.6 134.8 562.7 C135.7 567.8 136.7 565.9 137.8 563.9 C138.9 561.9 140.3 551.8 141.4 550.5 C142.5 549.2 143.5 556 144.5 556 C145.5 556 146.1 547.5 147.5 550.5 C148.9 553.5 151.5 570.3 153 574.3 C154.5 578.3 155.4 572.4 156.6 574.3 C157.8 576.2 159.1 584.1 160.1 585.7 C161.1 587.3 161.4 587.5 162.7 584 C164 580.5 166.1 569.7 168 564.6 C169.9 559.5 172.3 553.5 174.2 553.2 C176.1 552.9 177.8 559.5 179.4 562.9 C181 566.3 182.5 572.4 183.8 573.4 C185.1 574.4 186 568 187.3 569 C188.6 570 190.1 576.7 191.7 579.5 C193.3 582.3 195.2 585.2 197 585.7 C198.8 586.2 200.8 582.4 202.3 582.2 C203.8 582.1 204.2 585.5 205.8 584.8 C207.4 584.1 209.9 576.8 212 577.8 C214.1 578.8 216.3 588.6 218.1 591 C219.8 593.4 220.9 592.5 222.5 591.9 C224.1 591.3 226.3 587.2 227.8 587.5 C229.3 587.8 229.8 593 231.3 593.6 C232.8 594.2 234 591.1 236.6 591 C239.2 590.9 244.2 592.6 247.1 592.7 C250 592.9 252.1 591.9 254.1 591.9 C256.1 591.9 257.8 590.4 259.4 592.7 C261 595 262.3 603.4 263.8 605.9 C265.3 608.4 266.6 606.8 268.2 607.7 C269.8 608.6 271.8 611.5 273.5 611.2 C275.2 610.9 277.1 606.9 278.7 605.9 C280.3 604.9 281.6 604.6 283.1 605 C284.6 605.4 285.4 607.8 287.5 608.5 C289.6 609.2 293.2 609.7 295.8 609.4 C298.4 609.1 299.1 607.7 302.9 606.8 C306.7 605.9 315.5 605.7 318.7 604.2 C321.9 602.7 320.7 599 322.2 598 C323.7 597 325.4 597.9 327.5 598 C329.6 598.1 332.4 600.6 334.5 598.9 C336.6 597.1 338.1 590.3 339.8 587.5 C341.6 584.7 343.2 583.4 345 582.2 C346.8 581 349.1 579.8 350.3 580.4 C351.5 581 350.8 587.2 352 585.7 C353.2 584.2 355.5 574.1 357.3 571.6 C359.1 569.1 360.8 569.8 362.6 570.8 C364.4 571.8 366.1 576.8 367.9 577.8 C369.7 578.8 371.6 577.2 373.2 576.9 C374.8 576.6 375.9 575.1 377.6 576 C379.4 576.9 381.2 581.2 383.7 582.2 C386.2 583.2 389.9 580.9 392.5 582.2 C395.1 583.5 397.1 589.1 399.5 590 C401.9 590.9 404.2 588.4 406.6 587.5 C409 586.6 411.3 585.1 413.6 584.8 C415.9 584.5 418.9 584.1 420.6 585.7 C422.4 587.3 422.3 593.3 424.1 594.5 C425.9 595.7 428 593 431.2 592.7 C434.4 592.4 440.3 593.9 443.5 592.7 C446.7 591.5 447.9 587.2 450.5 585.7 C453.1 584.2 456.5 584.9 459 583.5 C461.5 582.1 463.7 578 465.4 577.1 C467.1 576.2 468 576.2 469.3 578.4 C470.6 580.5 471.8 586.4 473.1 590 C474.4 593.6 475.7 599.1 477.3 600.3 C478.9 601.5 481.1 598.1 483 597 C484.9 595.9 486 595.6 488.6 593.8 C491.2 592 494.9 588 498.4 586 C501.9 584 507 582.8 509.7 581.5 C512.4 580.2 511.9 578.5 514.6 578.5 C517.3 578.5 522.7 581.8 525.9 581.5 C529.1 581.2 531 580.1 534 576.5 C537 572.9 540.8 562.5 543.8 560 C546.8 557.5 549.7 559.7 551.9 561.3 C554.1 562.9 554.9 568.6 556.8 569.5 C558.6 570.4 561.2 567.3 563 566.8 C564.8 566.2 565.4 567.8 567.4 566.2 C569.4 564.6 571.9 561 574.9 557.3 C577.9 553.6 582.8 548.1 585.3 543.9 C587.8 539.7 587.7 535.2 589.7 532 C591.7 528.8 595.5 527.1 597.2 524.6 C598.9 522.1 599.1 521.2 600.1 517.2 C601.1 513.2 602.1 507 603.1 500.8 C604.1 494.6 605 490 606.1 480 C607.2 470 608 445.7 609.7 440.8 C611.4 435.9 614.3 454.9 616.2 450.6 C618.1 446.3 619.9 423.3 621.1 414.9 C622.3 406.5 622.3 417.5 623.5 400 C624.7 382.5 626.9 314.1 628.4 310 C629.9 305.9 630.8 376.8 632.4 375.7 C634 374.6 636.2 314.2 638.1 303.5 C640 292.8 641.9 319.5 643.8 311.6 C645.7 303.8 648 265.4 649.6 256.4 C651.2 247.4 652.1 250.9 653.2 257.6 C654.3 264.3 655.2 301 656.2 296.5 C657.2 292 658.2 249.7 659.3 230.8 C660.3 212 661.4 185.4 662.5 183.4 C663.6 181.4 664.8 187.7 665.9 218.7 C667 249.7 667.2 350.7 668.9 369.2 C670.6 387.7 674.4 335.4 676.2 329.5 C678 323.6 678.1 325.8 679.5 333.5 C680.9 341.2 682.9 371.2 684.3 375.7 C685.6 380.2 686.1 358.1 687.6 360.3 C689.1 362.5 691.6 388.5 693.2 388.6 C694.8 388.7 695.5 379.2 697.3 361.1 C699.1 343 701.9 300.2 703.8 280 C705.7 259.8 707.1 246.5 708.5 239.6 C709.9 232.7 711.1 246.7 712.2 238.4 C713.3 230.1 714.1 191.3 715.1 189.7 C716.1 188.1 717.1 221.8 718.2 228.7 C719.3 235.6 720.9 225.2 721.9 231.1 C722.9 237 723.1 267.5 724.3 263.9 C725.5 260.2 727.6 226 729.2 209.2 C730.8 192.4 732.5 173.6 734.1 163 C735.7 152.4 737 155.8 738.9 145.9 C740.8 136 743.9 102.2 745.7 103.4 C747.5 104.6 748.8 143.9 749.9 153.2 C751 162.5 751.3 150.6 752.3 159.3 C753.3 168 754.7 197.6 755.9 205.5 C757.1 213.4 758.7 204 759.6 206.8 C760.5 209.7 760.5 226.4 761.3 222.6 C762.1 218.8 763.4 183.9 764.5 183.7 C765.6 183.5 767.1 208.2 768.1 221.4 C769.1 234.6 769.7 258.8 770.5 262.7 C771.3 266.6 771.9 235.4 773 244.5 C774.1 253.6 775.3 312.6 777 317.5 C778.7 322.4 781.1 274.2 783.1 273.8 C785.1 273.4 786.8 307.4 789.2 315.1 C791.6 322.8 795.6 324.7 797.6 320 C799.6 315.3 799.8 301.2 801.4 286.8 C803 272.4 805.4 237 807 233.8 C808.6 230.7 809.5 258.4 810.8 267.9 C812.1 277.4 813.3 285.6 814.6 290.6 C815.9 295.6 817.1 291.8 818.4 298.1 C819.7 304.4 821 317.1 822.2 328.4 C823.4 339.7 824.3 354.2 825.7 365.7 C827.1 377.2 829.2 390.6 830.5 397.3 C831.8 404 832.5 402.4 833.5 405.7 C834.5 409 835 407.2 836.3 417 C837.6 426.8 839.4 455.5 841.1 464.3 C842.9 473.1 844.9 471.6 846.8 470 C848.7 468.4 850.5 460.3 852.4 454.9 C854.3 449.5 855.9 443.9 858.1 437.8 C860.3 431.7 863.8 418 865.7 418 C867.6 418 868.2 431.7 869.5 437.8 C870.8 443.9 871.6 453.9 873.2 454.9 C874.8 455.8 877.3 441.9 878.9 443.5 C880.5 445.1 880.8 461.2 882.7 464.3 C884.6 467.4 888.1 462.7 890.3 462.4 C892.5 462.1 893.8 464.9 895.9 462.4 C898 459.9 900.9 443.8 902.6 447.3 C904.3 450.8 905.2 476.6 906.3 483.2 C907.4 489.8 907.8 487.9 909.2 487 C910.6 486.1 913.2 477.9 914.9 477.6 C916.6 477.3 918.8 483.9 919.6 485.1" fill="none" stroke="#56449a" stroke-width="4.0" stroke-linejoin="round" stroke-linecap="round"/>
<rect x="3.0" y="11" width="17" height="22" rx="4" fill="#5a449c"/>
<text x="24.2" y="30.5" class="lg">Crypto Market Cap</text>
<rect x="214.6" y="11" width="17" height="22" rx="4" fill="#2a66a0"/>
<text x="238.2" y="30.5" class="lg">Tether</text>
<rect x="310.7" y="11" width="17" height="22" rx="4" fill="#3aa3a3"/>
<text x="331.0" y="30.5" class="lg" textLength="56.8" lengthAdjust="spacingAndGlyphs">USDC</text>
<rect x="398.1" y="11" width="17" height="22" rx="4" fill="#1e8050"/>
<text x="420.3" y="30.5" class="lg" textLength="123.7" lengthAdjust="spacingAndGlyphs">Binance USD</text>
<rect x="555.5" y="11" width="17" height="22" rx="4" fill="#6aaa48"/>
<text x="576.2" y="30.5" class="lg">Dai</text>
<rect x="620.4" y="11" width="17" height="22" rx="4" fill="#eeaa20"/>
<text x="641.6" y="30.5" class="lg">Frax</text>
<rect x="694.4" y="11" width="17" height="22" rx="4" fill="#e07818"/>
<text x="714.7" y="30.5" class="lg">10 Others</text>
<text transform="translate(42 351) rotate(-90)" text-anchor="middle" class="tt">market dominance</text>
</svg>
</body></html>
